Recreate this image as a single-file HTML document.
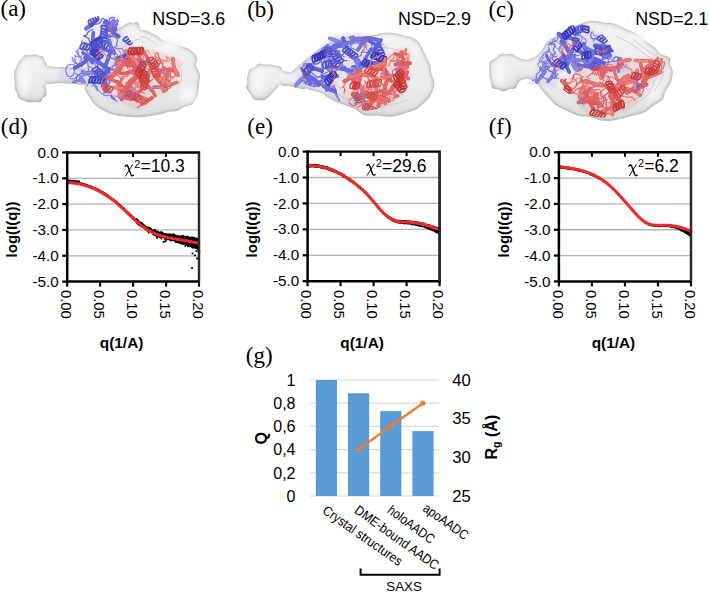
<!DOCTYPE html>
<html><head><meta charset="utf-8"><style>
html,body{margin:0;padding:0;background:#fff;width:709px;height:594px;overflow:hidden}
svg{display:block}
</style></head><body>
<svg width="709" height="594" viewBox="0 0 709 594">
<defs><filter id="soft" x="-20%" y="-20%" width="140%" height="140%"><feGaussianBlur stdDeviation="1.0"/></filter><filter id="hl" x="-50%" y="-50%" width="200%" height="200%"><feGaussianBlur stdDeviation="3"/></filter><filter id="soft2" x="-5%" y="-5%" width="110%" height="110%"><feGaussianBlur stdDeviation="0.4"/></filter><filter id="inner" x="-10%" y="-10%" width="120%" height="120%"><feGaussianBlur in="SourceAlpha" stdDeviation="1.9" result="b"/><feComposite in="SourceAlpha" in2="b" operator="out" result="rim"/><feFlood flood-color="#6e6e6e" result="fc"/><feComposite in="fc" in2="rim" operator="in" result="rimc"/><feMerge><feMergeNode in="SourceGraphic"/><feMergeNode in="rimc"/></feMerge><feGaussianBlur stdDeviation="0.5"/></filter><linearGradient id="bgr" x1="0" y1="0" x2="0" y2="1"><stop offset="0" stop-color="#f3f3f3"/><stop offset="0.6" stop-color="#ececec"/><stop offset="1" stop-color="#dedede"/></linearGradient><filter id="ct" x="-10%" y="-10%" width="120%" height="120%"><feGaussianBlur stdDeviation="0.6"/></filter>
<clipPath id="cba"><path d="M87 21.44C90.18 17.55 94.81 16.88 99.93 15.5C105.05 14.13 113.9 11.16 117.74 13.17C121.57 15.19 120.88 23.14 122.93 27.59C124.98 32.04 127.15 36.46 130.03 39.88C132.91 43.31 137.45 45.41 140.21 48.15C142.96 50.89 148.6 54.26 146.57 56.31C144.54 58.36 133.14 57.71 128.02 60.45C122.9 63.19 118.92 67.96 115.83 72.74C112.74 77.53 108.8 83.7 109.47 89.17C110.14 94.65 120.92 104.23 119.86 105.6C118.8 106.98 107.91 100.18 103.11 97.44C98.3 94.7 95.09 91.24 91.02 89.17C86.96 87.11 84.31 86.36 78.73 85.04C73.15 83.71 61.59 82.92 57.53 81.22C53.47 79.53 52.94 77.69 54.35 74.86C55.76 72.04 62.83 68.15 66.01 64.26C69.19 60.38 70.96 55.78 73.43 51.54C75.9 47.3 78.59 43.84 80.85 38.82C83.11 33.81 83.82 25.33 87 21.44Z"/></clipPath>
<clipPath id="cra"><path d="M125.38 48.37C130.5 45.32 133.77 44.84 139.69 45.19C145.61 45.55 153.34 47.84 160.89 50.49C168.43 53.14 181.42 57.56 184.95 61.09C188.48 64.63 183.09 67.88 182.09 71.69C181.08 75.51 182.19 80.23 178.91 83.99C175.62 87.75 168.2 90.49 162.37 94.27C156.54 98.05 148.06 103.72 143.93 106.67C139.79 109.62 142.02 112.68 137.57 111.97C133.12 111.27 123.4 106.85 117.22 102.43C111.03 98.02 101.85 91.96 100.47 85.47C99.09 78.99 104.8 69.72 108.95 63.53C113.1 57.35 120.25 51.43 125.38 48.37Z"/></clipPath>
<clipPath id="cbb"><path d="M300.56 65.04C304.3 59.81 311.02 54.58 316.25 49.35C321.48 44.12 325.57 36.84 331.93 33.66C338.29 30.48 348.81 30.46 354.41 30.27C360.01 30.07 360.68 31.19 365.54 32.49C370.39 33.8 379.44 34.93 383.56 38.11C387.67 41.29 390.61 47.09 390.23 51.57C389.86 56.06 386.56 60.92 381.33 65.04C376.1 69.15 365.22 74.77 358.86 76.27C352.5 77.77 346.92 71.8 343.17 74.05C339.43 76.29 336.76 84.87 336.39 89.73C336.02 94.59 341.69 101.34 340.94 103.2C340.2 105.05 334.94 103.11 331.93 100.86C328.93 98.62 326.69 91.96 322.92 89.73C319.16 87.51 314.59 87.88 309.36 87.51C304.13 87.14 294.15 88.64 291.55 87.51C288.95 86.38 292.27 84.47 293.77 80.72C295.28 76.98 296.81 70.26 300.56 65.04Z"/></clipPath>
<clipPath id="crb"><path d="M343 73.54C348.6 69.8 362.08 70.24 369.93 66.44C377.77 62.64 383.34 54.11 390.07 50.75C396.8 47.4 406.57 44.06 410.31 46.3C414.06 48.55 412.54 57.49 412.54 64.22C412.54 70.95 412.19 81.07 410.31 86.69C408.44 92.31 405.42 94.57 401.3 97.92C397.19 101.28 392.72 104.6 385.62 106.83C378.51 109.05 365.79 111.65 358.69 111.28C351.59 110.91 346.73 108.33 343 104.6C339.28 100.87 336.33 94.09 336.33 88.91C336.33 83.74 337.4 77.29 343 73.54Z"/></clipPath>
<clipPath id="cbc"><path d="M524.15 85.83C522.45 84.15 529.66 80.4 531.78 75.76C533.9 71.11 533.05 65.16 536.87 57.95C540.69 50.74 548.32 38.02 554.68 32.51C561.04 27 568.67 25.72 575.03 24.88C581.39 24.03 587.75 25.3 592.84 27.42C597.93 29.54 601.76 33.36 605.56 37.6C609.36 41.84 611.39 48.62 615.63 52.86C619.87 57.1 628.03 59.64 631 63.04C633.97 66.43 635.56 71.52 633.44 73.21C631.32 74.91 625.05 73.64 618.28 73.21C611.51 72.79 599.64 70.24 592.84 70.67C586.04 71.09 582.59 75.33 577.47 75.76C572.35 76.18 565.9 71.09 562.1 73.21C558.3 75.33 558.04 86.37 554.68 88.48C551.32 90.58 547.05 86.27 541.96 85.83C536.87 85.39 525.85 87.51 524.15 85.83Z"/></clipPath>
<clipPath id="crc"><path d="M557.82 76.99C561.25 74.45 571.85 74.45 580.71 71.91C589.58 69.36 602.14 64.27 611.03 61.73C619.92 59.19 624.26 57.49 634.03 56.64C643.8 55.79 664.56 53.67 669.65 56.64C674.74 59.61 668.38 68.96 664.56 74.45C660.74 79.94 651.43 84.13 646.75 89.61C642.07 95.09 642.42 102.65 636.47 107.31C630.52 111.97 620.32 116.71 611.03 117.59C601.74 118.48 587.04 116 580.71 112.61C574.39 109.22 576.51 101.48 573.08 97.24C569.65 93 562.69 90.54 560.15 87.17C557.61 83.8 554.39 79.54 557.82 76.99Z"/></clipPath>
</defs>
<g filter="url(#inner)" fill="url(#bgr)">
<path d="M128.44 22.72C130.54 21.97 131.6 22.98 133.16 22.95C134.73 22.91 136.79 21.9 137.84 22.51C138.9 23.11 138.98 25.44 139.51 26.59C140.04 27.73 139.7 28.62 141 29.38C142.3 30.14 145.25 30.34 147.32 31.12C149.38 31.91 151.53 33.09 153.39 34.09C155.25 35.09 156.78 36.02 158.46 37.12C160.15 38.23 161.45 39.92 163.49 40.72C165.53 41.53 168.58 41.31 170.69 41.96C172.8 42.61 174.05 43.85 176.15 44.63C178.26 45.41 181.08 45.88 183.3 46.65C185.53 47.41 187.71 48.09 189.52 49.21C191.33 50.33 192.96 51.85 194.17 53.37C195.38 54.88 196.45 56.16 196.79 58.31C197.13 60.45 195.72 63.61 196.21 66.25C196.7 68.88 199.25 71.18 199.75 74.13C200.24 77.09 199.48 80.76 199.16 83.98C198.85 87.21 198.52 90.92 197.86 93.47C197.2 96.02 196.23 97.48 195.21 99.31C194.18 101.14 193.59 103.17 191.69 104.46C189.79 105.74 186.24 105.95 183.8 107.02C181.36 108.08 179.57 110.07 177.04 110.86C174.52 111.65 171.3 111.24 168.64 111.75C165.99 112.26 164.29 113.25 161.12 113.94C157.95 114.64 153.46 115.38 149.63 115.93C145.8 116.49 142.17 117.19 138.15 117.29C134.14 117.38 129.71 116.97 125.53 116.51C121.36 116.06 116.74 115.58 113.09 114.57C109.44 113.57 106.57 112.08 103.63 110.49C100.69 108.9 97.68 107.05 95.46 105.03C93.24 103.01 91.94 100.65 90.33 98.38C88.72 96.11 86.77 94 85.8 91.4C84.83 88.8 84.77 85.7 84.49 82.8C84.21 79.9 83.6 76.87 84.11 73.99C84.62 71.11 86.81 68.4 87.58 65.53C88.35 62.65 87.75 59.4 88.73 56.74C89.72 54.08 91.84 51.92 93.49 49.56C95.14 47.19 96.66 44.72 98.63 42.57C100.59 40.42 103 38.53 105.28 36.66C107.56 34.79 109.77 32.9 112.32 31.36C114.86 29.82 117.87 28.85 120.55 27.41C123.24 25.97 126.34 23.46 128.44 22.72Z"/>
<path d="M25.06 55.2C26.38 54.69 28.36 55.34 30.03 55.18C31.69 55.02 33.55 54.13 35.04 54.24C36.53 54.35 37.61 55.43 38.97 55.84C40.32 56.25 42.22 55.82 43.17 56.7C44.12 57.57 44.07 59.75 44.68 61.09C45.29 62.42 46.49 62.82 46.85 64.71C47.21 66.59 46.97 69.85 46.83 72.39C46.69 74.93 46.14 77.43 46.01 79.92C45.87 82.41 45.97 84.77 46.01 87.34C46.05 89.9 46.77 93.5 46.26 95.31C45.76 97.13 44 97.12 42.99 98.22C41.97 99.33 41.66 101.34 40.16 101.95C38.66 102.56 36.01 101.88 33.99 101.9C31.97 101.92 29.81 102.33 28.06 102.08C26.3 101.82 24.99 101.01 23.46 100.37C21.92 99.73 19.95 99.49 18.86 98.24C17.76 96.98 17.58 94.58 16.91 92.83C16.24 91.09 15.23 89.84 14.85 87.78C14.48 85.72 14.8 82.96 14.66 80.47C14.53 77.99 13.74 75.15 14.05 72.88C14.36 70.61 15.68 68.78 16.54 66.85C17.4 64.92 18.3 62.74 19.23 61.31C20.16 59.87 21.14 59.25 22.11 58.23C23.08 57.21 23.74 55.71 25.06 55.2Z"/>
<path d="M44 67.5C46.67 64.83 54.83 66.92 60 67C65.17 67.08 70 67.5 75 68C80 68.5 87.5 67.33 90 70C92.5 72.67 92.5 81.67 90 84C87.5 86.33 80 84.17 75 84C70 83.83 65.17 83.17 60 83C54.83 82.83 46.67 85.58 44 83C41.33 80.42 41.33 70.17 44 67.5Z"/>
</g>
<g filter="url(#hl)" fill="#f7f7f7">
<ellipse cx="24.74" cy="78.5" rx="5.12" ry="16.8"/>
<ellipse cx="170.51" cy="44.8" rx="10.47" ry="6.24"/>
<ellipse cx="110.78" cy="89.08" rx="7.05" ry="7.22"/>
<ellipse cx="103.48" cy="64.22" rx="7.7" ry="5.35"/>
<ellipse cx="187.64" cy="94.79" rx="8.43" ry="8.42"/>
<ellipse cx="112.75" cy="62.1" rx="12.84" ry="7.21"/>
</g>
<g filter="url(#ct)" fill="none" stroke="#cdcdcd" stroke-width="1">
<path d="M181.66 69.3C181.56 71.16 181.67 77.5 181.08 80.49C180.49 83.49 178.61 86.15 178.12 87.28"/>
<path d="M139.69 36.25C141.33 36.76 146.64 37.79 149.54 39.3C152.45 40.81 155.86 44.32 157.13 45.32"/>
<path d="M119.43 51.63C120.64 50.47 123.91 46.67 126.7 44.7C129.49 42.74 133.66 40.57 136.16 39.86C138.66 39.15 140.49 39.78 141.7 40.43C142.92 41.09 143.15 43.22 143.43 43.78"/>
<path d="M111.49 96.24C110.42 94.74 106.35 90.66 105.08 87.24C103.81 83.82 103.42 79.52 103.89 75.73C104.35 71.94 107.19 66.36 107.86 64.49"/>
</g>
<path d="M87.8 23.6C90.8 19.93 95.17 19.3 100 18C104.83 16.7 113.18 13.9 116.8 15.8C120.42 17.7 119.77 25.2 121.7 29.4C123.63 33.6 125.68 37.77 128.4 41C131.12 44.23 135.4 46.22 138 48.8C140.6 51.38 145.92 54.57 144 56.5C142.08 58.43 131.33 57.82 126.5 60.4C121.67 62.98 117.92 67.48 115 72C112.08 76.52 108.37 82.33 109 87.5C109.63 92.67 119.8 101.7 118.8 103C117.8 104.3 107.53 97.88 103 95.3C98.47 92.72 95.43 89.45 91.6 87.5C87.77 85.55 85.27 84.85 80 83.6C74.73 82.35 63.83 81.6 60 80C56.17 78.4 55.67 76.67 57 74C58.33 71.33 65 67.67 68 64C71 60.33 72.67 56 75 52C77.33 48 79.87 44.73 82 40C84.13 35.27 84.8 27.27 87.8 23.6Z" fill="#9090dc" fill-opacity="0.18" filter="url(#soft)"/>
<path d="M126.5 50C131.33 47.12 134.42 46.67 140 47C145.58 47.33 152.88 49.5 160 52C167.12 54.5 179.37 58.67 182.7 62C186.03 65.33 180.95 68.4 180 72C179.05 75.6 180.1 80.05 177 83.6C173.9 87.15 166.9 89.73 161.4 93.3C155.9 96.87 147.9 102.22 144 105C140.1 107.78 142.2 110.67 138 110C133.8 109.33 124.63 105.17 118.8 101C112.97 96.83 104.3 91.12 103 85C101.7 78.88 107.08 70.13 111 64.3C114.92 58.47 121.67 52.88 126.5 50Z" fill="#e08080" fill-opacity="0.18" filter="url(#soft)"/>
<g filter="url(#soft2)" fill="none" stroke-linecap="round" stroke-linejoin="round">
<g clip-path="url(#cba)"><path d="M73.51 80.28C74.11 80.39 76.06 80.78 77.11 80.96C78.17 81.13 79.21 81.7 79.82 81.32C80.44 80.94 80.42 79.61 80.79 78.66C81.15 77.72 81.26 76.42 82.01 75.64C82.76 74.86 84.74 74.26 85.29 73.98" stroke="#8080e4" stroke-width="1.31"/>
<path d="M108.89 41.39C108.5 41.66 107.51 42.3 106.53 43.03C105.55 43.77 104.05 45.2 103.03 45.8C102.02 46.41 101.21 45.71 100.45 46.66C99.69 47.62 99.21 50.52 98.48 51.52C97.74 52.52 96.85 52.13 96.03 52.67C95.2 53.21 93.7 53.93 93.55 54.77C93.4 55.61 94.52 56.4 95.13 57.72C95.75 59.04 96.41 61.9 97.25 62.71C98.08 63.52 99.67 62.58 100.16 62.56" stroke="#8080e4" stroke-width="1.39"/>
<path d="M107.85 28.04C108.44 28.12 110.4 28.64 111.38 28.55C112.37 28.46 112.91 27.73 113.76 27.49C114.6 27.26 115.92 27.78 116.46 27.16C116.99 26.53 116.88 24.33 116.97 23.76" stroke="#7676e0" stroke-width="1.4"/>
<path d="M87.61 75.54C88.41 75.93 91.23 78.02 92.41 77.86C93.6 77.7 94.88 75.62 94.71 74.58C94.53 73.54 92.3 72.25 91.35 71.61C90.39 70.96 89.65 70.49 88.98 70.71C88.3 70.92 87.31 72.07 87.3 72.91C87.28 73.76 88.21 74.88 88.88 75.78C89.54 76.68 91.27 77.25 91.27 78.32C91.27 79.4 89.54 80.99 88.88 82.23C88.22 83.48 87.55 85.19 87.29 85.78" stroke="#6a6adc" stroke-width="0.91"/>
<path d="M109.31 57.74C110.09 57.97 112.71 58.42 113.96 59.1C115.21 59.79 116.56 60.83 116.81 61.84C117.06 62.86 115.23 64.07 115.46 65.19C115.69 66.3 118.62 67.84 118.21 68.54C117.79 69.24 114.39 69.16 112.99 69.39C111.58 69.62 110.82 69.6 109.8 69.92C108.79 70.25 108.18 71.06 106.88 71.34C105.57 71.62 102.79 71.54 101.97 71.58" stroke="#7676e0" stroke-width="1.34"/>
<path d="M90.44 66.65C90.82 67.11 92.52 68.57 92.67 69.41C92.83 70.25 90.96 70.69 91.4 71.7C91.84 72.72 94.73 74.4 95.3 75.5C95.87 76.6 94.98 76.95 94.83 78.3C94.68 79.64 94.47 82.68 94.4 83.56" stroke="#8080e4" stroke-width="1.09"/>
<path d="M102.24 74.41C102.84 74.2 105.29 73.78 105.88 73.14C106.47 72.49 105.4 71.18 105.77 70.55C106.14 69.91 107 69.42 108.08 69.3C109.16 69.19 110.83 70.11 112.26 69.85C113.69 69.6 116.08 68.58 116.66 67.77C117.25 66.97 116.1 65.85 115.77 65.01C115.43 64.16 114.56 63.53 114.65 62.69C114.74 61.84 116.26 60.77 116.31 59.93C116.36 59.1 115.28 58.67 114.96 57.66C114.64 56.65 114.48 54.5 114.38 53.87" stroke="#8a8ae6" stroke-width="1.17"/>
<path d="M112.67 47.95C113.27 47.69 115.59 47.05 116.27 46.38C116.95 45.7 116.59 45.08 116.76 43.89C116.93 42.71 117.61 40.41 117.28 39.28C116.95 38.15 115.94 37.65 114.78 37.09C113.62 36.53 111.08 36.12 110.34 35.93" stroke="#6a6adc" stroke-width="1.15"/>
<path d="M76.48 51.59C76.87 52.37 77.92 55.02 78.83 56.27C79.74 57.52 81.67 57.84 81.95 59.09C82.23 60.34 81.38 63.02 80.49 63.76C79.6 64.49 77.71 63.81 76.61 63.51C75.51 63.21 74.66 62.98 73.9 61.96C73.14 60.94 72.35 58.14 72.04 57.37" stroke="#8a8ae6" stroke-width="1.36"/>
<path d="M90.95 23.46C91.37 23.51 92.62 23.67 93.48 23.79C94.33 23.9 95.04 24.3 96.06 24.16C97.08 24.02 98.56 23.88 99.62 22.93C100.68 21.99 101.58 19.05 102.44 18.49C103.3 17.94 103.74 19.04 104.78 19.63C105.82 20.21 108.17 20.97 108.67 22.01C109.18 23.04 108.8 25.32 107.8 25.82C106.79 26.32 103.51 25.15 102.66 25.02" stroke="#6a6adc" stroke-width="1.32"/>
<path d="M102.82 41.1C102.21 40.82 99.71 40.24 99.15 39.41C98.58 38.59 98.87 37.44 99.41 36.16C99.96 34.87 101.21 32.36 102.42 31.72C103.64 31.07 105.56 32.41 106.71 32.3C107.87 32.18 108.38 31.41 109.34 31.02C110.31 30.64 111.38 30.36 112.5 29.99C113.61 29.62 115.41 29.41 116.03 28.8C116.66 28.18 116.41 27.37 116.26 26.29C116.11 25.21 115.31 23 115.12 22.34" stroke="#6c6cdc" stroke-width="1.16"/>
<path d="M91.85 85.65C92.49 85.55 94.67 84.41 95.68 85.03C96.68 85.66 97.15 88.28 97.9 89.4C98.64 90.52 99.34 90.95 100.12 91.76C100.9 92.57 101.59 94.18 102.59 94.26C103.59 94.35 105.55 92.59 106.14 92.26" stroke="#6c6cdc" stroke-width="1"/>
<path d="M110.76 96.48C110.4 96.25 109.77 95.27 108.64 95.09C107.51 94.9 104.68 96.04 103.98 95.39C103.28 94.73 103.7 92.16 104.45 91.17C105.2 90.18 108.11 90.03 108.47 89.45C108.83 88.87 107.24 88.73 106.6 87.68C105.95 86.63 104.97 84.57 104.59 83.13C104.21 81.69 104.36 79.71 104.31 79.02" stroke="#8a8ae6" stroke-width="1.17"/>
<path d="M104.24 66.96C104.43 67.51 104.5 69.55 105.38 70.31C106.26 71.07 108.77 70.8 109.52 71.52C110.27 72.23 110.15 73.68 109.87 74.58C109.59 75.48 107.77 75.75 107.84 76.9C107.9 78.04 110.21 80.17 110.26 81.46C110.32 82.75 109.16 84.33 108.16 84.63C107.16 84.93 105.21 83.91 104.26 83.26C103.32 82.61 102.77 81.15 102.47 80.73" stroke="#8a8ae6" stroke-width="1.24"/>
<path d="M100.99 81.91C100.56 81.22 99.09 78.79 98.41 77.74C97.73 76.69 97.06 76.69 96.94 75.63C96.82 74.56 96.93 72.18 97.71 71.35C98.48 70.53 100.73 71.2 101.59 70.66C102.45 70.12 102.89 68.97 102.86 68.11C102.82 67.26 102.32 66.25 101.38 65.53C100.44 64.81 98.3 64.36 97.21 63.77C96.13 63.19 95.44 62.75 94.88 62.04C94.32 61.33 94.02 59.94 93.85 59.51" stroke="#6c6cdc" stroke-width="1.06"/>
<path d="M97.63 60.73C97.12 61.27 94.82 63 94.62 63.95C94.42 64.91 95.67 65.67 96.44 66.46C97.21 67.25 97.94 68.07 99.25 68.68C100.56 69.29 103.08 69.63 104.31 70.13C105.54 70.63 106.18 70.85 106.62 71.69C107.06 72.52 106.09 74.38 106.97 75.14C107.84 75.9 111.05 76.07 111.87 76.26" stroke="#8080e4" stroke-width="1.18"/>
<path d="M73.61 66.78C73.75 67.64 74.72 70.41 74.41 71.95C74.11 73.49 72.83 75.29 71.77 75.99C70.71 76.7 69.03 76.92 68.05 76.17C67.08 75.42 66.15 73.06 65.92 71.49C65.69 69.93 66.04 67.9 66.66 66.75C67.29 65.6 68.74 64.93 69.69 64.59C70.65 64.26 71.36 64.97 72.4 64.73C73.44 64.48 75.55 63.95 75.96 63.11C76.36 62.28 74.95 61.02 74.82 59.73C74.7 58.44 75.16 56.1 75.23 55.38" stroke="#7676e0" stroke-width="1.04"/>
<path d="M75.8 51.21C76.43 51.88 78.7 53.82 79.58 55.21C80.46 56.6 81.23 58.02 81.08 59.56C80.93 61.1 78.49 63.23 78.7 64.45C78.9 65.67 81.7 66.47 82.3 66.88" stroke="#8a8ae6" stroke-width="1.02"/>
<path d="M95.6 59.82C95.46 59.37 95.66 58.02 94.77 57.15C93.87 56.27 91.52 55.4 90.24 54.55C88.96 53.7 87.28 53.07 87.09 52.04C86.91 51.01 88.11 48.67 89.12 48.36C90.13 48.04 92.38 49.4 93.15 50.15C93.93 50.89 93.71 51.57 93.76 52.81C93.81 54.04 92.65 56.54 93.44 57.57C94.24 58.6 97.21 59.21 98.54 59C99.86 58.8 100.93 56.78 101.41 56.34" stroke="#7676e0" stroke-width="1.33"/>
<path d="M104.15 67.82C103.62 68.25 102.06 69.73 100.98 70.39C99.89 71.04 98.59 70.88 97.65 71.74C96.71 72.61 96.1 74.51 95.35 75.57C94.59 76.63 94.05 77.55 93.13 78.08C92.21 78.61 90.32 78.1 89.81 78.75C89.3 79.4 89.55 81.38 90.08 81.97C90.62 82.57 92.54 82.25 93.03 82.31" stroke="#8a8ae6" stroke-width="1.09"/>
<path d="M135.78 53.25C135.37 53.79 134.42 56.24 133.28 56.47C132.15 56.7 130.57 55.22 128.99 54.64C127.41 54.06 124.89 53.95 123.81 52.99C122.72 52.04 123.42 49.65 122.48 48.89C121.53 48.13 119.37 48.5 118.13 48.45C116.88 48.39 115.67 47.86 115.02 48.54C114.37 49.22 113.84 51.5 114.22 52.54C114.6 53.59 116.51 53.86 117.29 54.83C118.07 55.8 117.98 57.47 118.89 58.35C119.8 59.23 122.11 59.83 122.75 60.12" stroke="#8080e4" stroke-width="1.08"/>
<path d="M100.76 42.71C100.24 42.91 98.88 43.85 97.67 43.93C96.47 44.01 94.89 43.63 93.55 43.18C92.2 42.74 90.43 42.05 89.59 41.25C88.75 40.45 89.51 39.26 88.52 38.38C87.53 37.49 84.03 36.49 83.65 35.96C83.26 35.42 85.44 35.82 86.21 35.16C86.98 34.5 87.56 32.8 88.28 32.01C89.01 31.21 89.79 30.86 90.57 30.38C91.35 29.89 92.56 29.3 92.96 29.09" stroke="#6c6cdc" stroke-width="1.36"/>
<path d="M87.81 45.3C87.55 44.92 87.35 43.28 86.29 43.03C85.23 42.79 82.06 44.29 81.43 43.82C80.8 43.35 82.33 40.81 82.52 40.21" stroke="#6262d8" stroke-width="0.98"/>
<path d="M82.31 81.98C82.46 81.4 83.78 79.58 83.24 78.5C82.7 77.42 80.14 75.73 79.08 75.51C78.02 75.28 77.84 76.59 76.87 77.15C75.91 77.71 74.47 78.64 73.31 78.87C72.15 79.09 70.5 78.56 69.93 78.5" stroke="#6c6cdc" stroke-width="0.94"/>
<path d="M75.55 73.53C76.26 73.92 78.21 75.46 79.76 75.82C81.32 76.19 83.57 76.31 84.91 75.73C86.25 75.15 87.17 73.75 87.82 72.33C88.47 70.91 88.85 68.66 88.8 67.21C88.75 65.75 87.78 65.07 87.52 63.61C87.25 62.14 87.26 59.27 87.21 58.41" stroke="#8a8ae6" stroke-width="1.36"/>
<path d="M95.11 85.83C95.53 86.62 97.66 90.42 97.66 90.59C97.66 90.75 95.82 88.22 95.13 86.83C94.44 85.43 93.55 83.55 93.51 82.22C93.46 80.89 94.61 79.43 94.84 78.87" stroke="#8080e4" stroke-width="1.17"/>
<path d="M72.36 81.98C72.88 82.08 74.75 82.92 75.47 82.57C76.2 82.22 76.59 80.74 76.72 79.87C76.85 78.99 75.86 78.18 76.25 77.34C76.65 76.5 78.09 75.52 79.07 74.84C80.04 74.16 81.04 73.72 82.1 73.26C83.15 72.79 84.85 72.27 85.4 72.07" stroke="#6262d8" stroke-width="1.27"/>
<path d="M112.17 28.35C111.97 27.6 111.43 25.45 110.98 23.87C110.53 22.29 108.93 19.93 109.47 18.87C110 17.8 113.5 16.9 114.19 17.48C114.88 18.06 113.03 21.26 113.6 22.36C114.17 23.46 117.51 23.73 117.59 24.09C117.67 24.45 114.66 24.46 114.07 24.53" stroke="#6c6cdc" stroke-width="1.3"/>
<path d="M102.58 77.72C103.45 77.74 106.58 78.18 107.82 77.87C109.06 77.56 109.71 75.59 110.04 75.87C110.36 76.14 109.89 78.37 109.76 79.52C109.62 80.68 109.94 82.09 109.22 82.8C108.5 83.51 106.57 83.85 105.42 83.77C104.28 83.68 102.86 82.55 102.34 82.3" stroke="#7676e0" stroke-width="1.29"/>
<path d="M96.91 66.73C97.13 66.26 97.99 65.11 98.23 63.93C98.46 62.75 98.08 61 98.3 59.67C98.51 58.33 99.1 57.17 99.51 55.94C99.93 54.72 100.59 52.94 100.8 52.34" stroke="#6262d8" stroke-width="1.1"/>
<path d="M111.53 97.94C112.1 98.07 115 99.22 114.97 98.69C114.95 98.15 111.74 94.75 111.39 94.72C111.05 94.69 111.84 97.41 112.88 98.49C113.92 99.57 116.84 100.75 117.63 101.2" stroke="#6262d8" stroke-width="1.13"/>
<path d="M78.45 52.55C78.31 51.99 77.01 49.73 77.61 49.19C78.2 48.64 81.25 48.73 82.02 49.29C82.79 49.86 82.22 51.55 82.24 52.59C82.26 53.63 82.46 54.77 82.13 55.54C81.8 56.3 81.38 57.12 80.26 57.19C79.13 57.27 76.18 56.19 75.36 55.99" stroke="#7676e0" stroke-width="0.94"/>
<path d="M80.48 78.28C81.11 78.89 84.43 81.59 84.27 81.92C84.1 82.24 80.3 80.51 79.5 80.23" stroke="#5050c8" stroke-width="3.06"/>
<path d="M80.48 78.28C81.11 78.89 84.43 81.59 84.27 81.92C84.1 82.24 80.3 80.51 79.5 80.23" stroke="#8a8ae6" stroke-width="2.46"/>
<path d="M118.77 36.51C117.74 35.77 114.38 33.77 112.61 32.11C110.84 30.44 109.2 28.3 108.14 26.52C107.08 24.74 106.57 22.25 106.25 21.4" stroke="#5656cc" stroke-width="3.68"/>
<path d="M118.77 36.51C117.74 35.77 114.38 33.77 112.61 32.11C110.84 30.44 109.2 28.3 108.14 26.52C107.08 24.74 106.57 22.25 106.25 21.4" stroke="#6262d8" stroke-width="3.08"/>
<path d="M105.96 78.91C105.8 79.8 104.96 82.19 104.96 84.24C104.95 86.29 105.76 90.05 105.92 91.21" stroke="#5656cc" stroke-width="3.36"/>
<path d="M105.96 78.91C105.8 79.8 104.96 82.19 104.96 84.24C104.95 86.29 105.76 90.05 105.92 91.21" stroke="#6a6adc" stroke-width="2.76"/>
<path d="M117.14 57.9C118.23 57.54 121.47 56.69 123.65 55.79C125.84 54.9 129.16 53.07 130.26 52.53" stroke="#5050c8" stroke-width="3.14"/>
<path d="M117.14 57.9C118.23 57.54 121.47 56.69 123.65 55.79C125.84 54.9 129.16 53.07 130.26 52.53" stroke="#6262d8" stroke-width="2.54"/>
<path d="M101.9 78.18C102.37 77.48 103.45 75.59 104.73 73.96C106 72.34 108.75 69.37 109.55 68.45" stroke="#5656cc" stroke-width="2.99"/>
<path d="M101.9 78.18C102.37 77.48 103.45 75.59 104.73 73.96C106 72.34 108.75 69.37 109.55 68.45" stroke="#6a6adc" stroke-width="2.39"/>
<path d="M93.32 44.89C94.5 45.37 98.09 46.9 100.4 47.79C102.7 48.69 104.92 49.7 107.15 50.27C109.38 50.84 112.68 51.06 113.79 51.22" stroke="#5050c8" stroke-width="3.56"/>
<path d="M93.32 44.89C94.5 45.37 98.09 46.9 100.4 47.79C102.7 48.69 104.92 49.7 107.15 50.27C109.38 50.84 112.68 51.06 113.79 51.22" stroke="#6a6adc" stroke-width="2.96"/>
<path d="M86.12 28.5C87.19 27.79 90.68 25.76 92.54 24.26C94.39 22.76 96.47 20.28 97.26 19.48" stroke="#5050c8" stroke-width="3.96"/>
<path d="M86.12 28.5C87.19 27.79 90.68 25.76 92.54 24.26C94.39 22.76 96.47 20.28 97.26 19.48" stroke="#6a6adc" stroke-width="3.36"/>
<path d="M104.66 22.45C105.85 22.99 109.96 24.48 111.75 25.68C113.55 26.88 114.81 29 115.42 29.66" stroke="#5656cc" stroke-width="3.86"/>
<path d="M104.66 22.45C105.85 22.99 109.96 24.48 111.75 25.68C113.55 26.88 114.81 29 115.42 29.66" stroke="#6a6adc" stroke-width="3.26"/>
<path d="M92.3 45.12C92.94 45.89 95.02 48.26 96.12 49.74C97.22 51.23 98.44 53.32 98.91 54.03" stroke="#5050c8" stroke-width="3.74"/>
<path d="M92.3 45.12C92.94 45.89 95.02 48.26 96.12 49.74C97.22 51.23 98.44 53.32 98.91 54.03" stroke="#8080e4" stroke-width="3.14"/>
<path d="M97.88 51.68C97.28 50.78 95.13 48.44 94.28 46.32C93.44 44.19 92.97 41.21 92.82 38.95C92.67 36.68 93.28 33.78 93.37 32.74" stroke="#5050c8" stroke-width="3.41"/>
<path d="M97.88 51.68C97.28 50.78 95.13 48.44 94.28 46.32C93.44 44.19 92.97 41.21 92.82 38.95C92.67 36.68 93.28 33.78 93.37 32.74" stroke="#6a6adc" stroke-width="2.81"/>
<path d="M85.74 61.2C85.05 61.72 83.45 63.21 81.61 64.3C79.78 65.39 75.87 67.17 74.72 67.75" stroke="#5656cc" stroke-width="3.82"/>
<path d="M85.74 61.2C85.05 61.72 83.45 63.21 81.61 64.3C79.78 65.39 75.87 67.17 74.72 67.75" stroke="#6262d8" stroke-width="3.22"/>
<path d="M104.52 64.98C105.12 66.11 108.6 70.48 108.12 71.79C107.63 73.11 102.68 72.7 101.6 72.89" stroke="#5050c8" stroke-width="4.13"/>
<path d="M104.52 64.98C105.12 66.11 108.6 70.48 108.12 71.79C107.63 73.11 102.68 72.7 101.6 72.89" stroke="#6262d8" stroke-width="3.53"/>
<path d="M117.25 20.94C116.69 21.57 115.32 23.28 113.87 24.69C112.43 26.1 110.32 27.94 108.58 29.42C106.84 30.9 104.31 32.88 103.45 33.57" stroke="#5050c8" stroke-width="3.13"/>
<path d="M117.25 20.94C116.69 21.57 115.32 23.28 113.87 24.69C112.43 26.1 110.32 27.94 108.58 29.42C106.84 30.9 104.31 32.88 103.45 33.57" stroke="#8a8ae6" stroke-width="2.53"/>
<path d="M109.17 40.61C109.52 41.89 110.45 46.22 111.24 48.3C112.04 50.39 113.5 52.33 113.95 53.13" stroke="#5050c8" stroke-width="3.83"/>
<path d="M109.17 40.61C109.52 41.89 110.45 46.22 111.24 48.3C112.04 50.39 113.5 52.33 113.95 53.13" stroke="#7676e0" stroke-width="3.23"/>
<path d="M84.91 57.96C86.14 58.22 90.03 58.86 92.29 59.5C94.54 60.13 96.72 60.78 98.45 61.76C100.17 62.74 101.92 64.78 102.62 65.38" stroke="#5050c8" stroke-width="3.89"/>
<path d="M84.91 57.96C86.14 58.22 90.03 58.86 92.29 59.5C94.54 60.13 96.72 60.78 98.45 61.76C100.17 62.74 101.92 64.78 102.62 65.38" stroke="#6c6cdc" stroke-width="3.29"/>
<path d="M109.9 36.32C108.69 36.5 104.83 36.83 102.61 37.39C100.38 37.94 98.5 38.65 96.55 39.64C94.6 40.63 91.85 42.72 90.9 43.33" stroke="#5050c8" stroke-width="3.5"/>
<path d="M109.9 36.32C108.69 36.5 104.83 36.83 102.61 37.39C100.38 37.94 98.5 38.65 96.55 39.64C94.6 40.63 91.85 42.72 90.9 43.33" stroke="#7676e0" stroke-width="2.9"/>
<path d="M108.92 78.12C107.84 77.77 104.66 76.84 102.44 76C100.22 75.16 96.75 73.57 95.61 73.09" stroke="#5656cc" stroke-width="3.51"/>
<path d="M108.92 78.12C107.84 77.77 104.66 76.84 102.44 76C100.22 75.16 96.75 73.57 95.61 73.09" stroke="#6c6cdc" stroke-width="2.91"/>
<path d="M106.49 63.17C106.8 62.37 107.66 60.27 108.31 58.34C108.96 56.41 110.06 52.7 110.41 51.57" stroke="#5656cc" stroke-width="3.95"/>
<path d="M106.49 63.17C106.8 62.37 107.66 60.27 108.31 58.34C108.96 56.41 110.06 52.7 110.41 51.57" stroke="#6a6adc" stroke-width="3.35"/>
<path d="M100.36 72.49C99.45 72.6 97.08 73.11 94.92 73.2C92.77 73.28 89.52 73.27 87.43 73.02C85.35 72.78 83.25 71.95 82.41 71.73" stroke="#5656cc" stroke-width="3.37"/>
<path d="M100.36 72.49C99.45 72.6 97.08 73.11 94.92 73.2C92.77 73.28 89.52 73.27 87.43 73.02C85.35 72.78 83.25 71.95 82.41 71.73" stroke="#8a8ae6" stroke-width="2.77"/>
<path d="M82.93 52.81C83.9 53.51 87.16 55.33 88.73 56.99C90.31 58.65 91.79 61.8 92.4 62.77" stroke="#5050c8" stroke-width="3.21"/>
<path d="M82.93 52.81C83.9 53.51 87.16 55.33 88.73 56.99C90.31 58.65 91.79 61.8 92.4 62.77" stroke="#6a6adc" stroke-width="2.61"/>
<path d="M113.53 20.9C112.99 21.78 111.57 24.59 110.27 26.15C108.97 27.72 106.49 29.61 105.74 30.3" stroke="#5050c8" stroke-width="3.89"/>
<path d="M113.53 20.9C112.99 21.78 111.57 24.59 110.27 26.15C108.97 27.72 106.49 29.61 105.74 30.3" stroke="#8080e4" stroke-width="3.29"/>
<path d="M98.11 58.55C97.68 57.72 96.41 55.14 95.5 53.58C94.59 52.02 93.12 49.94 92.64 49.21" stroke="#5656cc" stroke-width="3.77"/>
<path d="M98.11 58.55C97.68 57.72 96.41 55.14 95.5 53.58C94.59 52.02 93.12 49.94 92.64 49.21" stroke="#6262d8" stroke-width="3.17"/>
<ellipse cx="102.14" cy="80.47" rx="1.6" ry="3.4" transform="rotate(202.37 102.14 80.47)" stroke="#3838c0" stroke-width="1.43"/>
<ellipse cx="99.35" cy="80.26" rx="1.6" ry="3.4" transform="rotate(202.37 99.35 80.26)" stroke="#3838c0" stroke-width="1.48"/>
<ellipse cx="96.56" cy="80.04" rx="1.6" ry="3.4" transform="rotate(202.37 96.56 80.04)" stroke="#3838c0" stroke-width="1.38"/>
<ellipse cx="93.77" cy="79.83" rx="1.6" ry="3.4" transform="rotate(202.37 93.77 79.83)" stroke="#3838c0" stroke-width="1.77"/>
<ellipse cx="90.98" cy="79.62" rx="1.6" ry="3.4" transform="rotate(202.37 90.98 79.62)" stroke="#3838c0" stroke-width="1.48"/>
<ellipse cx="90.44" cy="23.05" rx="1.6" ry="3.4" transform="rotate(335.66 90.44 23.05)" stroke="#5050c8" stroke-width="1.69"/>
<ellipse cx="92.51" cy="21.17" rx="1.6" ry="3.4" transform="rotate(335.66 92.51 21.17)" stroke="#5050c8" stroke-width="1.56"/>
<ellipse cx="94.58" cy="19.28" rx="1.6" ry="3.4" transform="rotate(335.66 94.58 19.28)" stroke="#5050c8" stroke-width="1.33"/>
<ellipse cx="96.65" cy="17.39" rx="1.6" ry="3.4" transform="rotate(335.66 96.65 17.39)" stroke="#5050c8" stroke-width="1.5"/>
<ellipse cx="104.33" cy="27.66" rx="1.6" ry="3.4" transform="rotate(111.74 104.33 27.66)" stroke="#5656cc" stroke-width="1.63"/>
<ellipse cx="104.14" cy="30.45" rx="1.6" ry="3.4" transform="rotate(111.74 104.14 30.45)" stroke="#5656cc" stroke-width="1.37"/>
<ellipse cx="103.96" cy="33.25" rx="1.6" ry="3.4" transform="rotate(111.74 103.96 33.25)" stroke="#5656cc" stroke-width="1.4"/>
<ellipse cx="103.78" cy="36.04" rx="1.6" ry="3.4" transform="rotate(111.74 103.78 36.04)" stroke="#5656cc" stroke-width="1.44"/>
<ellipse cx="103.6" cy="38.84" rx="1.6" ry="3.4" transform="rotate(111.74 103.6 38.84)" stroke="#5656cc" stroke-width="1.66"/>
<ellipse cx="82.41" cy="45.88" rx="1.6" ry="3.4" transform="rotate(32.65 82.41 45.88)" stroke="#5656cc" stroke-width="1.58"/>
<ellipse cx="85.12" cy="46.59" rx="1.6" ry="3.4" transform="rotate(32.65 85.12 46.59)" stroke="#5656cc" stroke-width="1.7"/>
<ellipse cx="87.83" cy="47.3" rx="1.6" ry="3.4" transform="rotate(32.65 87.83 47.3)" stroke="#5656cc" stroke-width="1.79"/>
<ellipse cx="100.25" cy="40.2" rx="1.6" ry="3.4" transform="rotate(162.88 100.25 40.2)" stroke="#3838c0" stroke-width="1.48"/>
<ellipse cx="97.96" cy="41.81" rx="1.6" ry="3.4" transform="rotate(162.88 97.96 41.81)" stroke="#3838c0" stroke-width="1.66"/>
<ellipse cx="95.67" cy="43.42" rx="1.6" ry="3.4" transform="rotate(162.88 95.67 43.42)" stroke="#3838c0" stroke-width="1.56"/>
<ellipse cx="93.38" cy="45.03" rx="1.6" ry="3.4" transform="rotate(162.88 93.38 45.03)" stroke="#3838c0" stroke-width="1.67"/>
<ellipse cx="126.96" cy="57.51" rx="1.6" ry="3.4" transform="rotate(110.52 126.96 57.51)" stroke="#5050c8" stroke-width="1.65"/>
<ellipse cx="126.84" cy="60.31" rx="1.6" ry="3.4" transform="rotate(110.52 126.84 60.31)" stroke="#5050c8" stroke-width="1.31"/>
<ellipse cx="126.72" cy="63.1" rx="1.6" ry="3.4" transform="rotate(110.52 126.72 63.1)" stroke="#5050c8" stroke-width="1.5"/>
<ellipse cx="126.6" cy="65.9" rx="1.6" ry="3.4" transform="rotate(110.52 126.6 65.9)" stroke="#5050c8" stroke-width="1.48"/>
<ellipse cx="126.47" cy="68.7" rx="1.6" ry="3.4" transform="rotate(110.52 126.47 68.7)" stroke="#5050c8" stroke-width="1.33"/>
<ellipse cx="97.8" cy="44.19" rx="1.6" ry="3.4" transform="rotate(26.47 97.8 44.19)" stroke="#5050c8" stroke-width="1.75"/>
<ellipse cx="100.57" cy="44.6" rx="1.6" ry="3.4" transform="rotate(26.47 100.57 44.6)" stroke="#5050c8" stroke-width="1.58"/>
<ellipse cx="103.34" cy="45.01" rx="1.6" ry="3.4" transform="rotate(26.47 103.34 45.01)" stroke="#5050c8" stroke-width="1.43"/>
<ellipse cx="106.11" cy="45.42" rx="1.6" ry="3.4" transform="rotate(26.47 106.11 45.42)" stroke="#5050c8" stroke-width="1.63"/>
<ellipse cx="92.75" cy="52.04" rx="1.6" ry="3.4" transform="rotate(316.66 92.75 52.04)" stroke="#5656cc" stroke-width="1.78"/>
<ellipse cx="94.1" cy="49.58" rx="1.6" ry="3.4" transform="rotate(316.66 94.1 49.58)" stroke="#5656cc" stroke-width="1.49"/>
<ellipse cx="95.44" cy="47.12" rx="1.6" ry="3.4" transform="rotate(316.66 95.44 47.12)" stroke="#5656cc" stroke-width="1.7"/>
<ellipse cx="96.78" cy="44.67" rx="1.6" ry="3.4" transform="rotate(316.66 96.78 44.67)" stroke="#5656cc" stroke-width="1.64"/>
<ellipse cx="100.07" cy="57.05" rx="1.6" ry="3.4" transform="rotate(235.95 100.07 57.05)" stroke="#3838c0" stroke-width="1.43"/>
<ellipse cx="97.86" cy="55.33" rx="1.6" ry="3.4" transform="rotate(235.95 97.86 55.33)" stroke="#3838c0" stroke-width="1.41"/>
<ellipse cx="95.65" cy="53.61" rx="1.6" ry="3.4" transform="rotate(235.95 95.65 53.61)" stroke="#3838c0" stroke-width="1.56"/>
<ellipse cx="93.44" cy="51.88" rx="1.6" ry="3.4" transform="rotate(235.95 93.44 51.88)" stroke="#3838c0" stroke-width="1.76"/>
<ellipse cx="126.3" cy="38.83" rx="1.6" ry="3.4" transform="rotate(55.4 126.3 38.83)" stroke="#5050c8" stroke-width="1.7"/>
<ellipse cx="128.53" cy="40.53" rx="1.6" ry="3.4" transform="rotate(55.4 128.53 40.53)" stroke="#5050c8" stroke-width="1.4"/>
<ellipse cx="130.75" cy="42.23" rx="1.6" ry="3.4" transform="rotate(55.4 130.75 42.23)" stroke="#5050c8" stroke-width="1.5"/>
<ellipse cx="101.57" cy="75.03" rx="1.6" ry="3.4" transform="rotate(241.77 101.57 75.03)" stroke="#5656cc" stroke-width="1.33"/>
<ellipse cx="99.55" cy="73.09" rx="1.6" ry="3.4" transform="rotate(241.77 99.55 73.09)" stroke="#5656cc" stroke-width="1.43"/>
<ellipse cx="97.53" cy="71.16" rx="1.6" ry="3.4" transform="rotate(241.77 97.53 71.16)" stroke="#5656cc" stroke-width="1.55"/>
<ellipse cx="95.51" cy="69.22" rx="1.6" ry="3.4" transform="rotate(241.77 95.51 69.22)" stroke="#5656cc" stroke-width="1.7"/></g>
<g clip-path="url(#cra)"><path d="M134.26 92.1C133.99 92.54 133.43 94.29 132.64 94.69C131.86 95.09 130.52 94.66 129.53 94.51C128.55 94.36 127.11 94.65 126.74 93.8C126.36 92.95 127.87 90.57 127.3 89.41C126.73 88.25 124.49 87.21 123.34 86.85C122.18 86.48 121.25 86.52 120.38 87.2C119.5 87.87 118.41 89.54 118.08 90.9C117.74 92.26 118.97 94.47 118.38 95.35C117.79 96.23 115.2 96.05 114.56 96.2" stroke="#ee8484" stroke-width="1.37"/>
<path d="M157.8 73.42C157.13 73.06 154.87 71.37 153.79 71.3C152.71 71.22 152.27 73.35 151.33 72.97C150.39 72.58 149.26 69.63 148.13 68.98C147 68.33 145.97 69.13 144.56 69.07C143.15 69.01 141.34 68.53 139.68 68.62C138.01 68.72 136 70.07 134.56 69.63C133.12 69.19 131.63 66.6 131.04 65.99" stroke="#e87272" stroke-width="1.09"/>
<path d="M127.64 97.43C127.43 96.68 126.85 94.1 126.39 92.94C125.93 91.77 125.36 91.57 124.87 90.44C124.38 89.3 124.2 87.07 123.45 86.14C122.7 85.2 120.93 85.68 120.37 84.83C119.82 83.97 119.6 82.06 120.11 81.01C120.63 79.96 122.9 78.94 123.46 78.53" stroke="#de6060" stroke-width="1.34"/>
<path d="M137.48 56.57C137.9 56.32 139.04 55.42 140.01 55.09C140.98 54.76 142.38 55.21 143.29 54.58C144.21 53.96 144.71 51.96 145.53 51.33C146.34 50.7 147.4 50.4 148.16 50.78C148.92 51.16 149.77 53.14 150.09 53.61" stroke="#e46a6a" stroke-width="0.9"/>
<path d="M129.8 55.8C129.79 55.37 129.32 53.33 129.73 53.21C130.14 53.09 131.37 54.08 132.25 55.09C133.13 56.09 134.03 58.43 134.98 59.25C135.93 60.07 136.96 60.08 137.96 60C138.95 59.93 139.87 58.64 140.97 58.8C142.08 58.95 144.12 60.16 144.6 60.94C145.08 61.72 144.84 62.87 143.85 63.48C142.86 64.09 140.26 64.34 138.64 64.6C137.02 64.86 134.88 64.96 134.13 65.03" stroke="#de6060" stroke-width="1.08"/>
<path d="M163.06 66.53C162.92 66.11 162.88 65 162.21 63.98C161.53 62.96 160.08 61.07 159.01 60.4C157.95 59.72 156.45 60.68 155.81 59.95C155.17 59.22 155.28 56.67 155.17 56.02" stroke="#de6060" stroke-width="1.3"/>
<path d="M178.75 72.34C178.19 72.89 176.36 74.68 175.39 75.6C174.43 76.52 173.91 77.98 172.96 77.87C172.01 77.77 170.71 75.76 169.68 74.97C168.65 74.17 167.28 73.41 166.8 73.1" stroke="#e46a6a" stroke-width="1.35"/>
<path d="M128.63 52.93C128.82 53.33 128.98 54.91 129.73 55.34C130.48 55.76 132.18 55.88 133.14 55.46C134.1 55.04 135.28 53.82 135.49 52.81C135.7 51.79 134.21 50.19 134.39 49.36C134.57 48.53 136.29 47.28 136.55 47.82C136.81 48.35 135.56 51.64 135.95 52.56C136.33 53.48 138.38 53.21 138.87 53.34" stroke="#e46a6a" stroke-width="1.28"/>
<path d="M137.28 107.65C137.65 107.39 138.61 107.06 139.5 106.09C140.39 105.13 142.48 102.41 142.6 101.84C142.72 101.28 141.32 102.81 140.22 102.71C139.12 102.6 136.7 101.9 135.99 101.21C135.29 100.51 136 98.98 136 98.54" stroke="#e26666" stroke-width="1.21"/>
<path d="M153.1 78.81C152.51 79.32 150.76 81.38 149.53 81.88C148.29 82.38 147.18 81.75 145.72 81.8C144.25 81.84 142.16 82.07 140.72 82.18C139.29 82.28 137.71 82.39 137.11 82.43" stroke="#e26666" stroke-width="1.19"/>
<path d="M144.06 49.03C143.63 48.96 142.11 48.16 141.46 48.63C140.8 49.1 140.64 50.8 140.14 51.85C139.65 52.89 138.59 53.69 138.48 54.91C138.37 56.12 138.72 58.19 139.49 59.16C140.26 60.12 142.11 60.19 143.09 60.68C144.06 61.17 145.27 61.12 145.34 62.09C145.42 63.06 143.84 65.75 143.53 66.49" stroke="#ec7c7c" stroke-width="0.96"/>
<path d="M165.96 55.97C166.62 56.59 169.75 58.82 169.95 59.72C170.15 60.63 168.23 61.36 167.17 61.41C166.11 61.45 164.18 60.22 163.58 59.98" stroke="#e26666" stroke-width="0.91"/>
<path d="M137.02 77.81C137.05 77.12 136.67 74.75 137.23 73.65C137.79 72.55 139.74 72.43 140.37 71.22C141.01 70.01 140.19 67.46 141.05 66.37C141.91 65.27 143.94 65.12 145.54 64.64C147.13 64.16 149.78 63.69 150.63 63.5" stroke="#e87272" stroke-width="1.31"/>
<path d="M117.23 68.03C117.39 67.49 117.99 66.06 118.17 64.79C118.35 63.53 117.71 61.51 118.3 60.45C118.89 59.39 120.76 58.34 121.71 58.43C122.66 58.52 124.17 59.84 124.02 60.99C123.86 62.14 122 63.99 120.79 65.33C119.59 66.68 117.82 67.71 116.79 69.08C115.76 70.45 115.71 72.37 114.62 73.53C113.53 74.69 110.97 75.61 110.25 76.02" stroke="#de6060" stroke-width="1.23"/>
<path d="M119.62 60.2C120.03 59.7 121.87 56.99 122.09 57.18C122.31 57.37 121.06 60.16 120.95 61.36C120.84 62.56 122.1 63.71 121.44 64.41C120.79 65.1 117.75 65.34 117.01 65.53" stroke="#ee8484" stroke-width="1.26"/>
<path d="M124.19 70.6C123.63 70.23 121.19 69.33 120.82 68.4C120.45 67.48 121.35 65.93 121.98 65.06C122.6 64.19 123.62 63.7 124.57 63.18C125.52 62.65 126.74 61.74 127.68 61.9C128.61 62.06 129.93 63.03 130.18 64.14C130.44 65.25 129.36 67.82 129.19 68.56" stroke="#ec7c7c" stroke-width="1.01"/>
<path d="M141.05 59.52C140.71 59.81 139.66 60.51 138.99 61.24C138.31 61.98 137.73 62.69 137.01 63.94C136.28 65.19 134.91 67.2 134.65 68.76C134.38 70.31 135.46 72.02 135.4 73.28C135.34 74.54 134.47 75.81 134.29 76.31" stroke="#ec7c7c" stroke-width="1.09"/>
<path d="M133.93 64.53C133.99 65 134.44 66.26 134.27 67.33C134.11 68.4 132.77 69.64 132.95 70.95C133.14 72.26 134.58 74.64 135.38 75.17C136.18 75.71 136.61 74.43 137.76 74.16C138.92 73.89 141.37 72.85 142.32 73.55C143.27 74.25 143.85 77.09 143.46 78.36C143.07 79.64 140.49 80.29 139.97 81.21C139.46 82.14 139.7 83.17 140.37 83.9C141.05 84.63 142.72 85.04 144.01 85.59C145.31 86.15 147.47 86.95 148.16 87.22" stroke="#e46a6a" stroke-width="1.39"/>
<path d="M134.49 99.21C134.06 99.31 132.54 100.42 131.89 99.81C131.24 99.2 130.31 96.99 130.57 95.54C130.83 94.09 132.54 92.4 133.44 91.08C134.33 89.77 135.03 88.89 135.92 87.64C136.82 86.38 138.05 84.61 138.81 83.57C139.58 82.52 139.83 81.75 140.53 81.37C141.23 80.99 142.46 80.57 143.04 81.31C143.62 82.05 144.39 84.35 144.04 85.79C143.68 87.23 141.44 89.28 140.92 89.98" stroke="#ee8484" stroke-width="1.31"/>
<path d="M112.54 76.53C113.33 76.28 116.2 74.93 117.31 75.04C118.42 75.14 118.29 76.42 119.19 77.15C120.08 77.89 122.44 78.34 122.68 79.45C122.92 80.57 120.34 82.45 120.64 83.83C120.95 85.21 123.62 86.71 124.52 87.73C125.41 88.76 125.04 89.46 126.02 89.98C127.01 90.5 129.13 90.57 130.43 90.85C131.72 91.12 132.68 91.6 133.77 91.61C134.85 91.62 135.75 90.99 136.93 90.9C138.1 90.82 140.17 91.08 140.82 91.12" stroke="#e87272" stroke-width="1.19"/>
<path d="M167.53 78.74C167.88 79.25 169.05 80.49 169.6 81.82C170.16 83.16 171.24 85.67 170.89 86.75C170.54 87.84 168.06 88.85 167.49 88.33C166.93 87.8 167.18 84.81 167.47 83.62C167.76 82.44 168.65 81.95 169.23 81.23C169.81 80.51 170.91 80.13 170.95 79.3C170.99 78.46 169.74 76.73 169.49 76.22" stroke="#e26666" stroke-width="1.22"/>
<path d="M136.17 51.94C135.84 52.47 135.07 54.7 134.24 55.16C133.4 55.62 131.63 55.45 131.16 54.68C130.7 53.9 131.39 51.2 131.43 50.51" stroke="#e46a6a" stroke-width="1.1"/>
<path d="M126.86 93.58C127.61 93.88 129.9 95.05 131.39 95.37C132.89 95.69 134.67 95.69 135.84 95.5C137 95.31 137.61 95.02 138.38 94.22C139.15 93.42 140.4 91.82 140.47 90.7C140.54 89.57 139.78 88.44 138.81 87.45C137.83 86.47 135.32 85.24 134.62 84.8" stroke="#ee8484" stroke-width="0.95"/>
<path d="M132.64 66.81C131.96 66.84 129.72 67.32 128.57 66.97C127.41 66.63 126.46 65.51 125.7 64.76C124.95 64.01 124.36 63.46 124.04 62.49C123.72 61.52 123.83 59.52 123.79 58.93" stroke="#ee8484" stroke-width="1.08"/>
<path d="M127 85.38C126.56 85.56 125.35 86.5 124.36 86.46C123.38 86.41 121.7 85.86 121.09 85.12C120.48 84.37 120.66 83.33 120.73 82C120.79 80.67 120.62 78.01 121.48 77.13C122.34 76.26 124.76 77.02 125.91 76.75C127.06 76.48 127.97 75.71 128.38 75.51" stroke="#e26666" stroke-width="1.24"/>
<path d="M169.27 67.68C169.59 68.13 170 69.69 171.19 70.43C172.39 71.17 175.55 71.34 176.43 72.1C177.32 72.86 177.03 75.07 176.51 75.01C175.99 74.96 174.52 72.28 173.3 71.79C172.08 71.31 170.27 72.57 169.17 72.12C168.07 71.66 167.79 69.84 166.7 69.05C165.62 68.25 163.29 68.45 162.67 67.34C162.06 66.24 162.96 63.22 163.02 62.39" stroke="#e87272" stroke-width="1.29"/>
<path d="M138.11 94.35C137.31 94.54 134.93 94.97 133.34 95.49C131.75 96.02 130.16 97.42 128.56 97.52C126.96 97.63 124.51 96.95 123.75 96.13C123 95.3 123.31 93.53 124.04 92.57C124.77 91.61 126.83 90.67 128.12 90.37C129.41 90.07 130.6 90.25 131.79 90.79C132.98 91.33 134.66 93.15 135.24 93.62" stroke="#e46a6a" stroke-width="1.36"/>
<path d="M119.83 73.13C119.83 72.64 120.22 71.15 119.83 70.17C119.44 69.19 117.45 68.52 117.49 67.27C117.53 66.02 119.94 64.14 120.08 62.66C120.22 61.18 118.54 58.43 118.34 58.39C118.14 58.34 118.67 61.04 118.89 62.39C119.11 63.73 120.16 65.26 119.68 66.46C119.2 67.65 116.74 68.64 115.99 69.55C115.23 70.47 115.99 71.36 115.12 71.95C114.26 72.53 111.53 72.88 110.81 73.07" stroke="#ec7c7c" stroke-width="1.2"/>
<path d="M144.44 71.48C143.69 71.2 141.27 69.59 139.93 69.81C138.59 70.03 137.24 71.91 136.41 72.79C135.58 73.68 135.56 74.12 134.94 75.15C134.33 76.17 133.15 77.7 132.74 78.95C132.32 80.21 131.65 81.81 132.45 82.67C133.24 83.54 136.46 83.4 137.5 84.15C138.55 84.9 138.03 86.46 138.71 87.18C139.39 87.9 141.13 87.81 141.57 88.47C142.02 89.13 140.92 90.31 141.37 91.16C141.82 92 143.78 93.13 144.27 93.52" stroke="#e26666" stroke-width="1.13"/>
<path d="M141.8 61.57C142.15 61.01 143.99 59.55 143.92 58.18C143.84 56.81 142.16 54.45 141.33 53.35C140.5 52.25 139.88 52.25 138.93 51.58C137.99 50.91 136.22 49.69 135.67 49.32" stroke="#ec7c7c" stroke-width="1.38"/>
<path d="M120.41 59.55C119.93 59.68 118.19 59.7 117.52 60.29C116.84 60.87 116.24 62.95 116.36 63.06C116.48 63.17 117.11 61.29 118.24 60.95C119.37 60.61 121.56 60.75 123.16 61.04C124.76 61.34 127.18 61.98 127.86 62.72C128.54 63.46 127.25 64.53 127.25 65.48C127.25 66.44 127.77 67.94 127.87 68.44" stroke="#de6060" stroke-width="1.23"/>
<path d="M125.83 82.33C126.15 82.79 126.78 84.43 127.73 85.09C128.69 85.75 130.87 85.6 131.58 86.29C132.3 86.98 132.63 88.24 132.02 89.23C131.42 90.23 128.64 91.76 127.96 92.26" stroke="#e26666" stroke-width="0.94"/>
<path d="M166.78 57.25C166.82 57.7 167.54 59.26 167.01 59.91C166.49 60.55 164.67 61.19 163.64 61.14C162.62 61.08 161.88 60.05 160.85 59.57C159.83 59.09 158.48 59.25 157.49 58.26C156.49 57.26 154.78 54.39 154.87 53.61C154.97 52.83 157.43 53.13 158.07 53.59C158.71 54.05 158.6 55.89 158.71 56.35" stroke="#ee8484" stroke-width="1.27"/>
<path d="M118.57 70.15C119.03 70.74 120.48 73.26 121.34 73.69C122.2 74.11 122.44 73.03 123.73 72.7C125.03 72.38 127.42 71.59 129.1 71.74C130.78 71.89 132.8 72.66 133.81 73.61C134.82 74.56 134.93 76.81 135.16 77.44" stroke="#e46a6a" stroke-width="1.12"/>
<path d="M157.15 52.42C157.38 53.01 158.09 54.92 158.49 55.93C158.89 56.93 159.09 57.39 159.57 58.44C160.05 59.49 161.65 61.19 161.37 62.21C161.09 63.23 158.42 63.61 157.91 64.56C157.41 65.52 157.82 66.75 158.33 67.94C158.84 69.13 161.13 70.38 160.99 71.7C160.86 73.02 158.08 75.16 157.5 75.85" stroke="#e87272" stroke-width="1.33"/>
<path d="M142.03 84.21C142.44 83.81 144.23 82.98 144.48 81.79C144.73 80.6 144.51 78.15 143.52 77.07C142.54 76 139.79 75.19 138.59 75.32C137.38 75.44 136.81 76.51 136.3 77.82C135.79 79.14 135.6 81.84 135.52 83.23C135.45 84.62 135.18 85.32 135.86 86.16C136.54 87 138.98 87.13 139.62 88.28C140.25 89.44 139.68 92.28 139.69 93.08" stroke="#ee8484" stroke-width="1.3"/>
<path d="M169.42 72.68C168.86 73.83 166.83 77.62 166.07 79.61C165.3 81.59 165.2 82.58 164.82 84.6C164.45 86.61 163.99 90.51 163.82 91.69" stroke="#d44c4c" stroke-width="3.53"/>
<path d="M169.42 72.68C168.86 73.83 166.83 77.62 166.07 79.61C165.3 81.59 165.2 82.58 164.82 84.6C164.45 86.61 163.99 90.51 163.82 91.69" stroke="#ec7c7c" stroke-width="2.93"/>
<path d="M136.01 59.65C136.33 60.84 137.22 64.69 137.9 66.76C138.57 68.82 139.46 70.23 140.08 72.04C140.7 73.84 141.36 76.68 141.62 77.61" stroke="#d44c4c" stroke-width="3.53"/>
<path d="M136.01 59.65C136.33 60.84 137.22 64.69 137.9 66.76C138.57 68.82 139.46 70.23 140.08 72.04C140.7 73.84 141.36 76.68 141.62 77.61" stroke="#e26666" stroke-width="2.93"/>
<path d="M172.9 58.62C173.02 59.82 173.24 63.81 173.65 65.8C174.06 67.8 174.61 69.06 175.35 70.61C176.09 72.17 177.62 74.38 178.07 75.14" stroke="#d04848" stroke-width="3.76"/>
<path d="M172.9 58.62C173.02 59.82 173.24 63.81 173.65 65.8C174.06 67.8 174.61 69.06 175.35 70.61C176.09 72.17 177.62 74.38 178.07 75.14" stroke="#ec7c7c" stroke-width="3.16"/>
<path d="M120.36 73.1C121.23 73.17 123.49 73.75 125.56 73.48C127.63 73.21 130.55 71.68 132.79 71.48C135.03 71.28 137.96 72.16 139 72.29" stroke="#d04848" stroke-width="3.74"/>
<path d="M120.36 73.1C121.23 73.17 123.49 73.75 125.56 73.48C127.63 73.21 130.55 71.68 132.79 71.48C135.03 71.28 137.96 72.16 139 72.29" stroke="#de6060" stroke-width="3.14"/>
<path d="M128.38 55.73C128.71 56.6 129.3 59.15 130.34 60.95C131.37 62.76 133.48 64.49 134.59 66.56C135.7 68.62 136.61 72.19 137.01 73.32" stroke="#d44c4c" stroke-width="4.13"/>
<path d="M128.38 55.73C128.71 56.6 129.3 59.15 130.34 60.95C131.37 62.76 133.48 64.49 134.59 66.56C135.7 68.62 136.61 72.19 137.01 73.32" stroke="#de6060" stroke-width="3.53"/>
<path d="M132.67 54.57C132.07 55.6 130.2 59.02 129.04 60.76C127.87 62.49 126.25 64.26 125.69 64.96" stroke="#d04848" stroke-width="3.25"/>
<path d="M132.67 54.57C132.07 55.6 130.2 59.02 129.04 60.76C127.87 62.49 126.25 64.26 125.69 64.96" stroke="#de6060" stroke-width="2.65"/>
<path d="M144.99 81.04C144.37 80.42 142.63 78.42 141.28 77.34C139.92 76.26 138.7 75.5 136.85 74.56C135 73.61 131.28 72.14 130.17 71.66" stroke="#d04848" stroke-width="4.09"/>
<path d="M144.99 81.04C144.37 80.42 142.63 78.42 141.28 77.34C139.92 76.26 138.7 75.5 136.85 74.56C135 73.61 131.28 72.14 130.17 71.66" stroke="#e87272" stroke-width="3.49"/>
<path d="M111.36 77.47C112.29 76.52 115.44 73.35 116.97 71.79C118.51 70.23 119.44 69.67 120.54 68.12C121.63 66.56 123.05 63.4 123.55 62.46" stroke="#d44c4c" stroke-width="3.75"/>
<path d="M111.36 77.47C112.29 76.52 115.44 73.35 116.97 71.79C118.51 70.23 119.44 69.67 120.54 68.12C121.63 66.56 123.05 63.4 123.55 62.46" stroke="#e26666" stroke-width="3.15"/>
<path d="M134.92 50.27C135.65 51.28 138.36 54.49 139.3 56.32C140.25 58.14 140.38 60.41 140.6 61.22" stroke="#d44c4c" stroke-width="3.39"/>
<path d="M134.92 50.27C135.65 51.28 138.36 54.49 139.3 56.32C140.25 58.14 140.38 60.41 140.6 61.22" stroke="#e26666" stroke-width="2.79"/>
<path d="M155.03 76.3C155.87 77.32 158.31 80.53 160.07 82.4C161.83 84.28 164.67 86.69 165.59 87.54" stroke="#d44c4c" stroke-width="3.59"/>
<path d="M155.03 76.3C155.87 77.32 158.31 80.53 160.07 82.4C161.83 84.28 164.67 86.69 165.59 87.54" stroke="#de6060" stroke-width="2.99"/>
<path d="M152.73 66.98C152.08 67.9 150.01 70.39 148.83 72.51C147.65 74.62 146.65 77.41 145.65 79.68C144.64 81.95 143.3 85.05 142.83 86.12" stroke="#d04848" stroke-width="3.67"/>
<path d="M152.73 66.98C152.08 67.9 150.01 70.39 148.83 72.51C147.65 74.62 146.65 77.41 145.65 79.68C144.64 81.95 143.3 85.05 142.83 86.12" stroke="#ec7c7c" stroke-width="3.07"/>
<path d="M153.92 86.93C155 87.01 158.32 86.87 160.4 87.37C162.48 87.87 165.41 89.52 166.41 89.95" stroke="#d44c4c" stroke-width="3.5"/>
<path d="M153.92 86.93C155 87.01 158.32 86.87 160.4 87.37C162.48 87.87 165.41 89.52 166.41 89.95" stroke="#ec7c7c" stroke-width="2.9"/>
<path d="M148.76 86.81C147.69 87.24 144.09 88.35 142.34 89.38C140.6 90.42 138.98 92.41 138.31 93.01" stroke="#d44c4c" stroke-width="2.84"/>
<path d="M148.76 86.81C147.69 87.24 144.09 88.35 142.34 89.38C140.6 90.42 138.98 92.41 138.31 93.01" stroke="#e46a6a" stroke-width="2.24"/>
<path d="M121.69 99.23C121.75 98.08 122.28 94.47 122.08 92.34C121.89 90.22 121.28 88.17 120.52 86.49C119.76 84.8 118.01 82.94 117.51 82.23" stroke="#d04848" stroke-width="4"/>
<path d="M121.69 99.23C121.75 98.08 122.28 94.47 122.08 92.34C121.89 90.22 121.28 88.17 120.52 86.49C119.76 84.8 118.01 82.94 117.51 82.23" stroke="#de6060" stroke-width="3.4"/>
<path d="M128.19 88.94C127.02 88.78 123.33 88.23 121.18 87.98C119.04 87.73 116.29 87.53 115.31 87.44" stroke="#d04848" stroke-width="3.74"/>
<path d="M128.19 88.94C127.02 88.78 123.33 88.23 121.18 87.98C119.04 87.73 116.29 87.53 115.31 87.44" stroke="#ee8484" stroke-width="3.14"/>
<path d="M122.67 92.94C122.32 93.8 121.17 98.48 120.58 98.06C119.98 97.65 119.34 91.72 119.09 90.45" stroke="#d44c4c" stroke-width="2.83"/>
<path d="M122.67 92.94C122.32 93.8 121.17 98.48 120.58 98.06C119.98 97.65 119.34 91.72 119.09 90.45" stroke="#ec7c7c" stroke-width="2.23"/>
<path d="M166.1 85.46C167 85.3 169.69 85.01 171.5 84.49C173.31 83.98 176.05 82.73 176.96 82.37" stroke="#d44c4c" stroke-width="3.35"/>
<path d="M166.1 85.46C167 85.3 169.69 85.01 171.5 84.49C173.31 83.98 176.05 82.73 176.96 82.37" stroke="#e87272" stroke-width="2.75"/>
<path d="M134.44 94.37C135.51 94.78 138.86 96.09 140.89 96.87C142.92 97.65 145.68 98.7 146.64 99.06" stroke="#d04848" stroke-width="3.03"/>
<path d="M134.44 94.37C135.51 94.78 138.86 96.09 140.89 96.87C142.92 97.65 145.68 98.7 146.64 99.06" stroke="#e87272" stroke-width="2.43"/>
<path d="M155.09 95.84C154.63 94.99 153.57 92.43 152.32 90.73C151.08 89.02 149.13 87.56 147.61 85.63C146.09 83.7 143.94 80.24 143.21 79.16" stroke="#d04848" stroke-width="3.26"/>
<path d="M155.09 95.84C154.63 94.99 153.57 92.43 152.32 90.73C151.08 89.02 149.13 87.56 147.61 85.63C146.09 83.7 143.94 80.24 143.21 79.16" stroke="#e46a6a" stroke-width="2.66"/>
<path d="M164.7 68C164.84 68.87 165.42 71.49 165.56 73.22C165.7 74.94 165.78 76.44 165.55 78.37C165.33 80.3 164.43 83.73 164.21 84.81" stroke="#d44c4c" stroke-width="3.2"/>
<path d="M164.7 68C164.84 68.87 165.42 71.49 165.56 73.22C165.7 74.94 165.78 76.44 165.55 78.37C165.33 80.3 164.43 83.73 164.21 84.81" stroke="#e87272" stroke-width="2.6"/>
<path d="M137.59 72.09C137.1 73.26 135.83 77.06 134.64 79.07C133.45 81.09 131.73 82.16 130.46 84.17C129.19 86.18 127.6 89.97 127.02 91.13" stroke="#d04848" stroke-width="3.91"/>
<path d="M137.59 72.09C137.1 73.26 135.83 77.06 134.64 79.07C133.45 81.09 131.73 82.16 130.46 84.17C129.19 86.18 127.6 89.97 127.02 91.13" stroke="#e46a6a" stroke-width="3.31"/>
<path d="M137.22 76.99C136.28 77.45 133.12 78.64 131.61 79.76C130.09 80.88 129.31 81.87 128.13 83.71C126.96 85.56 125.15 89.64 124.55 90.82" stroke="#d04848" stroke-width="3.66"/>
<path d="M137.22 76.99C136.28 77.45 133.12 78.64 131.61 79.76C130.09 80.88 129.31 81.87 128.13 83.71C126.96 85.56 125.15 89.64 124.55 90.82" stroke="#e26666" stroke-width="3.06"/>
<path d="M124.37 97.23C125.4 97.46 128.42 98.5 130.51 98.64C132.6 98.78 135.84 98.17 136.91 98.07" stroke="#d04848" stroke-width="4.14"/>
<path d="M124.37 97.23C125.4 97.46 128.42 98.5 130.51 98.64C132.6 98.78 135.84 98.17 136.91 98.07" stroke="#e26666" stroke-width="3.54"/>
<path d="M158.35 74.57C159.2 75.45 161.59 78.28 163.46 79.85C165.34 81.43 168.59 83.35 169.62 84.04" stroke="#d04848" stroke-width="3.37"/>
<path d="M158.35 74.57C159.2 75.45 161.59 78.28 163.46 79.85C165.34 81.43 168.59 83.35 169.62 84.04" stroke="#ee8484" stroke-width="2.77"/>
<path d="M147.95 62.45C147.08 62.4 144.67 62.17 142.74 62.16C140.8 62.15 138.64 61.88 136.34 62.37C134.04 62.85 130.18 64.6 128.95 65.04" stroke="#d44c4c" stroke-width="3.99"/>
<path d="M147.95 62.45C147.08 62.4 144.67 62.17 142.74 62.16C140.8 62.15 138.64 61.88 136.34 62.37C134.04 62.85 130.18 64.6 128.95 65.04" stroke="#e26666" stroke-width="3.39"/>
<path d="M153.85 68.15C155.05 68.56 159.01 70.13 161.05 70.61C163.1 71.09 164.35 71.19 166.14 71.03C167.92 70.87 170.83 69.87 171.77 69.63" stroke="#d44c4c" stroke-width="3.09"/>
<path d="M153.85 68.15C155.05 68.56 159.01 70.13 161.05 70.61C163.1 71.09 164.35 71.19 166.14 71.03C167.92 70.87 170.83 69.87 171.77 69.63" stroke="#e87272" stroke-width="2.49"/>
<path d="M139.11 66.88C138.56 65.87 137.27 62.66 135.85 60.84C134.42 59.01 132.18 57.59 130.56 55.94C128.95 54.29 126.89 51.78 126.16 50.95" stroke="#d44c4c" stroke-width="3.72"/>
<path d="M139.11 66.88C138.56 65.87 137.27 62.66 135.85 60.84C134.42 59.01 132.18 57.59 130.56 55.94C128.95 54.29 126.89 51.78 126.16 50.95" stroke="#ee8484" stroke-width="3.12"/>
<path d="M121.23 85.06C120.25 84.44 117.48 82.37 115.35 81.34C113.22 80.31 109.62 79.28 108.47 78.87" stroke="#d44c4c" stroke-width="3.28"/>
<path d="M121.23 85.06C120.25 84.44 117.48 82.37 115.35 81.34C113.22 80.31 109.62 79.28 108.47 78.87" stroke="#e46a6a" stroke-width="2.68"/>
<path d="M169.94 68.7C169.06 69.04 166.74 69.83 164.66 70.75C162.58 71.67 158.68 73.65 157.48 74.23" stroke="#d44c4c" stroke-width="3.08"/>
<path d="M169.94 68.7C169.06 69.04 166.74 69.83 164.66 70.75C162.58 71.67 158.68 73.65 157.48 74.23" stroke="#e46a6a" stroke-width="2.48"/>
<path d="M142.7 50.25C143.41 51.37 145.85 54.91 146.94 56.96C148.04 59 148.35 60.65 149.26 62.51C150.16 64.38 151.84 67.21 152.35 68.15" stroke="#d44c4c" stroke-width="3.16"/>
<path d="M142.7 50.25C143.41 51.37 145.85 54.91 146.94 56.96C148.04 59 148.35 60.65 149.26 62.51C150.16 64.38 151.84 67.21 152.35 68.15" stroke="#e26666" stroke-width="2.56"/>
<path d="M162.99 83.83C163.21 82.73 163.84 79.41 164.29 77.26C164.74 75.1 165.46 71.98 165.69 70.92" stroke="#d44c4c" stroke-width="3.03"/>
<path d="M162.99 83.83C163.21 82.73 163.84 79.41 164.29 77.26C164.74 75.1 165.46 71.98 165.69 70.92" stroke="#ee8484" stroke-width="2.43"/>
<path d="M141.84 104.09C142.58 103.66 144.6 102.52 146.28 101.5C147.97 100.48 151 98.56 151.95 97.97" stroke="#d04848" stroke-width="3.42"/>
<path d="M141.84 104.09C142.58 103.66 144.6 102.52 146.28 101.5C147.97 100.48 151 98.56 151.95 97.97" stroke="#de6060" stroke-width="2.82"/>
<path d="M131.1 94.81C131.91 95.26 134.24 96.68 135.91 97.5C137.58 98.31 139.48 98.85 141.11 99.7C142.74 100.56 144.94 102.13 145.7 102.62" stroke="#d04848" stroke-width="3.61"/>
<path d="M131.1 94.81C131.91 95.26 134.24 96.68 135.91 97.5C137.58 98.31 139.48 98.85 141.11 99.7C142.74 100.56 144.94 102.13 145.7 102.62" stroke="#e26666" stroke-width="3.01"/>
<path d="M132.85 88.41C133.49 89.48 135.64 92.94 136.68 94.86C137.73 96.78 138.71 99.08 139.11 99.93" stroke="#d04848" stroke-width="3.69"/>
<path d="M132.85 88.41C133.49 89.48 135.64 92.94 136.68 94.86C137.73 96.78 138.71 99.08 139.11 99.93" stroke="#ee8484" stroke-width="3.09"/>
<ellipse cx="156.04" cy="65.35" rx="1.6" ry="3.4" transform="rotate(242.88 156.04 65.35)" stroke="#d04848" stroke-width="1.47"/>
<ellipse cx="154.06" cy="63.37" rx="1.6" ry="3.4" transform="rotate(242.88 154.06 63.37)" stroke="#d04848" stroke-width="1.74"/>
<ellipse cx="152.08" cy="61.4" rx="1.6" ry="3.4" transform="rotate(242.88 152.08 61.4)" stroke="#d04848" stroke-width="1.41"/>
<ellipse cx="150.09" cy="59.42" rx="1.6" ry="3.4" transform="rotate(242.88 150.09 59.42)" stroke="#d04848" stroke-width="1.54"/>
<ellipse cx="138.22" cy="98.18" rx="1.6" ry="3.4" transform="rotate(223.19 138.22 98.18)" stroke="#d04848" stroke-width="1.41"/>
<ellipse cx="135.68" cy="96.98" rx="1.6" ry="3.4" transform="rotate(223.19 135.68 96.98)" stroke="#d04848" stroke-width="1.41"/>
<ellipse cx="133.15" cy="95.79" rx="1.6" ry="3.4" transform="rotate(223.19 133.15 95.79)" stroke="#d04848" stroke-width="1.61"/>
<ellipse cx="130.62" cy="94.6" rx="1.6" ry="3.4" transform="rotate(223.19 130.62 94.6)" stroke="#d04848" stroke-width="1.38"/>
<ellipse cx="128.08" cy="93.41" rx="1.6" ry="3.4" transform="rotate(223.19 128.08 93.41)" stroke="#d04848" stroke-width="1.78"/>
<ellipse cx="138.07" cy="74.16" rx="1.6" ry="3.4" transform="rotate(315.96 138.07 74.16)" stroke="#c83a3a" stroke-width="1.54"/>
<ellipse cx="139.38" cy="71.69" rx="1.6" ry="3.4" transform="rotate(315.96 139.38 71.69)" stroke="#c83a3a" stroke-width="1.6"/>
<ellipse cx="140.7" cy="69.22" rx="1.6" ry="3.4" transform="rotate(315.96 140.7 69.22)" stroke="#c83a3a" stroke-width="1.47"/>
<ellipse cx="142.01" cy="66.74" rx="1.6" ry="3.4" transform="rotate(315.96 142.01 66.74)" stroke="#c83a3a" stroke-width="1.68"/>
<ellipse cx="143.32" cy="64.27" rx="1.6" ry="3.4" transform="rotate(315.96 143.32 64.27)" stroke="#c83a3a" stroke-width="1.46"/>
<ellipse cx="141.19" cy="50.72" rx="1.6" ry="3.4" transform="rotate(195.46 141.19 50.72)" stroke="#c03434" stroke-width="1.73"/>
<ellipse cx="138.39" cy="50.85" rx="1.6" ry="3.4" transform="rotate(195.46 138.39 50.85)" stroke="#c03434" stroke-width="1.67"/>
<ellipse cx="135.59" cy="50.97" rx="1.6" ry="3.4" transform="rotate(195.46 135.59 50.97)" stroke="#c03434" stroke-width="1.68"/>
<ellipse cx="132.79" cy="51.1" rx="1.6" ry="3.4" transform="rotate(195.46 132.79 51.1)" stroke="#c03434" stroke-width="1.64"/>
<ellipse cx="130" cy="51.22" rx="1.6" ry="3.4" transform="rotate(195.46 130 51.22)" stroke="#c03434" stroke-width="1.77"/>
<ellipse cx="142.2" cy="80.6" rx="1.6" ry="3.4" transform="rotate(303.48 142.2 80.6)" stroke="#c03434" stroke-width="1.75"/>
<ellipse cx="142.95" cy="77.9" rx="1.6" ry="3.4" transform="rotate(303.48 142.95 77.9)" stroke="#c03434" stroke-width="1.61"/>
<ellipse cx="143.7" cy="75.2" rx="1.6" ry="3.4" transform="rotate(303.48 143.7 75.2)" stroke="#c03434" stroke-width="1.58"/>
<ellipse cx="144.45" cy="72.5" rx="1.6" ry="3.4" transform="rotate(303.48 144.45 72.5)" stroke="#c03434" stroke-width="1.32"/>
<ellipse cx="110.67" cy="89.68" rx="1.6" ry="3.4" transform="rotate(214.21 110.67 89.68)" stroke="#d44c4c" stroke-width="1.65"/>
<ellipse cx="107.98" cy="88.9" rx="1.6" ry="3.4" transform="rotate(214.21 107.98 88.9)" stroke="#d44c4c" stroke-width="1.55"/>
<ellipse cx="105.29" cy="88.11" rx="1.6" ry="3.4" transform="rotate(214.21 105.29 88.11)" stroke="#d44c4c" stroke-width="1.51"/>
<ellipse cx="102.6" cy="87.33" rx="1.6" ry="3.4" transform="rotate(214.21 102.6 87.33)" stroke="#d44c4c" stroke-width="1.5"/>
<ellipse cx="99.92" cy="86.55" rx="1.6" ry="3.4" transform="rotate(214.21 99.92 86.55)" stroke="#d44c4c" stroke-width="1.55"/>
<ellipse cx="145.15" cy="80.58" rx="1.6" ry="3.4" transform="rotate(301.89 145.15 80.58)" stroke="#d04848" stroke-width="1.31"/>
<ellipse cx="145.83" cy="77.86" rx="1.6" ry="3.4" transform="rotate(301.89 145.83 77.86)" stroke="#d04848" stroke-width="1.45"/>
<ellipse cx="146.5" cy="75.15" rx="1.6" ry="3.4" transform="rotate(301.89 146.5 75.15)" stroke="#d04848" stroke-width="1.32"/>
<ellipse cx="152.44" cy="64.99" rx="1.6" ry="3.4" transform="rotate(86.85 152.44 64.99)" stroke="#d44c4c" stroke-width="1.65"/>
<ellipse cx="153.45" cy="67.6" rx="1.6" ry="3.4" transform="rotate(86.85 153.45 67.6)" stroke="#d44c4c" stroke-width="1.67"/>
<ellipse cx="154.46" cy="70.21" rx="1.6" ry="3.4" transform="rotate(86.85 154.46 70.21)" stroke="#d44c4c" stroke-width="1.53"/>
<ellipse cx="155.47" cy="72.82" rx="1.6" ry="3.4" transform="rotate(86.85 155.47 72.82)" stroke="#d44c4c" stroke-width="1.5"/>
<ellipse cx="156.48" cy="75.43" rx="1.6" ry="3.4" transform="rotate(86.85 156.48 75.43)" stroke="#d44c4c" stroke-width="1.58"/>
<ellipse cx="146.32" cy="79.43" rx="1.6" ry="3.4" transform="rotate(129.54 146.32 79.43)" stroke="#d04848" stroke-width="1.8"/>
<ellipse cx="145.29" cy="82.04" rx="1.6" ry="3.4" transform="rotate(129.54 145.29 82.04)" stroke="#d04848" stroke-width="1.34"/>
<ellipse cx="144.26" cy="84.64" rx="1.6" ry="3.4" transform="rotate(129.54 144.26 84.64)" stroke="#d04848" stroke-width="1.8"/>
<ellipse cx="143.23" cy="87.25" rx="1.6" ry="3.4" transform="rotate(129.54 143.23 87.25)" stroke="#d04848" stroke-width="1.31"/></g>
<path d="M114.82 71.54C114.32 71.09 112.07 69.9 111.86 68.85C111.65 67.8 112.62 65.9 113.56 65.23C114.51 64.56 116.88 64.89 117.54 64.83" stroke="#6a6adc" stroke-width="1.1"/>
<path d="M163.76 84.29C163.21 84.67 161.69 86.21 160.47 86.57C159.26 86.93 157.67 86.07 156.47 86.45C155.27 86.82 154.33 88.04 153.27 88.84C152.2 89.63 150.59 90.83 150.06 91.23" stroke="#8080e4" stroke-width="1.1"/>
<path d="M151.14 62.29C150.47 62.29 148.46 62.39 147.14 62.28C145.81 62.18 144.27 61.25 143.19 61.67C142.1 62.08 141.64 63.9 140.64 64.75C139.64 65.6 137.76 66.42 137.18 66.76" stroke="#6262d8" stroke-width="1.1"/>
<path d="M118 97.18C118.65 97.35 120.85 98.57 121.88 98.19C122.9 97.81 123.14 95.59 124.18 94.92C125.22 94.25 127.17 94.91 128.11 94.19C129.06 93.47 129.57 91.2 129.87 90.6" stroke="#7676e0" stroke-width="1.1"/>
<path d="M162.13 67.13C161.95 67.77 160.68 69.92 161.01 70.97C161.35 72.03 163.18 72.55 164.15 73.45C165.12 74.36 166.39 75.92 166.84 76.41" stroke="#8080e4" stroke-width="1.1"/>
<path d="M133.9 87.81C133.66 88.44 132.58 90.28 132.48 91.56C132.39 92.83 133.7 94.39 133.33 95.47C132.96 96.55 130.78 97.61 130.27 98.04" stroke="#8a8ae6" stroke-width="1.1"/>
<path d="M117.47 49.02C117.91 49.52 119.5 50.87 120.13 52C120.77 53.14 121.11 54.53 121.27 55.84C121.43 57.14 121.13 59.17 121.1 59.83" stroke="#ec7c7c" stroke-width="1.1"/>
<path d="M108.17 26.44C108.79 26.68 111.32 26.96 111.91 27.86C112.5 28.77 111.56 30.55 111.71 31.86C111.87 33.17 112.65 35.06 112.84 35.7" stroke="#de6060" stroke-width="1.1"/>
<path d="M112.97 68.81C113.16 69.45 114.19 71.39 114.12 72.64C114.05 73.89 113.18 75.15 112.56 76.32C111.94 77.5 110.76 79.13 110.4 79.69" stroke="#e87272" stroke-width="1.1"/>
<path d="M96.01 58.05C96.53 57.62 98.22 56.48 99.09 55.49C99.97 54.51 101 53.36 101.27 52.14C101.54 50.92 100.81 48.84 100.72 48.18" stroke="#ec7c7c" stroke-width="1.1"/>
<path d="M110.91 80.83C110.7 80.2 110.52 77.75 109.64 77.04C108.77 76.32 106.94 76.33 105.68 76.54C104.42 76.76 102.68 78.01 102.08 78.31" stroke="#e26666" stroke-width="1.1"/>
<path d="M96.18 53.9C96.71 53.5 98.17 51.75 99.35 51.47C100.53 51.2 102.24 51.58 103.28 52.25C104.32 52.92 104.7 54.53 105.59 55.51C106.48 56.49 108.1 57.7 108.6 58.14" stroke="#ec7c7c" stroke-width="1.1"/>
</g>
<g filter="url(#inner)" fill="url(#bgr)">
<path d="M289.82 73.7C291.27 71.67 294.9 69.12 297.48 66.85C300.06 64.58 302.63 62.36 305.28 60.07C307.94 57.78 310.51 55.33 313.41 53.13C316.31 50.93 319.57 48.87 322.69 46.87C325.8 44.88 328.66 42.78 332.1 41.18C335.53 39.59 339.17 38.17 343.28 37.3C347.38 36.43 352.24 36.23 356.72 35.97C361.21 35.71 365.72 36.24 370.18 35.76C374.65 35.28 379.24 33.5 383.54 33.09C387.83 32.69 392.52 32.87 395.94 33.32C399.36 33.77 401.24 35.08 404.05 35.79C406.86 36.51 410.3 36.53 412.79 37.63C415.28 38.74 417.38 40.58 418.99 42.42C420.59 44.27 421.23 46.29 422.43 48.69C423.62 51.09 424.87 54.09 426.16 56.83C427.44 59.57 429.26 62.32 430.14 65.12C431.01 67.93 430.7 70.82 431.42 73.66C432.13 76.49 434.21 79.3 434.43 82.16C434.66 85.01 433.78 88.05 432.78 90.79C431.79 93.53 430.14 96.38 428.48 98.59C426.82 100.8 424.79 102.27 422.8 104.05C420.81 105.84 419.56 107.77 416.55 109.31C413.54 110.84 408.83 112.03 404.73 113.24C400.62 114.46 396.38 116.25 391.92 116.61C387.45 116.98 382.57 115.71 377.92 115.44C373.27 115.17 367.88 116.1 364.01 115C360.14 113.91 357.85 110.5 354.7 108.86C351.56 107.22 348.29 106.33 345.14 105.16C342 103.99 338.8 103.14 335.84 101.84C332.89 100.54 329.62 98.78 327.42 97.37C325.21 95.96 324.82 94.44 322.62 93.38C320.42 92.32 316.75 91.78 314.22 90.99C311.68 90.2 309.82 89.39 307.39 88.65C304.97 87.91 301.62 87.14 299.66 86.57C297.71 86.01 297.31 85.63 295.65 85.25C294 84.86 290.87 85.27 289.73 84.24C288.59 83.2 288.79 80.77 288.81 79.02C288.83 77.26 288.38 75.73 289.82 73.7Z"/>
<path d="M258.85 63.83C260.58 63.37 262.95 64.39 265 64.52C267.05 64.66 269.35 64.46 271.15 64.64C272.95 64.82 274.29 65.25 275.81 65.61C277.33 65.96 279.16 66.1 280.26 66.78C281.36 67.47 281.61 68.78 282.39 69.72C283.16 70.67 284.68 71.42 284.93 72.45C285.19 73.47 284.07 74.77 283.9 75.87C283.73 76.96 284.54 77.6 283.9 79C283.26 80.4 281.42 82.56 280.06 84.27C278.7 85.98 277.39 87.42 275.73 89.25C274.07 91.08 272.04 93.47 270.08 95.27C268.13 97.07 265.88 99.25 264.02 100.06C262.17 100.87 260.62 100.25 258.96 100.12C257.31 100 255.54 100.39 254.11 99.31C252.68 98.22 251.66 95.5 250.38 93.63C249.09 91.75 246.96 89.83 246.4 88.04C245.85 86.26 246.94 84.61 247.05 82.94C247.16 81.27 246.87 79.51 247.05 78C247.24 76.5 247.74 75.27 248.16 73.89C248.58 72.51 248.5 70.84 249.59 69.74C250.67 68.64 253.11 68.27 254.65 67.28C256.2 66.29 257.13 64.29 258.85 63.83Z"/>
<path d="M280 71.5C282 69.53 288.17 72.45 292 72.2C295.83 71.95 300.67 67.37 303 70C305.33 72.63 307.83 85.25 306 88C304.17 90.75 296.33 87.17 292 86.5C287.67 85.83 282 86.5 280 84C278 81.5 278 73.47 280 71.5Z"/>
</g>
<g filter="url(#hl)" fill="#f7f7f7">
<ellipse cx="258.66" cy="82.35" rx="6.08" ry="12.7"/>
<ellipse cx="344.76" cy="87.64" rx="7.52" ry="8.25"/>
<ellipse cx="323.41" cy="78.52" rx="8.72" ry="4.01"/>
<ellipse cx="339.98" cy="59.8" rx="13.93" ry="7.19"/>
<ellipse cx="327.73" cy="73.52" rx="11.78" ry="8.28"/>
</g>
<g filter="url(#ct)" fill="none" stroke="#cdcdcd" stroke-width="1">
<path d="M385.81 107.55C382 107.26 369.4 107.27 362.97 105.81C356.53 104.34 352.17 101.09 347.18 98.75C342.2 96.41 335.42 92.93 333.06 91.77"/>
<path d="M370.84 48.53C373.57 48.43 382.65 47.55 387.19 47.89C391.73 48.23 395.12 49.01 398.07 50.59C401.02 52.18 403.76 56.28 404.9 57.42"/>
<path d="M364.98 99.23C363.12 98.4 357.34 95.89 353.81 94.24C350.29 92.58 346.72 90.75 343.82 89.3C340.92 87.85 339.1 86.58 336.42 85.54C333.73 84.5 330.21 83.7 327.72 83.07C325.23 82.45 322.53 81.99 321.49 81.78"/>
<path d="M407.02 100.3C403.61 101.16 393.64 104.87 386.54 105.44C379.44 106.02 368.13 104.04 364.45 103.76"/>
</g>
<path d="M302.7 65.2C306.23 60.27 312.57 55.33 317.5 50.4C322.43 45.47 326.3 38.6 332.3 35.6C338.3 32.6 348.22 32.58 353.5 32.4C358.78 32.22 359.42 33.27 364 34.5C368.58 35.73 377.12 36.8 381 39.8C384.88 42.8 387.65 48.27 387.3 52.5C386.95 56.73 383.83 61.32 378.9 65.2C373.97 69.08 363.7 74.38 357.7 75.8C351.7 77.22 346.43 71.58 342.9 73.7C339.37 75.82 336.85 83.92 336.5 88.5C336.15 93.08 341.5 99.45 340.8 101.2C340.1 102.95 335.13 101.12 332.3 99C329.47 96.88 327.35 90.6 323.8 88.5C320.25 86.4 315.93 86.75 311 86.4C306.07 86.05 296.65 87.47 294.2 86.4C291.75 85.33 294.88 83.53 296.3 80C297.72 76.47 299.17 70.13 302.7 65.2Z" fill="#9090dc" fill-opacity="0.18" filter="url(#soft)"/>
<path d="M345 74C350.28 70.47 363 70.88 370.4 67.3C377.8 63.72 383.05 55.67 389.4 52.5C395.75 49.33 404.97 46.18 408.5 48.3C412.03 50.42 410.6 58.85 410.6 65.2C410.6 71.55 410.27 81.1 408.5 86.4C406.73 91.7 403.88 93.83 400 97C396.12 100.17 391.9 103.3 385.2 105.4C378.5 107.5 366.5 109.95 359.8 109.6C353.1 109.25 348.52 106.82 345 103.3C341.48 99.78 338.7 93.38 338.7 88.5C338.7 83.62 339.72 77.53 345 74Z" fill="#e08080" fill-opacity="0.18" filter="url(#soft)"/>
<g filter="url(#soft2)" fill="none" stroke-linecap="round" stroke-linejoin="round">
<g clip-path="url(#cbb)"><path d="M307.15 78.94C307 79.77 306.55 83.49 306.23 83.92C305.91 84.36 305.79 82.1 305.22 81.55C304.64 81.01 303.55 80.53 302.79 80.66C302.03 80.78 301.42 81.77 300.66 82.31C299.9 82.84 298.63 83.6 298.23 83.86" stroke="#6a6adc" stroke-width="1.25"/>
<path d="M328.91 77.1C328.35 77.53 326.77 79.55 325.52 79.66C324.27 79.76 321.94 78.57 321.43 77.71C320.91 76.85 321.59 75.35 322.41 74.5C323.23 73.64 325.35 73.12 326.37 72.58C327.39 72.04 327.73 71.81 328.54 71.27C329.34 70.73 330.13 69.89 331.22 69.37C332.31 68.85 334.42 68.34 335.06 68.13" stroke="#6a6adc" stroke-width="1.03"/>
<path d="M344.38 57.13C343.72 56.65 341.73 54.75 340.42 54.27C339.12 53.8 338.02 54.3 336.55 54.29C335.09 54.28 333.3 53.97 331.64 54.22C329.99 54.48 327.46 55.53 326.62 55.8" stroke="#8080e4" stroke-width="1.36"/>
<path d="M359.52 69.1C360.16 68.82 362.76 68.25 363.38 67.44C364.01 66.63 363.94 65.12 363.26 64.25C362.57 63.38 360.56 62.5 359.3 62.22C358.03 61.94 356.59 63.21 355.66 62.56C354.73 61.9 354.04 59 353.72 58.29" stroke="#6c6cdc" stroke-width="1.34"/>
<path d="M339.16 41.5C339.17 42.2 338.71 44.71 339.22 45.7C339.74 46.69 340.93 47.53 342.26 47.44C343.59 47.35 346.18 45.94 347.21 45.17C348.24 44.4 347.67 43.5 348.44 42.83C349.2 42.15 351.36 42.08 351.8 41.11C352.24 40.15 350.65 37.88 351.08 37.02C351.51 36.15 354.59 35.74 354.4 35.92C354.21 36.1 350.66 37.74 349.91 38.1" stroke="#6a6adc" stroke-width="0.99"/>
<path d="M340.26 53.51C339.81 53.55 338.34 54.53 337.55 53.75C336.76 52.96 335.89 50.2 335.54 48.79C335.18 47.39 334.93 46.61 335.43 45.33C335.93 44.06 337.58 41.87 338.54 41.15C339.49 40.44 340.24 41.07 341.16 41.03C342.08 41 342.7 40.86 344.08 40.93C345.45 41.01 348.31 40.9 349.4 41.5C350.48 42.09 350.25 43.46 350.57 44.52C350.89 45.59 350.45 47.05 351.31 47.89C352.17 48.73 355 49.29 355.74 49.57" stroke="#7676e0" stroke-width="1.07"/>
<path d="M333.32 80.32C332.65 80.24 330.4 79.58 329.32 79.84C328.24 80.11 327.75 80.88 326.83 81.9C325.91 82.91 324.81 85.4 323.8 85.92C322.78 86.45 321.7 85.5 320.74 85.06C319.79 84.61 319.04 83.14 318.06 83.24C317.07 83.33 315.36 85.22 314.82 85.62" stroke="#6a6adc" stroke-width="1.21"/>
<path d="M332.07 77.01C331.59 76.98 330.18 76.46 329.2 76.85C328.22 77.23 327.18 78.65 326.2 79.33C325.22 80.02 324.29 80.71 323.32 80.95C322.35 81.19 321.49 80.4 320.36 80.79C319.24 81.18 316.97 82.3 316.57 83.29C316.16 84.27 317.69 86.12 317.91 86.68" stroke="#7676e0" stroke-width="1.36"/>
<path d="M322.38 58.43C321.99 58.99 321.01 60.86 320.05 61.79C319.09 62.73 317.83 63.82 316.61 64.03C315.4 64.23 313.67 62.82 312.77 63.02C311.88 63.22 312.31 64.55 311.23 65.24C310.14 65.92 307.07 66.81 306.24 67.12" stroke="#6262d8" stroke-width="1.37"/>
<path d="M369.24 53.42C368.46 53.18 365.82 52.14 364.54 52.02C363.25 51.91 362.13 52.17 361.55 52.73C360.96 53.3 361.73 54.62 361.01 55.41C360.29 56.2 357.61 56.53 357.22 57.46C356.83 58.4 358.42 60.45 358.66 61.05" stroke="#6a6adc" stroke-width="1.14"/>
<path d="M323.86 67.92C323.55 67.4 321.76 66 322.02 64.85C322.27 63.7 324.45 61.95 325.41 61.03C326.36 60.12 326.92 59.5 327.75 59.36C328.58 59.21 329.54 59.83 330.39 60.18C331.25 60.53 332.01 61.66 332.88 61.45C333.75 61.24 335.15 59.34 335.61 58.91" stroke="#7676e0" stroke-width="1.05"/>
<path d="M323.71 52.76C323.07 53.13 321.16 54.14 319.85 54.96C318.54 55.77 317.02 57.18 315.86 57.67C314.7 58.17 313.39 57.9 312.89 57.94" stroke="#6a6adc" stroke-width="1.27"/>
<path d="M335.61 88.69C334.84 88.24 332.37 86.42 330.96 86C329.55 85.58 328.47 86.04 327.14 86.18C325.82 86.31 324 87.49 323 86.81C322 86.14 321.25 83.27 321.15 82.13C321.06 80.99 321.92 80.69 322.43 79.97C322.93 79.25 323.44 78.05 324.17 77.81C324.9 77.56 325.63 78.73 326.79 78.5C327.95 78.28 329.67 76.92 331.14 76.46C332.6 75.99 334.84 75.84 335.58 75.71" stroke="#8080e4" stroke-width="1.06"/>
<path d="M355.11 61.85C355.45 62.18 356.28 63.66 357.1 63.85C357.93 64.03 358.87 63.23 360.06 62.93C361.24 62.64 363.63 63.13 364.22 62.09C364.8 61.04 363.67 57.57 363.56 56.67" stroke="#8a8ae6" stroke-width="1.09"/>
<path d="M381.45 46.75C381.35 47.16 381.76 48.53 380.82 49.19C379.88 49.84 376.68 49.87 375.81 50.67C374.95 51.48 376.27 53.15 375.63 54.02C374.99 54.89 372.58 55.59 371.97 55.9" stroke="#6262d8" stroke-width="1.12"/>
<path d="M336.73 64.59C336.11 65.23 334.47 68.08 333 68.43C331.52 68.77 329.03 67.36 327.87 66.67C326.72 65.99 326.76 65.29 326.08 64.31C325.41 63.33 323.75 61.9 323.82 60.79C323.9 59.68 325.38 57.94 326.54 57.66C327.71 57.38 329.58 59.15 330.81 59.11C332.04 59.07 333.41 57.7 333.93 57.42" stroke="#6c6cdc" stroke-width="1.06"/>
<path d="M328.52 53.81C328.63 54.52 328.76 56.99 329.17 58.11C329.59 59.24 330.12 59.87 331 60.56C331.88 61.25 333.71 61.48 334.44 62.24C335.18 63 335.77 63.95 335.4 65.15C335.04 66.34 332.61 68.14 332.24 69.44C331.88 70.74 332.88 71.93 333.2 72.94C333.52 73.96 334.28 74.77 334.17 75.54C334.06 76.32 332.81 77.26 332.54 77.61" stroke="#8080e4" stroke-width="1.08"/>
<path d="M335.36 90.14C334.74 90.2 332.55 90.77 331.64 90.52C330.72 90.26 331.02 89.11 329.88 88.6C328.73 88.1 325.87 88.23 324.76 87.49C323.64 86.75 324.29 84.58 323.19 84.14C322.1 83.7 319.01 84.71 318.17 84.82" stroke="#8080e4" stroke-width="0.94"/>
<path d="M317.06 82.71C316.62 83.39 315.73 86.37 314.46 86.78C313.19 87.19 310.82 85.69 309.43 85.18C308.05 84.66 307.11 84.07 306.15 83.7C305.18 83.32 304.04 83.06 303.62 82.94" stroke="#6a6adc" stroke-width="1.15"/>
<path d="M329.36 50.97C329.59 51.42 329.71 52.93 330.71 53.62C331.72 54.32 333.96 54.44 335.38 55.14C336.81 55.83 338.33 57.65 339.27 57.78C340.21 57.92 340.33 56.58 341 55.94C341.66 55.31 342.53 54.83 343.27 54C344 53.17 345.06 51.49 345.42 50.98" stroke="#6a6adc" stroke-width="1.23"/>
<path d="M319.3 59.26C319.73 59.91 321.42 61.86 321.89 63.16C322.36 64.45 322.12 65.68 322.14 67.03C322.16 68.39 322.11 69.74 321.99 71.27C321.87 72.8 321.94 75.21 321.44 76.2C320.94 77.18 320.06 77.29 318.98 77.19C317.89 77.1 316.28 76.42 314.92 75.62C313.56 74.82 312.01 72.51 310.82 72.39C309.62 72.26 308.72 73.68 307.78 74.87C306.83 76.06 305.6 78.75 305.16 79.53" stroke="#7676e0" stroke-width="1.35"/>
<path d="M364.96 40.14C365.13 39.76 365.89 37.42 365.98 37.84C366.07 38.25 365.33 41.46 365.49 42.64C365.66 43.83 366.77 43.78 366.98 44.95C367.18 46.11 365.92 48.59 366.71 49.64C367.51 50.69 370.53 50.81 371.77 51.25C373.01 51.68 373.22 51.88 374.17 52.24C375.13 52.59 376.38 53.84 377.5 53.38C378.61 52.92 379.88 49.92 380.87 49.48C381.87 49.04 383.03 50.52 383.46 50.72" stroke="#8080e4" stroke-width="0.96"/>
<path d="M345.66 66.89C346.08 67.39 347.2 68.95 348.17 69.9C349.14 70.85 350.24 72.58 351.5 72.59C352.77 72.61 354.94 70.96 355.76 70C356.58 69.04 356.26 68.1 356.43 66.84C356.61 65.58 356.53 63.7 356.83 62.43C357.12 61.15 358 59.71 358.23 59.17" stroke="#6262d8" stroke-width="1.06"/>
<path d="M313.7 82.68C314.1 82.45 315.76 81.97 316.12 81.28C316.48 80.59 315.3 79.36 315.85 78.55C316.39 77.73 318.37 77.11 319.38 76.39C320.39 75.67 321.48 74.57 321.9 74.21" stroke="#8a8ae6" stroke-width="1.19"/>
<path d="M382.74 44.36C381.91 44.25 378.89 44.41 377.74 43.67C376.59 42.93 376.93 40.41 375.84 39.92C374.75 39.44 371.99 40.61 371.22 40.75" stroke="#8a8ae6" stroke-width="1.32"/>
<path d="M362.22 65.97C362.73 65.41 364.05 63.44 365.28 62.64C366.52 61.83 368.34 61.88 369.61 61.14C370.89 60.4 372.74 59.47 372.91 58.2C373.08 56.93 370.83 55.11 370.62 53.53C370.42 51.95 371.45 50.05 371.67 48.73C371.9 47.42 371.97 46.91 371.99 45.64C372.01 44.36 371.78 42.32 371.79 41.1C371.81 39.87 372.63 38.87 372.08 38.29C371.52 37.71 369.05 37.73 368.44 37.62" stroke="#7676e0" stroke-width="1.32"/>
<path d="M353.72 56.4C354.49 56.8 357.2 57.8 358.37 58.79C359.55 59.79 360.68 60.93 360.79 62.37C360.9 63.82 360.2 66.34 359.03 67.46C357.87 68.58 355.07 68.64 353.81 69.08C352.55 69.53 352.61 69.89 351.49 70.13C350.37 70.36 348.21 71.03 347.09 70.48C345.97 69.92 345.51 67.65 344.78 66.8C344.05 65.96 343.04 66.35 342.71 65.39C342.37 64.42 342.07 61.81 342.8 61.01C343.52 60.22 346.35 60.68 347.06 60.61" stroke="#6c6cdc" stroke-width="1.29"/>
<path d="M377.73 59.7C377.84 60.13 379.06 61.53 378.39 62.3C377.71 63.07 375.23 63.83 373.67 64.3C372.11 64.77 370.18 65.23 369.01 65.13C367.84 65.02 367.54 64.23 366.65 63.66C365.77 63.08 364.18 62.01 363.68 61.68" stroke="#6c6cdc" stroke-width="1.07"/>
<path d="M343.62 47.97C344.37 47.85 346.7 47.86 348.12 47.24C349.55 46.61 350.77 44.94 352.17 44.2C353.58 43.46 355.36 43.45 356.55 42.8C357.74 42.15 358.04 40.33 359.31 40.3C360.58 40.26 363.1 41.44 364.14 42.6C365.19 43.77 365.34 46.51 365.58 47.3" stroke="#6a6adc" stroke-width="0.97"/>
<path d="M323.12 58.37C322.3 58.55 319.29 60.04 318.22 59.46C317.15 58.88 316.22 55.68 316.69 54.89C317.15 54.1 319.9 55.58 321 54.74C322.1 53.9 322.92 50.67 323.3 49.85" stroke="#6a6adc" stroke-width="1.38"/>
<path d="M310.08 63.63C309.21 63.6 306.03 63.01 304.87 63.43C303.7 63.86 302.97 65.89 303.09 66.17C303.21 66.44 304.42 65.43 305.6 65.09C306.77 64.75 308.97 64.32 310.14 64.1C311.31 63.88 311.88 63.52 312.62 63.77C313.36 64.01 314.53 64.5 314.59 65.59C314.65 66.67 313.23 69.49 312.96 70.27" stroke="#8080e4" stroke-width="1.33"/>
<path d="M340.32 63.27C340.15 64.13 339.78 67.23 339.29 68.45C338.8 69.66 338.46 70.08 337.39 70.57C336.32 71.06 334.23 70.74 332.86 71.38C331.48 72.03 330.32 73.66 329.14 74.44C327.96 75.23 326.85 75.6 325.78 76.08C324.7 76.56 323.65 76.37 322.68 77.3C321.71 78.24 320.49 80.16 319.95 81.69C319.41 83.22 319.53 85.68 319.45 86.48" stroke="#6c6cdc" stroke-width="0.95"/>
<path d="M366.5 65.95C365.5 65.96 362.82 65.86 360.49 66C358.17 66.14 353.87 66.64 352.54 66.77" stroke="#5050c8" stroke-width="3.18"/>
<path d="M366.5 65.95C365.5 65.96 362.82 65.86 360.49 66C358.17 66.14 353.87 66.64 352.54 66.77" stroke="#7676e0" stroke-width="2.58"/>
<path d="M309.08 72.36C308.37 72.96 306.3 74.61 304.81 75.93C303.32 77.25 301.66 78.7 300.14 80.3C298.62 81.89 296.44 84.65 295.7 85.53" stroke="#5050c8" stroke-width="3.52"/>
<path d="M309.08 72.36C308.37 72.96 306.3 74.61 304.81 75.93C303.32 77.25 301.66 78.7 300.14 80.3C298.62 81.89 296.44 84.65 295.7 85.53" stroke="#8a8ae6" stroke-width="2.92"/>
<path d="M341.05 66.55C341.71 67.11 343.26 68.61 344.98 69.89C346.7 71.17 350.3 73.52 351.36 74.25" stroke="#5656cc" stroke-width="2.89"/>
<path d="M341.05 66.55C341.71 67.11 343.26 68.61 344.98 69.89C346.7 71.17 350.3 73.52 351.36 74.25" stroke="#8a8ae6" stroke-width="2.29"/>
<path d="M327.36 46.42C326.55 47.16 323.78 49.2 322.49 50.88C321.19 52.56 320.08 55.57 319.6 56.5" stroke="#5656cc" stroke-width="3.93"/>
<path d="M327.36 46.42C326.55 47.16 323.78 49.2 322.49 50.88C321.19 52.56 320.08 55.57 319.6 56.5" stroke="#8080e4" stroke-width="3.33"/>
<path d="M370.78 49.19C370.24 50.17 368.7 53.03 367.56 55.03C366.42 57.03 365.46 59.42 363.94 61.19C362.42 62.95 359.35 64.9 358.43 65.64" stroke="#5050c8" stroke-width="3.11"/>
<path d="M370.78 49.19C370.24 50.17 368.7 53.03 367.56 55.03C366.42 57.03 365.46 59.42 363.94 61.19C362.42 62.95 359.35 64.9 358.43 65.64" stroke="#6c6cdc" stroke-width="2.51"/>
<path d="M339.05 51.76C338.11 51.42 335.21 50.72 333.37 49.74C331.54 48.75 328.94 46.5 328.05 45.85" stroke="#5656cc" stroke-width="2.87"/>
<path d="M339.05 51.76C338.11 51.42 335.21 50.72 333.37 49.74C331.54 48.75 328.94 46.5 328.05 45.85" stroke="#8a8ae6" stroke-width="2.27"/>
<path d="M310.03 82.35C310.99 82.38 313.8 82.49 315.76 82.53C317.72 82.57 320.79 82.57 321.79 82.58" stroke="#5656cc" stroke-width="3.99"/>
<path d="M310.03 82.35C310.99 82.38 313.8 82.49 315.76 82.53C317.72 82.57 320.79 82.57 321.79 82.58" stroke="#8080e4" stroke-width="3.39"/>
<path d="M304.86 76.6C305.72 77.05 308.2 77.86 309.98 79.26C311.76 80.67 314.6 84.06 315.53 85.02" stroke="#5656cc" stroke-width="3.64"/>
<path d="M304.86 76.6C305.72 77.05 308.2 77.86 309.98 79.26C311.76 80.67 314.6 84.06 315.53 85.02" stroke="#8080e4" stroke-width="3.04"/>
<path d="M307.6 66.19C308.77 66.59 312.24 67.76 314.64 68.55C317.04 69.35 320.77 70.55 322 70.94" stroke="#5050c8" stroke-width="3.97"/>
<path d="M307.6 66.19C308.77 66.59 312.24 67.76 314.64 68.55C317.04 69.35 320.77 70.55 322 70.94" stroke="#6262d8" stroke-width="3.37"/>
<path d="M365.36 64.97C366.54 64.65 370.26 63.26 372.41 63.05C374.56 62.83 377.28 63.57 378.26 63.67" stroke="#5656cc" stroke-width="4.04"/>
<path d="M365.36 64.97C366.54 64.65 370.26 63.26 372.41 63.05C374.56 62.83 377.28 63.57 378.26 63.67" stroke="#6a6adc" stroke-width="3.44"/>
<path d="M351.9 70.59C351.04 70.43 348.84 69.92 346.75 69.6C344.66 69.29 341.79 69.23 339.35 68.69C336.92 68.14 333.36 66.73 332.17 66.34" stroke="#5656cc" stroke-width="3.44"/>
<path d="M351.9 70.59C351.04 70.43 348.84 69.92 346.75 69.6C344.66 69.29 341.79 69.23 339.35 68.69C336.92 68.14 333.36 66.73 332.17 66.34" stroke="#6c6cdc" stroke-width="2.84"/>
<path d="M345.73 43.39C345.95 44.37 346.19 47.27 347.03 49.29C347.86 51.31 350.13 54.47 350.75 55.5" stroke="#5050c8" stroke-width="2.99"/>
<path d="M345.73 43.39C345.95 44.37 346.19 47.27 347.03 49.29C347.86 51.31 350.13 54.47 350.75 55.5" stroke="#6262d8" stroke-width="2.39"/>
<path d="M326.29 90.53C326.78 89.39 328.15 85.54 329.22 83.71C330.3 81.88 332.16 80.23 332.75 79.54" stroke="#5656cc" stroke-width="2.82"/>
<path d="M326.29 90.53C326.78 89.39 328.15 85.54 329.22 83.71C330.3 81.88 332.16 80.23 332.75 79.54" stroke="#7676e0" stroke-width="2.22"/>
<path d="M348.4 50.1C347.86 49.01 346.06 45.52 345.15 43.55C344.24 41.57 343.31 39.13 342.94 38.25" stroke="#5656cc" stroke-width="3.74"/>
<path d="M348.4 50.1C347.86 49.01 346.06 45.52 345.15 43.55C344.24 41.57 343.31 39.13 342.94 38.25" stroke="#6262d8" stroke-width="3.14"/>
<path d="M361.76 44.29C360.83 43.65 358.05 41.55 356.21 40.46C354.37 39.36 351.63 38.17 350.72 37.71" stroke="#5050c8" stroke-width="3.6"/>
<path d="M361.76 44.29C360.83 43.65 358.05 41.55 356.21 40.46C354.37 39.36 351.63 38.17 350.72 37.71" stroke="#8a8ae6" stroke-width="3"/>
<path d="M349.71 52.55C348.78 51.63 345.99 48.59 344.15 47.02C342.31 45.45 340.44 44.4 338.67 43.12C336.9 41.84 334.4 39.99 333.54 39.36" stroke="#5050c8" stroke-width="3.05"/>
<path d="M349.71 52.55C348.78 51.63 345.99 48.59 344.15 47.02C342.31 45.45 340.44 44.4 338.67 43.12C336.9 41.84 334.4 39.99 333.54 39.36" stroke="#8a8ae6" stroke-width="2.45"/>
<path d="M301.63 68.42C302.07 69.21 303.31 71.4 304.29 73.14C305.27 74.89 306.5 77.07 307.49 78.89C308.48 80.7 309.76 83.18 310.22 84.04" stroke="#5656cc" stroke-width="2.94"/>
<path d="M301.63 68.42C302.07 69.21 303.31 71.4 304.29 73.14C305.27 74.89 306.5 77.07 307.49 78.89C308.48 80.7 309.76 83.18 310.22 84.04" stroke="#6a6adc" stroke-width="2.34"/>
<path d="M319.27 84.29C318.41 83.46 316.12 80.79 314.12 79.32C312.12 77.84 308.42 76.09 307.28 75.44" stroke="#5656cc" stroke-width="4.17"/>
<path d="M319.27 84.29C318.41 83.46 316.12 80.79 314.12 79.32C312.12 77.84 308.42 76.09 307.28 75.44" stroke="#6a6adc" stroke-width="3.57"/>
<path d="M330.01 38.38C331 38.73 333.99 39.54 335.96 40.46C337.94 41.38 340.86 43.32 341.84 43.9" stroke="#5656cc" stroke-width="3.69"/>
<path d="M330.01 38.38C331 38.73 333.99 39.54 335.96 40.46C337.94 41.38 340.86 43.32 341.84 43.9" stroke="#8a8ae6" stroke-width="3.09"/>
<path d="M373.05 50.89C373.83 49.83 376.42 46.33 377.74 44.52C379.05 42.71 380.4 40.79 380.93 40.04" stroke="#5656cc" stroke-width="3.52"/>
<path d="M373.05 50.89C373.83 49.83 376.42 46.33 377.74 44.52C379.05 42.71 380.4 40.79 380.93 40.04" stroke="#6262d8" stroke-width="2.92"/>
<path d="M335.94 76.27C334.93 76.24 332.07 75.94 329.84 76.08C327.61 76.21 323.77 76.93 322.55 77.1" stroke="#5656cc" stroke-width="3.66"/>
<path d="M335.94 76.27C334.93 76.24 332.07 75.94 329.84 76.08C327.61 76.21 323.77 76.93 322.55 77.1" stroke="#6a6adc" stroke-width="3.06"/>
<path d="M333.74 45.36C334.81 45.14 337.8 44.43 340.15 44.04C342.5 43.64 345.61 43.52 347.84 43.01C350.07 42.5 352.58 41.32 353.52 40.98" stroke="#5656cc" stroke-width="3.49"/>
<path d="M333.74 45.36C334.81 45.14 337.8 44.43 340.15 44.04C342.5 43.64 345.61 43.52 347.84 43.01C350.07 42.5 352.58 41.32 353.52 40.98" stroke="#7676e0" stroke-width="2.89"/>
<path d="M337.6 76.3C336.54 75.51 333.08 72.98 331.24 71.56C329.4 70.15 327.34 68.43 326.56 67.8" stroke="#5656cc" stroke-width="3.16"/>
<path d="M337.6 76.3C336.54 75.51 333.08 72.98 331.24 71.56C329.4 70.15 327.34 68.43 326.56 67.8" stroke="#8080e4" stroke-width="2.56"/>
<path d="M357.86 50.01C358.61 48.91 361.1 45.42 362.36 43.41C363.63 41.39 364.93 38.86 365.44 37.95" stroke="#5050c8" stroke-width="3.41"/>
<path d="M357.86 50.01C358.61 48.91 361.1 45.42 362.36 43.41C363.63 41.39 364.93 38.86 365.44 37.95" stroke="#7676e0" stroke-width="2.81"/>
<path d="M363.36 38.75C364.63 38.68 368.43 38.05 370.97 38.33C373.5 38.62 377.32 40.1 378.59 40.45" stroke="#5656cc" stroke-width="3.9"/>
<path d="M363.36 38.75C364.63 38.68 368.43 38.05 370.97 38.33C373.5 38.62 377.32 40.1 378.59 40.45" stroke="#6c6cdc" stroke-width="3.3"/>
<path d="M339.91 99.04C339.22 97.96 336.84 94.48 335.76 92.52C334.67 90.57 333.78 88.19 333.38 87.32" stroke="#5656cc" stroke-width="3.32"/>
<path d="M339.91 99.04C339.22 97.96 336.84 94.48 335.76 92.52C334.67 90.57 333.78 88.19 333.38 87.32" stroke="#8a8ae6" stroke-width="2.72"/>
<path d="M339.16 46.18C338.06 46.44 334.48 46.98 332.58 47.74C330.67 48.51 329.29 49.49 327.73 50.79C326.18 52.08 323.99 54.73 323.24 55.51" stroke="#5050c8" stroke-width="3.76"/>
<path d="M339.16 46.18C338.06 46.44 334.48 46.98 332.58 47.74C330.67 48.51 329.29 49.49 327.73 50.79C326.18 52.08 323.99 54.73 323.24 55.51" stroke="#6c6cdc" stroke-width="3.16"/>
<path d="M358.32 72.72C358.15 71.4 357.65 67.19 357.3 64.8C356.96 62.4 356.42 59.43 356.24 58.35" stroke="#5050c8" stroke-width="3.05"/>
<path d="M358.32 72.72C358.15 71.4 357.65 67.19 357.3 64.8C356.96 62.4 356.42 59.43 356.24 58.35" stroke="#8a8ae6" stroke-width="2.45"/>
<path d="M354.29 39.49C355.13 39.36 357.27 38.66 359.32 38.74C361.37 38.83 365.39 39.77 366.6 39.98" stroke="#5656cc" stroke-width="3.62"/>
<path d="M354.29 39.49C355.13 39.36 357.27 38.66 359.32 38.74C361.37 38.83 365.39 39.77 366.6 39.98" stroke="#7676e0" stroke-width="3.02"/>
<path d="M337.23 91.78C336.18 91.45 333.09 90.71 330.91 89.83C328.74 88.95 325.3 87.05 324.18 86.5" stroke="#5050c8" stroke-width="3.9"/>
<path d="M337.23 91.78C336.18 91.45 333.09 90.71 330.91 89.83C328.74 88.95 325.3 87.05 324.18 86.5" stroke="#6c6cdc" stroke-width="3.3"/>
<path d="M366.83 39.53C367.77 40.12 370.35 41.98 372.51 43.05C374.67 44.12 378.57 45.48 379.78 45.96" stroke="#5656cc" stroke-width="3.41"/>
<path d="M366.83 39.53C367.77 40.12 370.35 41.98 372.51 43.05C374.67 44.12 378.57 45.48 379.78 45.96" stroke="#6262d8" stroke-width="2.81"/>
<ellipse cx="334.15" cy="73.38" rx="1.6" ry="3.4" transform="rotate(145.87 334.15 73.38)" stroke="#3030b8" stroke-width="1.5"/>
<ellipse cx="332.43" cy="75.59" rx="1.6" ry="3.4" transform="rotate(145.87 332.43 75.59)" stroke="#3030b8" stroke-width="1.72"/>
<ellipse cx="330.71" cy="77.8" rx="1.6" ry="3.4" transform="rotate(145.87 330.71 77.8)" stroke="#3030b8" stroke-width="1.67"/>
<ellipse cx="328.99" cy="80.01" rx="1.6" ry="3.4" transform="rotate(145.87 328.99 80.01)" stroke="#3030b8" stroke-width="1.37"/>
<ellipse cx="327.27" cy="82.22" rx="1.6" ry="3.4" transform="rotate(145.87 327.27 82.22)" stroke="#3030b8" stroke-width="1.58"/>
<ellipse cx="369.53" cy="64.47" rx="1.6" ry="3.4" transform="rotate(223.1 369.53 64.47)" stroke="#3838c0" stroke-width="1.41"/>
<ellipse cx="367" cy="63.28" rx="1.6" ry="3.4" transform="rotate(223.1 367 63.28)" stroke="#3838c0" stroke-width="1.68"/>
<ellipse cx="364.46" cy="62.1" rx="1.6" ry="3.4" transform="rotate(223.1 364.46 62.1)" stroke="#3838c0" stroke-width="1.44"/>
<ellipse cx="340.25" cy="61.11" rx="1.6" ry="3.4" transform="rotate(246.95 340.25 61.11)" stroke="#5656cc" stroke-width="1.51"/>
<ellipse cx="338.42" cy="59" rx="1.6" ry="3.4" transform="rotate(246.95 338.42 59)" stroke="#5656cc" stroke-width="1.72"/>
<ellipse cx="336.58" cy="56.88" rx="1.6" ry="3.4" transform="rotate(246.95 336.58 56.88)" stroke="#5656cc" stroke-width="1.57"/>
<ellipse cx="334.74" cy="54.77" rx="1.6" ry="3.4" transform="rotate(246.95 334.74 54.77)" stroke="#5656cc" stroke-width="1.74"/>
<ellipse cx="332.9" cy="52.66" rx="1.6" ry="3.4" transform="rotate(246.95 332.9 52.66)" stroke="#5656cc" stroke-width="1.79"/>
<ellipse cx="345.62" cy="49.44" rx="1.6" ry="3.4" transform="rotate(54.86 345.62 49.44)" stroke="#5050c8" stroke-width="1.42"/>
<ellipse cx="347.86" cy="51.11" rx="1.6" ry="3.4" transform="rotate(54.86 347.86 51.11)" stroke="#5050c8" stroke-width="1.61"/>
<ellipse cx="350.1" cy="52.79" rx="1.6" ry="3.4" transform="rotate(54.86 350.1 52.79)" stroke="#5050c8" stroke-width="1.57"/>
<ellipse cx="352.34" cy="54.47" rx="1.6" ry="3.4" transform="rotate(54.86 352.34 54.47)" stroke="#5050c8" stroke-width="1.6"/>
<ellipse cx="354.58" cy="56.15" rx="1.6" ry="3.4" transform="rotate(54.86 354.58 56.15)" stroke="#5050c8" stroke-width="1.51"/>
<ellipse cx="323.88" cy="53.99" rx="1.6" ry="3.4" transform="rotate(172.51 323.88 53.99)" stroke="#3030b8" stroke-width="1.68"/>
<ellipse cx="321.35" cy="55.19" rx="1.6" ry="3.4" transform="rotate(172.51 321.35 55.19)" stroke="#3030b8" stroke-width="1.7"/>
<ellipse cx="318.83" cy="56.4" rx="1.6" ry="3.4" transform="rotate(172.51 318.83 56.4)" stroke="#3030b8" stroke-width="1.66"/>
<ellipse cx="316.3" cy="57.6" rx="1.6" ry="3.4" transform="rotate(172.51 316.3 57.6)" stroke="#3030b8" stroke-width="1.79"/>
<ellipse cx="313.77" cy="58.8" rx="1.6" ry="3.4" transform="rotate(172.51 313.77 58.8)" stroke="#3030b8" stroke-width="1.52"/>
<ellipse cx="310.79" cy="67.11" rx="1.6" ry="3.4" transform="rotate(154.4 310.79 67.11)" stroke="#5050c8" stroke-width="1.71"/>
<ellipse cx="308.76" cy="69.04" rx="1.6" ry="3.4" transform="rotate(154.4 308.76 69.04)" stroke="#5050c8" stroke-width="1.44"/>
<ellipse cx="306.74" cy="70.97" rx="1.6" ry="3.4" transform="rotate(154.4 306.74 70.97)" stroke="#5050c8" stroke-width="1.63"/>
<ellipse cx="304.71" cy="72.9" rx="1.6" ry="3.4" transform="rotate(154.4 304.71 72.9)" stroke="#5050c8" stroke-width="1.37"/>
<ellipse cx="338" cy="64.47" rx="1.6" ry="3.4" transform="rotate(227.05 338 64.47)" stroke="#5050c8" stroke-width="1.4"/>
<ellipse cx="335.55" cy="63.12" rx="1.6" ry="3.4" transform="rotate(227.05 335.55 63.12)" stroke="#5050c8" stroke-width="1.49"/>
<ellipse cx="333.1" cy="61.76" rx="1.6" ry="3.4" transform="rotate(227.05 333.1 61.76)" stroke="#5050c8" stroke-width="1.62"/>
<ellipse cx="328.51" cy="49.33" rx="1.6" ry="3.4" transform="rotate(105.46 328.51 49.33)" stroke="#5656cc" stroke-width="1.63"/>
<ellipse cx="328.63" cy="52.13" rx="1.6" ry="3.4" transform="rotate(105.46 328.63 52.13)" stroke="#5656cc" stroke-width="1.45"/>
<ellipse cx="328.76" cy="54.93" rx="1.6" ry="3.4" transform="rotate(105.46 328.76 54.93)" stroke="#5656cc" stroke-width="1.69"/>
<ellipse cx="329.93" cy="63.56" rx="1.6" ry="3.4" transform="rotate(183.1 329.93 63.56)" stroke="#5050c8" stroke-width="1.58"/>
<ellipse cx="327.23" cy="64.28" rx="1.6" ry="3.4" transform="rotate(183.1 327.23 64.28)" stroke="#5050c8" stroke-width="1.5"/>
<ellipse cx="324.52" cy="65" rx="1.6" ry="3.4" transform="rotate(183.1 324.52 65)" stroke="#5050c8" stroke-width="1.48"/>
<ellipse cx="381.25" cy="54.37" rx="1.6" ry="3.4" transform="rotate(265.41 381.25 54.37)" stroke="#5656cc" stroke-width="1.59"/>
<ellipse cx="380.17" cy="51.79" rx="1.6" ry="3.4" transform="rotate(265.41 380.17 51.79)" stroke="#5656cc" stroke-width="1.67"/>
<ellipse cx="379.1" cy="49.2" rx="1.6" ry="3.4" transform="rotate(265.41 379.1 49.2)" stroke="#5656cc" stroke-width="1.42"/>
<ellipse cx="373.57" cy="55.28" rx="1.6" ry="3.4" transform="rotate(39.94 373.57 55.28)" stroke="#3030b8" stroke-width="1.71"/>
<ellipse cx="376.16" cy="56.33" rx="1.6" ry="3.4" transform="rotate(39.94 376.16 56.33)" stroke="#3030b8" stroke-width="1.62"/>
<ellipse cx="378.76" cy="57.37" rx="1.6" ry="3.4" transform="rotate(39.94 378.76 57.37)" stroke="#3030b8" stroke-width="1.69"/>
<ellipse cx="381.36" cy="58.42" rx="1.6" ry="3.4" transform="rotate(39.94 381.36 58.42)" stroke="#3030b8" stroke-width="1.71"/>
<ellipse cx="383.96" cy="59.46" rx="1.6" ry="3.4" transform="rotate(39.94 383.96 59.46)" stroke="#3030b8" stroke-width="1.66"/></g>
<g clip-path="url(#crb)"><path d="M399.48 86.44C398.99 86.33 397.43 85.71 396.5 85.8C395.58 85.89 394.16 86.13 393.92 86.98C393.67 87.83 395.08 89.81 395.03 90.89C394.99 91.98 393.34 92.49 393.62 93.51C393.9 94.54 395.75 96.64 396.71 97.03C397.68 97.42 398.94 96.06 399.39 95.86" stroke="#e26666" stroke-width="1.15"/>
<path d="M376.33 71.23C376.5 70.75 376.47 68.7 377.38 68.35C378.29 67.99 380.23 68.75 381.79 69.09C383.35 69.42 385.51 69.65 386.74 70.36C387.98 71.07 388.97 72.34 389.19 73.36C389.41 74.37 388.31 75.45 388.04 76.44C387.77 77.43 387.4 78.41 387.57 79.31C387.75 80.21 387.95 81.55 389.07 81.84C390.2 82.13 392.57 81.43 394.33 81.04C396.08 80.65 398.32 79.85 399.61 79.52C400.9 79.19 401.68 79.13 402.09 79.06" stroke="#e26666" stroke-width="0.96"/>
<path d="M393.56 77.67C393.81 78.42 394.36 80.97 395.08 82.17C395.81 83.37 396.72 84.15 397.91 84.86C399.1 85.58 400.7 86.19 402.22 86.47C403.75 86.75 406.59 87.16 407.07 86.54C407.55 85.93 405.15 84.09 405.11 82.79C405.07 81.49 407.18 80.04 406.84 78.76C406.51 77.49 404.34 76.18 403.1 75.14C401.86 74.1 400.03 72.96 399.41 72.52" stroke="#ec7c7c" stroke-width="1.14"/>
<path d="M355.44 99.61C355.62 99.14 356.06 98.15 356.49 96.8C356.93 95.46 357.34 93.06 358.05 91.55C358.77 90.03 359.43 88.48 360.77 87.71C362.12 86.95 364.69 87.36 366.13 86.95C367.56 86.54 368.44 85.42 369.4 85.26C370.36 85.09 370.92 85.76 371.87 85.98C372.82 86.21 373.85 86.23 375.12 86.62C376.4 87 378.7 87.34 379.52 88.29C380.33 89.23 379.93 91.61 380.02 92.28" stroke="#ee8484" stroke-width="1.13"/>
<path d="M402.04 51.08C402.31 51.51 402.56 53.15 403.63 53.67C404.7 54.19 408.5 54.03 408.48 54.22C408.47 54.41 404.83 54.9 403.53 54.83C402.22 54.77 401.07 54.52 400.65 53.85C400.23 53.18 400.4 51.28 401 50.82C401.61 50.36 403.42 51.42 404.29 51.09C405.17 50.75 405.92 49.19 406.25 48.81" stroke="#e46a6a" stroke-width="1.35"/>
<path d="M391.21 89.23C391.72 89.78 393.13 91.44 394.22 92.51C395.32 93.58 397.88 94.77 397.77 95.65C397.67 96.53 394.98 97.62 393.59 97.79C392.21 97.96 390.14 96.83 389.45 96.64" stroke="#e46a6a" stroke-width="0.99"/>
<path d="M387.79 59.37C388.24 58.84 389.5 56.98 390.48 56.16C391.47 55.34 393.13 54.2 393.71 54.46C394.29 54.72 394.48 56.55 393.95 57.73C393.43 58.9 391.42 60.12 390.55 61.51C389.67 62.9 389 65.3 388.69 66.06" stroke="#ec7c7c" stroke-width="1.28"/>
<path d="M361.71 106.96C362.24 106.88 363.86 106.72 364.85 106.48C365.84 106.24 366.78 105.87 367.66 105.5C368.53 105.13 369.52 104.92 370.11 104.27C370.69 103.62 370.31 102.22 371.17 101.6C372.03 100.99 374.59 100.75 375.27 100.57" stroke="#ee8484" stroke-width="1.22"/>
<path d="M398.48 94.85C397.85 94.92 396.07 95.41 394.66 95.23C393.26 95.04 391.55 94.46 390.04 93.72C388.52 92.99 387.18 91.21 385.58 90.82C383.98 90.42 381.28 91.28 380.42 91.38" stroke="#de6060" stroke-width="1.29"/>
<path d="M360.09 76.66C360.84 76.45 363.39 75.36 364.58 75.38C365.77 75.41 366.43 76.05 367.22 76.83C368 77.61 368.38 79.43 369.27 80.04C370.16 80.66 371.25 80.66 372.56 80.54C373.86 80.42 375.77 79.59 377.1 79.33C378.43 79.07 379.86 79.83 380.54 78.97C381.22 78.1 380.43 75.47 381.18 74.15C381.94 72.82 383.99 71.45 385.08 71.01C386.18 70.56 387.29 71.41 387.73 71.49" stroke="#de6060" stroke-width="1.38"/>
<path d="M400.59 86.96C400.85 87.3 402.25 88.96 402.18 89C402.1 89.04 400.9 88.03 400.15 87.2C399.39 86.36 398.56 84.69 397.64 83.99C396.72 83.29 395.63 82.73 394.63 82.99C393.63 83.26 392.46 84.51 391.64 85.58C390.83 86.64 390.07 88.75 389.76 89.39" stroke="#ee8484" stroke-width="1.39"/>
<path d="M352.56 74.95C353.21 74.62 355.03 73.4 356.47 72.97C357.92 72.53 360.01 72.83 361.23 72.34C362.45 71.85 363.37 70.41 363.8 70.03" stroke="#e87272" stroke-width="0.96"/>
<path d="M385.5 72.04C386.06 72.38 387.43 73.61 388.89 74.11C390.36 74.6 392.89 75.22 394.29 75.03C395.68 74.84 396.49 73.95 397.29 72.97C398.08 71.99 398.65 70.33 399.08 69.14C399.51 67.94 399.53 66.84 399.86 65.81C400.2 64.77 400.04 63.52 401.1 62.93C402.17 62.34 405.08 62.7 406.27 62.29C407.46 61.89 407.76 61.69 408.27 60.52C408.77 59.34 409.14 56.14 409.31 55.27" stroke="#e26666" stroke-width="0.94"/>
<path d="M404.56 80.83C404.94 80.59 406.38 80.28 406.86 79.39C407.35 78.5 407.85 75.77 407.48 75.51C407.1 75.25 405.53 76.8 404.63 77.84C403.73 78.87 402.98 80.71 402.06 81.73C401.14 82.75 399.49 83.13 399.09 83.94C398.7 84.75 399.4 85.55 399.69 86.59C399.97 87.63 400.88 89.17 400.8 90.18C400.72 91.2 399.47 92.25 399.2 92.66" stroke="#e87272" stroke-width="1.18"/>
<path d="M406.45 49.06C406.34 49.68 405.68 51.3 405.81 52.77C405.94 54.24 407.05 56.51 407.24 57.87C407.43 59.24 406.99 60.02 406.96 60.95C406.93 61.89 407.03 62.62 407.04 63.49C407.06 64.37 407.55 65.74 407.02 66.2C406.5 66.67 404.96 66.39 403.88 66.27C402.8 66.15 401.39 65.95 400.54 65.49C399.69 65.03 399.06 63.85 398.76 63.52" stroke="#e26666" stroke-width="1.12"/>
<path d="M404.29 61.85C403.79 61.93 402.43 62.35 401.28 62.31C400.13 62.27 398.12 62.25 397.4 61.59C396.68 60.93 396.85 59.57 396.96 58.35C397.06 57.13 397.84 54.95 398.02 54.27" stroke="#e46a6a" stroke-width="1.2"/>
<path d="M388.64 101.54C387.94 101.45 385.72 101.2 384.48 101.04C383.25 100.88 381.82 101.28 381.21 100.59C380.61 99.9 380.97 98.06 380.83 96.91C380.69 95.76 380.89 94.68 380.35 93.68C379.81 92.69 378.2 91.86 377.57 90.95C376.93 90.03 377.27 88.99 376.55 88.19C375.83 87.39 374.42 86.88 373.27 86.16C372.13 85.44 370.87 84.46 369.67 83.87C368.48 83.29 366.7 82.83 366.1 82.63" stroke="#e87272" stroke-width="1.05"/>
<path d="M374.62 97.44C374.54 97.91 373.84 99.48 374.14 100.24C374.44 101.01 376.45 102.11 376.41 102.02C376.37 101.94 374.85 99.72 373.92 99.75C372.98 99.77 371.77 101.87 370.82 102.18C369.88 102.49 369.15 101.83 368.26 101.6C367.38 101.36 366.64 100.85 365.53 100.77C364.42 100.68 362.29 100.4 361.63 101.11C360.97 101.83 362.32 104.01 361.58 105.04C360.84 106.07 357.93 106.93 357.2 107.31" stroke="#e26666" stroke-width="1.13"/>
<path d="M365.05 80.65C365.1 81.22 365.67 82.88 365.32 84.07C364.97 85.26 362.93 86.86 362.95 87.79C362.98 88.73 364.71 88.84 365.46 89.67C366.2 90.5 367.12 92.25 367.45 92.77" stroke="#ee8484" stroke-width="1.26"/>
<path d="M363.61 105.38C363.18 104.8 361.86 103.01 361.05 101.88C360.24 100.74 358.48 99.7 358.74 98.59C358.99 97.48 361.45 96.44 362.6 95.23C363.74 94.02 364.36 92.3 365.62 91.32C366.87 90.34 369.37 89.69 370.13 89.36" stroke="#e46a6a" stroke-width="1.39"/>
<path d="M381.27 96C381.05 95.32 379.51 93.19 379.96 91.94C380.41 90.7 383.63 89.95 383.98 88.54C384.34 87.13 383.01 84.73 382.09 83.48C381.17 82.24 379.2 82.03 378.47 81.08C377.74 80.13 377.84 78.34 377.71 77.79" stroke="#de6060" stroke-width="1.05"/>
<path d="M376.21 99.97C375.44 99.86 372.76 99.17 371.58 99.29C370.4 99.41 369.59 99.89 369.14 100.67C368.69 101.44 369.09 102.84 368.89 103.93C368.68 105.03 368.68 107.26 367.9 107.26C367.13 107.26 364.84 104.5 364.23 103.95" stroke="#e46a6a" stroke-width="1.33"/>
<path d="M344.62 88.8C344.54 89.6 344.08 93.68 344.14 93.6C344.2 93.53 345.25 89.4 344.96 88.34C344.68 87.29 342.53 87.82 342.44 87.25C342.36 86.68 343.67 86 344.47 84.94C345.26 83.89 346.23 82.12 347.21 80.93C348.2 79.73 350.14 78.75 350.4 77.78C350.66 76.82 349.05 75.58 348.78 75.14" stroke="#e26666" stroke-width="1.06"/>
<path d="M388.13 102.1C388.04 101.21 387.4 98.5 387.55 96.77C387.71 95.05 389.35 93.07 389.07 91.74C388.79 90.41 386.41 89.29 385.87 88.79" stroke="#de6060" stroke-width="0.99"/>
<path d="M392.78 100.61C392.36 100.8 391.21 101.45 390.28 101.77C389.35 102.1 388.28 102.64 387.21 102.58C386.14 102.52 384.41 101.59 383.85 101.39" stroke="#e87272" stroke-width="0.96"/>
<path d="M355.11 77.3C355.22 77.77 355.72 79.14 355.77 80.08C355.82 81.02 355.56 82.01 355.4 82.94C355.24 83.87 354.62 84.62 354.79 85.65C354.96 86.69 355.92 87.85 356.41 89.15C356.9 90.44 358 92.37 357.74 93.41C357.47 94.44 355.58 94.58 354.83 95.36C354.08 96.14 354.08 97.42 353.25 98.06C352.41 98.7 350.59 98.55 349.84 99.22C349.08 99.89 348.89 101.6 348.7 102.08" stroke="#ec7c7c" stroke-width="1.14"/>
<path d="M384.79 86.07C384.75 86.61 384.45 88.02 384.58 89.33C384.71 90.63 384.76 93.06 385.56 93.9C386.36 94.73 388.3 94.59 389.4 94.33C390.49 94.08 391.44 93.15 392.13 92.35C392.81 91.56 393.26 90.04 393.49 89.58" stroke="#e26666" stroke-width="1.09"/>
<path d="M354.38 100.74C354.78 100.09 355.92 97.44 356.8 96.87C357.68 96.3 358.78 97.64 359.67 97.31C360.55 96.98 361.09 95.86 362.1 94.88C363.11 93.9 364.3 91.81 365.73 91.44C367.16 91.07 369.68 92.86 370.66 92.67C371.63 92.47 371.51 91.29 371.59 90.26C371.66 89.23 371.79 87.11 371.12 86.5C370.45 85.89 368.51 85.82 367.57 86.62C366.63 87.42 365.58 89.99 365.48 91.29C365.38 92.59 366.72 93.89 366.97 94.41" stroke="#e87272" stroke-width="1.2"/>
<path d="M361.42 94.31C361.67 95.05 362.05 97.37 362.93 98.77C363.8 100.17 366.49 101.46 366.67 102.7C366.86 103.95 364.91 106.17 364.06 106.25C363.21 106.33 361.99 103.68 361.58 103.17" stroke="#e87272" stroke-width="1.4"/>
<path d="M397.43 63.14C397.64 62.31 397.89 59.64 398.7 58.13C399.51 56.61 401.15 54.88 402.29 54.03C403.42 53.19 405.56 53.27 405.54 53.04C405.51 52.81 402.9 52.36 402.11 52.66C401.32 52.95 401.01 54.43 400.79 54.79" stroke="#e26666" stroke-width="1.33"/>
<path d="M357.62 95.66C357.62 96.56 357.88 99.52 357.65 101.05C357.42 102.57 357.04 104.03 356.23 104.79C355.43 105.55 353.88 105.86 352.81 105.61C351.74 105.35 350.31 103.64 349.81 103.25" stroke="#de6060" stroke-width="1.25"/>
<path d="M376.85 97.07C377.1 97.74 377.46 100.2 378.34 101.06C379.21 101.92 382.11 102.15 382.11 102.24C382.1 102.33 379.02 102.4 378.33 101.58C377.63 100.77 377.99 98.07 377.93 97.37" stroke="#ee8484" stroke-width="1.06"/>
<path d="M397.36 96.28C396.87 96.31 395.05 95.91 394.41 96.49C393.77 97.07 393.69 99.23 393.54 99.77" stroke="#e26666" stroke-width="1.12"/>
<path d="M397.12 54.03C397.58 53.97 398.93 53.79 399.87 53.66C400.81 53.53 402.32 52.61 402.76 53.25C403.2 53.88 402.71 56.28 402.54 57.49C402.36 58.7 402.4 60.07 401.68 60.51C400.97 60.96 399.69 60.05 398.23 60.17C396.78 60.3 394.23 61.29 392.95 61.27C391.67 61.26 390.95 60.27 390.55 60.07" stroke="#e46a6a" stroke-width="1.36"/>
<path d="M402.66 51.15C402.02 51.5 399.82 52.59 398.81 53.27C397.79 53.95 396.57 54.22 396.56 55.22C396.55 56.21 398.26 57.91 398.73 59.23C399.2 60.56 399.17 61.89 399.36 63.17C399.56 64.44 400.19 66.03 399.89 66.86C399.58 67.69 397.93 67.91 397.54 68.12" stroke="#e87272" stroke-width="1.13"/>
<path d="M395.78 97.86C395.58 97.31 394.6 95.64 394.61 94.53C394.62 93.42 395.33 92.09 395.84 91.19C396.36 90.28 397.27 90.11 397.69 89.08C398.12 88.04 397.98 86.21 398.41 84.96C398.85 83.7 400.52 82.56 400.31 81.56C400.09 80.55 397.54 79.91 397.13 78.94C396.72 77.96 397.72 76.24 397.84 75.7" stroke="#e87272" stroke-width="1.18"/>
<path d="M388.36 77C388.04 77.81 387.1 80 386.47 81.9C385.85 83.8 385.11 86.08 384.6 88.42C384.09 90.75 383.61 94.65 383.41 95.9" stroke="#d44c4c" stroke-width="4.04"/>
<path d="M388.36 77C388.04 77.81 387.1 80 386.47 81.9C385.85 83.8 385.11 86.08 384.6 88.42C384.09 90.75 383.61 94.65 383.41 95.9" stroke="#e46a6a" stroke-width="3.44"/>
<path d="M355.3 87.03C355.08 86.23 354.63 83.79 353.99 82.21C353.34 80.63 351.87 78.33 351.44 77.56" stroke="#d04848" stroke-width="3.45"/>
<path d="M355.3 87.03C355.08 86.23 354.63 83.79 353.99 82.21C353.34 80.63 351.87 78.33 351.44 77.56" stroke="#de6060" stroke-width="2.85"/>
<path d="M381.11 90.98C380.16 91.16 377.23 91.56 375.39 92.08C373.55 92.59 371.82 93.56 370.07 94.07C368.32 94.57 365.77 94.94 364.91 95.12" stroke="#d44c4c" stroke-width="2.96"/>
<path d="M381.11 90.98C380.16 91.16 377.23 91.56 375.39 92.08C373.55 92.59 371.82 93.56 370.07 94.07C368.32 94.57 365.77 94.94 364.91 95.12" stroke="#e26666" stroke-width="2.36"/>
<path d="M361.54 93.27C362.75 93.24 366.45 92.89 368.82 93.11C371.19 93.33 374.61 94.33 375.77 94.58" stroke="#d44c4c" stroke-width="3.39"/>
<path d="M361.54 93.27C362.75 93.24 366.45 92.89 368.82 93.11C371.19 93.33 374.61 94.33 375.77 94.58" stroke="#e26666" stroke-width="2.79"/>
<path d="M385.53 93.39C384.82 94.37 382.45 97.21 381.28 99.28C380.1 101.35 378.95 104.72 378.48 105.81" stroke="#d44c4c" stroke-width="4.11"/>
<path d="M385.53 93.39C384.82 94.37 382.45 97.21 381.28 99.28C380.1 101.35 378.95 104.72 378.48 105.81" stroke="#e46a6a" stroke-width="3.51"/>
<path d="M354.34 88.62C354.86 87.89 356.47 85.92 357.43 84.26C358.39 82.6 359.66 79.59 360.11 78.66" stroke="#d44c4c" stroke-width="3.91"/>
<path d="M354.34 88.62C354.86 87.89 356.47 85.92 357.43 84.26C358.39 82.6 359.66 79.59 360.11 78.66" stroke="#e46a6a" stroke-width="3.31"/>
<path d="M401.44 80.81C401.71 79.59 402.83 75.56 403.05 73.49C403.27 71.42 402.81 69.25 402.76 68.41" stroke="#d04848" stroke-width="3.79"/>
<path d="M401.44 80.81C401.71 79.59 402.83 75.56 403.05 73.49C403.27 71.42 402.81 69.25 402.76 68.41" stroke="#e87272" stroke-width="3.19"/>
<path d="M408.49 78.64C407.51 77.97 404.66 76.04 402.66 74.59C400.65 73.13 397.51 70.69 396.48 69.91" stroke="#d44c4c" stroke-width="3.42"/>
<path d="M408.49 78.64C407.51 77.97 404.66 76.04 402.66 74.59C400.65 73.13 397.51 70.69 396.48 69.91" stroke="#e87272" stroke-width="2.82"/>
<path d="M385.71 103.46C384.55 103.04 380.84 101.31 378.76 100.9C376.69 100.48 375.4 100.69 373.28 100.99C371.15 101.29 367.24 102.42 366.03 102.71" stroke="#d04848" stroke-width="2.83"/>
<path d="M385.71 103.46C384.55 103.04 380.84 101.31 378.76 100.9C376.69 100.48 375.4 100.69 373.28 100.99C371.15 101.29 367.24 102.42 366.03 102.71" stroke="#ec7c7c" stroke-width="2.23"/>
<path d="M372.47 74.26C371.45 74.36 368.57 74.68 366.3 74.89C364.03 75.11 361.02 75.49 358.85 75.54C356.68 75.6 354.21 75.27 353.28 75.22" stroke="#d44c4c" stroke-width="2.99"/>
<path d="M372.47 74.26C371.45 74.36 368.57 74.68 366.3 74.89C364.03 75.11 361.02 75.49 358.85 75.54C356.68 75.6 354.21 75.27 353.28 75.22" stroke="#e87272" stroke-width="2.39"/>
<path d="M407.09 72.04C406.54 72.97 405.16 76.01 403.75 77.62C402.35 79.22 399.5 80.98 398.65 81.65" stroke="#d04848" stroke-width="3.69"/>
<path d="M407.09 72.04C406.54 72.97 405.16 76.01 403.75 77.62C402.35 79.22 399.5 80.98 398.65 81.65" stroke="#e26666" stroke-width="3.09"/>
<path d="M402.63 62.71C403.38 63.4 407.43 65.87 407.15 66.84C406.86 67.8 401.96 68.22 400.93 68.49" stroke="#d04848" stroke-width="4.17"/>
<path d="M402.63 62.71C403.38 63.4 407.43 65.87 407.15 66.84C406.86 67.8 401.96 68.22 400.93 68.49" stroke="#e87272" stroke-width="3.57"/>
<path d="M363 92.05C362.46 90.87 360.7 87.02 359.77 84.97C358.84 82.91 358.49 81.23 357.41 79.72C356.33 78.21 353.97 76.55 353.29 75.91" stroke="#d04848" stroke-width="3.55"/>
<path d="M363 92.05C362.46 90.87 360.7 87.02 359.77 84.97C358.84 82.91 358.49 81.23 357.41 79.72C356.33 78.21 353.97 76.55 353.29 75.91" stroke="#ec7c7c" stroke-width="2.95"/>
<path d="M391.63 81.11C391.08 80.41 389.32 78.43 388.34 76.9C387.36 75.38 386.8 73.71 385.76 71.94C384.71 70.18 382.69 67.23 382.08 66.28" stroke="#d04848" stroke-width="3.17"/>
<path d="M391.63 81.11C391.08 80.41 389.32 78.43 388.34 76.9C387.36 75.38 386.8 73.71 385.76 71.94C384.71 70.18 382.69 67.23 382.08 66.28" stroke="#de6060" stroke-width="2.57"/>
<path d="M372.08 68.09C373.29 68.2 377.14 68.5 379.3 68.74C381.47 68.98 384.1 69.39 385.06 69.52" stroke="#d04848" stroke-width="4.09"/>
<path d="M372.08 68.09C373.29 68.2 377.14 68.5 379.3 68.74C381.47 68.98 384.1 69.39 385.06 69.52" stroke="#de6060" stroke-width="3.49"/>
<path d="M344.09 81.28C345.06 80.78 348.2 79.34 349.9 78.3C351.61 77.26 352.61 76.35 354.31 75.01C356.01 73.67 359.14 71.05 360.11 70.26" stroke="#d44c4c" stroke-width="3.58"/>
<path d="M344.09 81.28C345.06 80.78 348.2 79.34 349.9 78.3C351.61 77.26 352.61 76.35 354.31 75.01C356.01 73.67 359.14 71.05 360.11 70.26" stroke="#e26666" stroke-width="2.98"/>
<path d="M356.83 73.6C358.09 73.82 362.11 74.54 364.39 74.92C366.66 75.29 368.36 75.34 370.48 75.87C372.59 76.41 376 77.75 377.1 78.13" stroke="#d44c4c" stroke-width="2.93"/>
<path d="M356.83 73.6C358.09 73.82 362.11 74.54 364.39 74.92C366.66 75.29 368.36 75.34 370.48 75.87C372.59 76.41 376 77.75 377.1 78.13" stroke="#ec7c7c" stroke-width="2.33"/>
<path d="M385.29 58.54C385.27 59.6 385.42 62.85 385.17 64.9C384.91 66.95 383.85 68.78 383.78 70.86C383.7 72.94 384.54 76.31 384.7 77.4" stroke="#d44c4c" stroke-width="3.04"/>
<path d="M385.29 58.54C385.27 59.6 385.42 62.85 385.17 64.9C384.91 66.95 383.85 68.78 383.78 70.86C383.7 72.94 384.54 76.31 384.7 77.4" stroke="#ec7c7c" stroke-width="2.44"/>
<path d="M395.03 53.64C395.84 53.94 398.35 54.56 399.89 55.47C401.43 56.38 403.52 58.49 404.25 59.1" stroke="#d44c4c" stroke-width="2.98"/>
<path d="M395.03 53.64C395.84 53.94 398.35 54.56 399.89 55.47C401.43 56.38 403.52 58.49 404.25 59.1" stroke="#de6060" stroke-width="2.38"/>
<path d="M395.6 64.58C396.8 64.36 400.43 63.48 402.81 63.25C405.2 63.03 408.75 63.22 409.93 63.22" stroke="#d44c4c" stroke-width="3.96"/>
<path d="M395.6 64.58C396.8 64.36 400.43 63.48 402.81 63.25C405.2 63.03 408.75 63.22 409.93 63.22" stroke="#de6060" stroke-width="3.36"/>
<path d="M363.93 97.68C363.05 97.5 360.43 97.32 358.64 96.6C356.85 95.88 354.11 93.91 353.2 93.37" stroke="#d04848" stroke-width="3.61"/>
<path d="M363.93 97.68C363.05 97.5 360.43 97.32 358.64 96.6C356.85 95.88 354.11 93.91 353.2 93.37" stroke="#ee8484" stroke-width="3.01"/>
<path d="M384.4 95.04C385.25 94.48 388.08 93.01 389.49 91.66C390.89 90.3 391.73 88.68 392.81 86.93C393.9 85.18 395.46 82.13 395.99 81.17" stroke="#d44c4c" stroke-width="3.33"/>
<path d="M384.4 95.04C385.25 94.48 388.08 93.01 389.49 91.66C390.89 90.3 391.73 88.68 392.81 86.93C393.9 85.18 395.46 82.13 395.99 81.17" stroke="#e46a6a" stroke-width="2.73"/>
<path d="M372.81 77.05C373.21 78.1 374.61 81.25 375.18 83.35C375.75 85.44 376.06 88.57 376.24 89.62" stroke="#d04848" stroke-width="3.1"/>
<path d="M372.81 77.05C373.21 78.1 374.61 81.25 375.18 83.35C375.75 85.44 376.06 88.57 376.24 89.62" stroke="#ec7c7c" stroke-width="2.5"/>
<path d="M360.54 73.86C359.51 74.32 356.26 76.11 354.37 76.61C352.48 77.1 350.06 76.79 349.19 76.83" stroke="#d04848" stroke-width="4.2"/>
<path d="M360.54 73.86C359.51 74.32 356.26 76.11 354.37 76.61C352.48 77.1 350.06 76.79 349.19 76.83" stroke="#ec7c7c" stroke-width="3.6"/>
<path d="M381.23 77.96C382.08 77.86 384.37 77.8 386.29 77.37C388.2 76.93 391.66 75.69 392.74 75.35" stroke="#d44c4c" stroke-width="3.43"/>
<path d="M381.23 77.96C382.08 77.86 384.37 77.8 386.29 77.37C388.2 76.93 391.66 75.69 392.74 75.35" stroke="#ec7c7c" stroke-width="2.83"/>
<path d="M388.77 99.65C387.75 99.46 384.68 99.1 382.63 98.54C380.58 97.99 378.78 96.74 376.47 96.33C374.16 95.92 370.06 96.11 368.78 96.06" stroke="#d04848" stroke-width="3.98"/>
<path d="M388.77 99.65C387.75 99.46 384.68 99.1 382.63 98.54C380.58 97.99 378.78 96.74 376.47 96.33C374.16 95.92 370.06 96.11 368.78 96.06" stroke="#e87272" stroke-width="3.38"/>
<path d="M374.64 66.84C375.48 66.43 377.88 65.03 379.68 64.36C381.48 63.68 384.5 63.04 385.46 62.78" stroke="#d44c4c" stroke-width="3.45"/>
<path d="M374.64 66.84C375.48 66.43 377.88 65.03 379.68 64.36C381.48 63.68 384.5 63.04 385.46 62.78" stroke="#ec7c7c" stroke-width="2.85"/>
<path d="M377.06 94.06C376.68 94.8 375.62 97.06 374.76 98.52C373.91 99.97 373.11 101.18 371.95 102.79C370.79 104.39 368.5 107.24 367.81 108.13" stroke="#d04848" stroke-width="3.34"/>
<path d="M377.06 94.06C376.68 94.8 375.62 97.06 374.76 98.52C373.91 99.97 373.11 101.18 371.95 102.79C370.79 104.39 368.5 107.24 367.81 108.13" stroke="#de6060" stroke-width="2.74"/>
<ellipse cx="365.29" cy="106.73" rx="1.6" ry="3.4" transform="rotate(42.9 365.29 106.73)" stroke="#d04848" stroke-width="1.38"/>
<ellipse cx="367.83" cy="107.91" rx="1.6" ry="3.4" transform="rotate(42.9 367.83 107.91)" stroke="#d04848" stroke-width="1.41"/>
<ellipse cx="370.37" cy="109.09" rx="1.6" ry="3.4" transform="rotate(42.9 370.37 109.09)" stroke="#d04848" stroke-width="1.59"/>
<ellipse cx="372.91" cy="110.27" rx="1.6" ry="3.4" transform="rotate(42.9 372.91 110.27)" stroke="#d04848" stroke-width="1.57"/>
<ellipse cx="375.45" cy="111.45" rx="1.6" ry="3.4" transform="rotate(42.9 375.45 111.45)" stroke="#d04848" stroke-width="1.7"/>
<ellipse cx="403.53" cy="87.03" rx="1.6" ry="3.4" transform="rotate(266.2 403.53 87.03)" stroke="#c83a3a" stroke-width="1.54"/>
<ellipse cx="402.49" cy="84.43" rx="1.6" ry="3.4" transform="rotate(266.2 402.49 84.43)" stroke="#c83a3a" stroke-width="1.44"/>
<ellipse cx="401.45" cy="81.83" rx="1.6" ry="3.4" transform="rotate(266.2 401.45 81.83)" stroke="#c83a3a" stroke-width="1.73"/>
<ellipse cx="400.41" cy="79.24" rx="1.6" ry="3.4" transform="rotate(266.2 400.41 79.24)" stroke="#c83a3a" stroke-width="1.62"/>
<ellipse cx="399.37" cy="76.64" rx="1.6" ry="3.4" transform="rotate(266.2 399.37 76.64)" stroke="#c83a3a" stroke-width="1.44"/>
<ellipse cx="351.92" cy="85.34" rx="1.6" ry="3.4" transform="rotate(22.09 351.92 85.34)" stroke="#c83a3a" stroke-width="1.31"/>
<ellipse cx="354.71" cy="85.54" rx="1.6" ry="3.4" transform="rotate(22.09 354.71 85.54)" stroke="#c83a3a" stroke-width="1.6"/>
<ellipse cx="357.5" cy="85.74" rx="1.6" ry="3.4" transform="rotate(22.09 357.5 85.74)" stroke="#c83a3a" stroke-width="1.74"/>
<ellipse cx="375.08" cy="73.23" rx="1.6" ry="3.4" transform="rotate(221.98 375.08 73.23)" stroke="#d44c4c" stroke-width="1.72"/>
<ellipse cx="372.52" cy="72.09" rx="1.6" ry="3.4" transform="rotate(221.98 372.52 72.09)" stroke="#d44c4c" stroke-width="1.47"/>
<ellipse cx="369.97" cy="70.95" rx="1.6" ry="3.4" transform="rotate(221.98 369.97 70.95)" stroke="#d44c4c" stroke-width="1.74"/>
<ellipse cx="367.41" cy="69.81" rx="1.6" ry="3.4" transform="rotate(221.98 367.41 69.81)" stroke="#d44c4c" stroke-width="1.56"/>
<ellipse cx="395.64" cy="78.17" rx="1.6" ry="3.4" transform="rotate(333.54 395.64 78.17)" stroke="#c03434" stroke-width="1.43"/>
<ellipse cx="397.64" cy="76.21" rx="1.6" ry="3.4" transform="rotate(333.54 397.64 76.21)" stroke="#c03434" stroke-width="1.64"/>
<ellipse cx="399.64" cy="74.25" rx="1.6" ry="3.4" transform="rotate(333.54 399.64 74.25)" stroke="#c03434" stroke-width="1.7"/>
<ellipse cx="401.64" cy="72.29" rx="1.6" ry="3.4" transform="rotate(333.54 401.64 72.29)" stroke="#c03434" stroke-width="1.49"/>
<ellipse cx="360.12" cy="100.71" rx="1.6" ry="3.4" transform="rotate(249.82 360.12 100.71)" stroke="#d04848" stroke-width="1.66"/>
<ellipse cx="358.39" cy="98.51" rx="1.6" ry="3.4" transform="rotate(249.82 358.39 98.51)" stroke="#d04848" stroke-width="1.45"/>
<ellipse cx="356.66" cy="96.31" rx="1.6" ry="3.4" transform="rotate(249.82 356.66 96.31)" stroke="#d04848" stroke-width="1.76"/>
<ellipse cx="354.93" cy="94.11" rx="1.6" ry="3.4" transform="rotate(249.82 354.93 94.11)" stroke="#d04848" stroke-width="1.32"/>
<ellipse cx="402.15" cy="90.5" rx="1.6" ry="3.4" transform="rotate(249.41 402.15 90.5)" stroke="#c03434" stroke-width="1.44"/>
<ellipse cx="400.4" cy="88.31" rx="1.6" ry="3.4" transform="rotate(249.41 400.4 88.31)" stroke="#c03434" stroke-width="1.57"/>
<ellipse cx="398.66" cy="86.12" rx="1.6" ry="3.4" transform="rotate(249.41 398.66 86.12)" stroke="#c03434" stroke-width="1.62"/>
<ellipse cx="396.91" cy="83.93" rx="1.6" ry="3.4" transform="rotate(249.41 396.91 83.93)" stroke="#c03434" stroke-width="1.72"/>
<ellipse cx="379.68" cy="83.07" rx="1.6" ry="3.4" transform="rotate(190.84 379.68 83.07)" stroke="#d44c4c" stroke-width="1.35"/>
<ellipse cx="376.9" cy="83.41" rx="1.6" ry="3.4" transform="rotate(190.84 376.9 83.41)" stroke="#d44c4c" stroke-width="1.62"/>
<ellipse cx="374.12" cy="83.76" rx="1.6" ry="3.4" transform="rotate(190.84 374.12 83.76)" stroke="#d44c4c" stroke-width="1.57"/>
<ellipse cx="371.35" cy="84.11" rx="1.6" ry="3.4" transform="rotate(190.84 371.35 84.11)" stroke="#d44c4c" stroke-width="1.7"/>
<ellipse cx="368.57" cy="84.46" rx="1.6" ry="3.4" transform="rotate(190.84 368.57 84.46)" stroke="#d44c4c" stroke-width="1.61"/>
<ellipse cx="369.3" cy="95.25" rx="1.6" ry="3.4" transform="rotate(43.71 369.3 95.25)" stroke="#d44c4c" stroke-width="1.67"/>
<ellipse cx="371.83" cy="96.46" rx="1.6" ry="3.4" transform="rotate(43.71 371.83 96.46)" stroke="#d44c4c" stroke-width="1.8"/>
<ellipse cx="374.35" cy="97.68" rx="1.6" ry="3.4" transform="rotate(43.71 374.35 97.68)" stroke="#d44c4c" stroke-width="1.39"/></g>
<path d="M392.64 74.74C392.68 74.07 392.25 71.78 392.84 70.74C393.43 69.7 395.03 69.2 396.17 68.52C397.31 67.83 399.22 67.58 399.68 66.61C400.14 65.64 399.05 63.34 398.92 62.68" stroke="#8080e4" stroke-width="1.1"/>
<path d="M356.36 93.1C356.27 93.76 355.73 95.77 355.83 97.06C355.94 98.36 357.23 99.75 356.99 100.89C356.74 102.04 354.81 103.42 354.38 103.93" stroke="#6a6adc" stroke-width="1.1"/>
<path d="M363.82 96.71C363.9 97.37 364.21 99.36 364.28 100.68C364.35 102.01 364.16 103.36 364.25 104.68C364.33 106.01 364.69 107.99 364.78 108.65" stroke="#6c6cdc" stroke-width="1.1"/>
<path d="M363.29 85.79C363.25 86.46 363.44 88.55 363.06 89.79C362.68 91.03 361.08 92.05 361.02 93.23C360.95 94.41 362.39 95.6 362.67 96.87C362.94 98.15 362.67 100.2 362.67 100.87" stroke="#8080e4" stroke-width="1.1"/>
<path d="M341.42 64.21C341.05 64.76 340.06 66.54 339.18 67.52C338.3 68.51 337.31 69.64 336.14 70.12C334.97 70.6 333.38 70.69 332.15 70.38C330.92 70.07 329.32 68.61 328.75 68.26" stroke="#ec7c7c" stroke-width="1.1"/>
<path d="M368.44 67.99C368.8 67.43 370.27 65.86 370.61 64.63C370.95 63.4 369.95 61.68 370.47 60.63C370.99 59.58 372.58 58.95 373.75 58.34C374.92 57.73 376.33 57.58 377.51 56.99C378.7 56.4 380.31 55.18 380.87 54.81" stroke="#ec7c7c" stroke-width="1.1"/>
<path d="M306.36 79.12C305.86 78.67 303.97 77.55 303.39 76.44C302.81 75.33 302.94 73.13 302.85 72.47" stroke="#e26666" stroke-width="1.1"/>
<path d="M361.8 51.81C362.23 51.3 363.96 49.93 364.39 48.76C364.82 47.59 363.89 45.9 364.35 44.76C364.82 43.62 366.77 43.07 367.18 41.93C367.6 40.8 366.91 38.61 366.86 37.95" stroke="#e26666" stroke-width="1.1"/>
<path d="M332.2 83.35C332.43 82.72 333.16 80.86 333.6 79.6C334.04 78.35 335.06 76.96 334.85 75.8C334.65 74.65 332.79 73.19 332.37 72.67" stroke="#e26666" stroke-width="1.1"/>
</g>
<g filter="url(#inner)" fill="url(#bgr)">
<path d="M527.43 72.6C526.94 71.4 527.99 69.41 528.18 67.78C528.36 66.16 526.54 65.4 528.55 62.86C530.55 60.31 536.9 56.15 540.18 52.53C543.47 48.9 544.78 44.09 548.27 41.09C551.76 38.08 557.06 36.89 561.13 34.52C565.2 32.14 569.2 28.71 572.69 26.82C576.18 24.94 578.87 24.2 582.08 23.19C585.29 22.19 588.31 20.91 591.96 20.81C595.62 20.71 599.98 22.03 604.01 22.59C608.03 23.16 612.49 23.15 616.12 24.21C619.74 25.26 622.5 27.39 625.76 28.92C629.02 30.46 632.43 31.41 635.67 33.42C638.92 35.43 641.94 38.53 645.23 40.98C648.52 43.42 652.89 45.95 655.41 48.09C657.93 50.22 657.94 52.13 660.34 53.78C662.73 55.43 668.14 56.21 669.77 57.97C671.4 59.72 669.64 62.28 670.11 64.32C670.58 66.37 672.26 68.06 672.6 70.23C672.93 72.4 672.51 74.99 672.1 77.34C671.7 79.7 671.29 82 670.17 84.36C669.05 86.72 666.66 88.98 665.39 91.5C664.12 94.02 664.5 97.15 662.57 99.47C660.64 101.79 656.62 103.38 653.78 105.43C650.94 107.47 648.75 110.09 645.54 111.74C642.33 113.4 638.25 114.27 634.52 115.36C630.79 116.46 626.82 117.47 623.15 118.32C619.49 119.17 616.14 120.1 612.53 120.47C608.92 120.83 605.09 121.06 601.5 120.5C597.91 119.95 594.59 117.89 590.98 117.14C587.37 116.4 583.72 117.01 579.83 116.03C575.95 115.04 571.55 112.96 567.67 111.23C563.78 109.49 559.59 107.72 556.54 105.61C553.48 103.5 551.64 100.96 549.34 98.58C547.05 96.2 544.65 93.67 542.78 91.33C540.91 88.99 539.68 86.84 538.13 84.53C536.59 82.21 534.68 79.05 533.51 77.46C532.34 75.87 532.13 75.8 531.12 74.99C530.11 74.18 527.92 73.8 527.43 72.6Z"/>
<path d="M501.14 53.93C502.93 53.24 504.7 53.85 506.5 53.88C508.31 53.91 510.49 53.72 511.96 54.11C513.44 54.51 514.16 55.62 515.36 56.24C516.57 56.85 518.34 56.86 519.2 57.78C520.06 58.71 520.22 60.41 520.53 61.8C520.84 63.2 520.88 64.46 521.05 66.17C521.21 67.87 521.49 70.01 521.54 72.01C521.59 74.01 521.9 76.29 521.35 78.16C520.8 80.03 519.28 81.57 518.24 83.24C517.2 84.91 516.57 87.2 515.1 88.2C513.64 89.2 511.32 88.72 509.46 89.24C507.6 89.76 505.78 91.29 503.96 91.32C502.14 91.35 500.41 89.9 498.55 89.4C496.68 88.89 494.02 89.5 492.76 88.29C491.51 87.08 491.6 84.19 491.04 82.14C490.48 80.1 489.65 78.23 489.38 76.03C489.12 73.83 489.37 71.31 489.45 68.96C489.53 66.61 488.82 63.74 489.87 61.93C490.92 60.11 493.86 59.38 495.74 58.05C497.62 56.71 499.34 54.63 501.14 53.93Z"/>
<path d="M515 59.5C517 56.17 523.33 60.25 527 60C530.67 59.75 535.17 54.67 537 58C538.83 61.33 539.67 76.58 538 80C536.33 83.42 530.83 78.5 527 78.5C523.17 78.5 517 83.17 515 80C513 76.83 513 62.83 515 59.5Z"/>
</g>
<g filter="url(#hl)" fill="#f7f7f7">
<ellipse cx="499.74" cy="72.25" rx="5.12" ry="13.12"/>
<ellipse cx="569.21" cy="70.7" rx="12.02" ry="4.27"/>
<ellipse cx="652.56" cy="90.58" rx="6.17" ry="8.06"/>
<ellipse cx="571.12" cy="34.16" rx="7.94" ry="8.89"/>
<ellipse cx="616.06" cy="90.93" rx="13.05" ry="6.61"/>
<ellipse cx="563.03" cy="77.65" rx="12.9" ry="7.49"/>
<ellipse cx="636.74" cy="38.76" rx="11.37" ry="4.81"/>
</g>
<g filter="url(#ct)" fill="none" stroke="#cdcdcd" stroke-width="1">
<path d="M616.5 36.53C618.81 37.7 625.71 40.62 630.37 43.54C635.03 46.46 640.36 51.13 644.46 54.06C648.56 56.98 652.64 58.44 654.98 61.06C657.31 63.69 657.9 68.36 658.48 69.82"/>
<path d="M654.94 83.58C653.73 85.43 651.02 91.31 647.66 94.7C644.29 98.09 636.91 102.37 634.77 103.91"/>
<path d="M654.98 80.45C653.88 82.12 651.44 87.42 648.42 90.47C645.39 93.52 641.24 96.57 636.81 98.76C632.38 100.95 626.79 102.5 621.82 103.6C616.84 104.69 609.44 105.04 606.96 105.32"/>
<path d="M632.6 39.27C635.19 41.2 643.59 47.62 648.1 50.84C652.61 54.05 657.1 55.65 659.67 58.55C662.23 61.44 663.21 64.66 663.52 68.18C663.83 71.7 663.12 75.81 661.51 79.66C659.91 83.52 655.16 89.37 653.88 91.31"/>
</g>
<path d="M527.2 84.5C525.6 82.92 532.4 79.38 534.4 75C536.4 70.62 535.6 65 539.2 58.2C542.8 51.4 550 39.4 556 34.2C562 29 569.2 27.8 575.2 27C581.2 26.2 587.2 27.4 592 29.4C596.8 31.4 600.42 35 604 39C607.58 43 609.5 49.4 613.5 53.4C617.5 57.4 625.2 59.8 628 63C630.8 66.2 632.3 71 630.3 72.6C628.3 74.2 622.38 73 616 72.6C609.62 72.2 598.42 69.8 592 70.2C585.58 70.6 582.33 74.6 577.5 75C572.67 75.4 566.58 70.6 563 72.6C559.42 74.6 559.17 85.02 556 87C552.83 88.98 548.8 84.92 544 84.5C539.2 84.08 528.8 86.08 527.2 84.5Z" fill="#9090dc" fill-opacity="0.18" filter="url(#soft)"/>
<path d="M560.8 77.4C564.03 75 574.03 75 582.4 72.6C590.77 70.2 602.62 65.4 611 63C619.38 60.6 623.48 59 632.7 58.2C641.92 57.4 661.5 55.4 666.3 58.2C671.1 61 665.1 69.82 661.5 75C657.9 80.18 649.12 84.13 644.7 89.3C640.28 94.47 640.62 101.6 635 106C629.38 110.4 619.77 114.87 611 115.7C602.23 116.53 588.37 114.2 582.4 111C576.43 107.8 578.43 100.5 575.2 96.5C571.97 92.5 565.4 90.18 563 87C560.6 83.82 557.57 79.8 560.8 77.4Z" fill="#e08080" fill-opacity="0.18" filter="url(#soft)"/>
<g filter="url(#soft2)" fill="none" stroke-linecap="round" stroke-linejoin="round">
<g clip-path="url(#cbc)"><path d="M561.49 44.84C561.19 45.36 560.08 46.98 559.65 47.93C559.22 48.88 558.38 49.5 558.92 50.54C559.45 51.58 561.88 53.14 562.86 54.16C563.85 55.18 564.51 56.26 564.84 56.68" stroke="#8080e4" stroke-width="1.22"/>
<path d="M552.48 59.98C552.57 59.31 552.53 57.08 553.01 55.95C553.49 54.82 555.3 54.2 555.34 53.2C555.39 52.2 553.34 51.19 553.27 49.95C553.21 48.71 555.38 46.9 554.97 45.75C554.55 44.6 551.49 43.5 550.79 43.05" stroke="#6c6cdc" stroke-width="1.11"/>
<path d="M566.77 49.81C567.25 50.03 568.66 51.04 569.64 51.1C570.61 51.15 571.94 49.88 572.64 50.12C573.34 50.36 573.18 52.12 573.85 52.54C574.52 52.96 575.54 53.03 576.66 52.64C577.79 52.25 579.89 51.25 580.6 50.2C581.31 49.15 581.13 47.33 580.91 46.33C580.68 45.32 580.25 44.44 579.25 44.17C578.26 43.9 575.65 44.6 574.92 44.69" stroke="#6a6adc" stroke-width="0.92"/>
<path d="M585.64 45.14C585.68 44.29 586.41 41.36 585.91 40.03C585.4 38.7 583.83 37.94 582.61 37.18C581.38 36.41 579.69 36.25 578.56 35.44C577.43 34.62 575.99 33.23 575.86 32.29C575.72 31.36 577.98 30.16 577.73 29.83C577.47 29.5 574.89 30.23 574.33 30.31" stroke="#7676e0" stroke-width="1.04"/>
<path d="M609.04 49.88C608.4 49.65 606.35 48.45 605.2 48.54C604.05 48.63 602.63 49.36 602.15 50.44C601.67 51.52 602.21 53.51 602.32 55.03C602.44 56.55 603.33 58.59 602.84 59.57C602.35 60.56 600.76 61.14 599.41 60.94C598.07 60.74 596.24 58.52 594.79 58.38C593.33 58.24 592 59.52 590.66 60.12C589.32 60.72 588.03 61.59 586.75 61.98C585.48 62.37 583.63 62.38 583.01 62.46" stroke="#8080e4" stroke-width="1.21"/>
<path d="M541.96 71.43C541.68 70.62 540.64 66.5 540.24 66.55C539.85 66.59 540.16 70.45 539.58 71.7C538.99 72.95 537.34 72.8 536.74 74.07C536.14 75.34 536.68 78.23 536 79.32C535.32 80.41 533.2 80.42 532.64 80.64" stroke="#8080e4" stroke-width="1.33"/>
<path d="M582.53 28.17C582.23 28.49 581.79 29.24 580.77 30.11C579.74 30.98 577.52 33.09 576.38 33.41C575.24 33.72 574.98 31.63 573.95 31.98C572.92 32.33 571.39 35.25 570.22 35.52C569.05 35.78 567.58 34.35 566.95 33.59C566.31 32.83 566.5 31.4 566.41 30.96" stroke="#6262d8" stroke-width="1.03"/>
<path d="M538.24 80.11C539 79.67 541.56 77.71 542.79 77.48C544.03 77.24 544.72 78.44 545.62 78.7C546.53 78.96 547.19 79.25 548.24 79.04C549.29 78.82 550.88 77.55 551.94 77.41C553 77.27 553.64 78.77 554.62 78.2C555.59 77.63 557.27 74.69 557.8 73.99" stroke="#6c6cdc" stroke-width="1.18"/>
<path d="M573.67 37.4C574.09 37.17 575.06 36.35 576.2 35.99C577.33 35.63 579.5 34.52 580.48 35.22C581.46 35.92 582.29 38.7 582.09 40.18C581.9 41.66 580.11 42.86 579.3 44.11C578.5 45.36 576.88 46.56 577.26 47.66C577.64 48.76 580.95 49.55 581.59 50.72C582.23 51.89 581.98 53.87 581.12 54.68C580.26 55.49 577.64 55.57 576.45 55.59C575.26 55.61 574.38 54.93 573.97 54.8" stroke="#8080e4" stroke-width="1.02"/>
<path d="M581.36 65.21C581.95 65.26 583.44 65.7 584.91 65.5C586.38 65.3 588.69 64.1 590.18 64.02C591.66 63.94 592.81 65.33 593.84 65.02C594.88 64.72 596.3 63.08 596.4 62.2C596.5 61.32 594.58 60.57 594.45 59.75C594.32 58.93 595.41 57.69 595.6 57.27" stroke="#6a6adc" stroke-width="1.18"/>
<path d="M591.91 32.31C591.7 32.78 590.45 34.02 590.64 35.15C590.83 36.29 591.79 38.71 593.05 39.1C594.31 39.49 596.47 37.52 598.19 37.48C599.92 37.44 602.54 38.64 603.41 38.87" stroke="#6c6cdc" stroke-width="1.15"/>
<path d="M548.38 47.49C548.54 48.01 549.74 49.68 549.36 50.59C548.98 51.49 546.08 53.09 546.1 52.93C546.12 52.78 548.92 50.22 549.48 49.68" stroke="#6262d8" stroke-width="1.06"/>
<path d="M558.14 36.72C557.93 37.32 557.58 39.48 556.89 40.29C556.2 41.11 555.11 41.17 553.98 41.61C552.85 42.04 550.99 42.3 550.11 42.91C549.23 43.51 548.31 45.18 548.69 45.24C549.08 45.29 551.33 43.25 552.42 43.26C553.52 43.27 555 44.46 555.25 45.28C555.49 46.1 554.12 47.7 553.9 48.19" stroke="#6a6adc" stroke-width="1.01"/>
<path d="M545.8 68.66C546.29 68.95 547.54 69.83 548.73 70.35C549.91 70.88 551.83 72.35 552.91 71.81C553.99 71.27 554.09 68.03 555.21 67.13C556.33 66.23 558.31 67.12 559.62 66.42C560.93 65.71 561.81 63.74 563.06 62.9C564.31 62.07 565.71 61.81 567.12 61.42C568.53 61.03 570.11 60.43 571.54 60.55C572.97 60.67 575.19 61.12 575.69 62.13C576.2 63.14 574.75 65.86 574.56 66.6" stroke="#6262d8" stroke-width="1.31"/>
<path d="M607.02 65.94C607.27 65.2 608.31 62.69 608.52 61.54C608.73 60.38 607.88 59.5 608.28 59.01C608.69 58.51 610.47 59.36 610.94 58.57C611.41 57.78 611.07 55 611.1 54.29" stroke="#7676e0" stroke-width="1.12"/>
<path d="M563.17 43.14C563.66 43.12 565.46 43.42 566.1 42.99C566.74 42.56 567.18 41.25 566.99 40.57C566.8 39.89 565.94 39.28 564.95 38.91C563.97 38.53 562.39 38.98 561.1 38.33C559.81 37.69 557.84 35.61 557.19 35.06" stroke="#8080e4" stroke-width="0.94"/>
<path d="M539.72 75.37C540.1 75.06 541.37 74.36 541.99 73.48C542.6 72.6 542.92 71.26 543.42 70.1C543.91 68.95 543.85 67.14 544.97 66.54C546.09 65.94 548.83 66.74 550.16 66.5C551.49 66.26 552.47 65.32 552.93 65.09" stroke="#8080e4" stroke-width="1.22"/>
<path d="M555.31 53.31C554.55 53.59 551.46 54.23 550.77 55.01C550.08 55.79 551.32 57.1 551.19 58.01C551.05 58.92 551.04 59.99 549.98 60.48C548.92 60.98 546.15 60.27 544.84 60.97C543.52 61.67 542.56 64.07 542.1 64.69" stroke="#8a8ae6" stroke-width="1.19"/>
<path d="M551.36 63.41C551.97 63.32 553.89 62.33 555.03 62.82C556.17 63.32 556.92 65.87 558.19 66.39C559.46 66.91 561.78 65.42 562.64 65.94C563.51 66.47 563.27 68.96 563.4 69.57" stroke="#8a8ae6" stroke-width="1.32"/>
<path d="M583.7 65.61C584.51 65.58 587.61 66.27 588.56 65.47C589.51 64.66 589.88 62.11 589.39 60.76C588.89 59.41 586.13 58.53 585.56 57.37C585 56.22 586.39 54.67 586 53.83C585.62 52.99 583.7 52.6 583.24 52.35" stroke="#7676e0" stroke-width="1.1"/>
<path d="M589.08 56.34C589.45 56.65 591.27 57.32 591.32 58.19C591.37 59.06 589.91 60.54 589.38 61.55C588.85 62.55 588.17 63.3 588.14 64.23C588.11 65.15 588.43 66.25 589.18 67.1C589.94 67.95 591.55 69.03 592.68 69.31C593.8 69.59 595.29 69.3 595.94 68.78C596.59 68.25 595.85 66.65 596.59 66.15C597.33 65.65 599.28 65.95 600.38 65.77C601.48 65.6 602.57 64.8 603.19 65.08C603.81 65.36 603.94 67.06 604.09 67.46" stroke="#6262d8" stroke-width="0.92"/>
<path d="M556.93 56.17C556.37 56.26 554.65 57.37 553.57 56.71C552.49 56.05 551.78 52.95 550.44 52.21C549.1 51.47 546.86 51.58 545.52 52.28C544.17 52.98 543.4 55.03 542.37 56.4C541.33 57.78 539.1 59.53 539.3 60.54C539.5 61.55 542.34 61.93 543.57 62.48C544.79 63.03 546.14 63.62 546.65 63.84" stroke="#8080e4" stroke-width="1.3"/>
<path d="M554.31 45.36C554.79 45.86 556.27 48.01 557.19 48.4C558.1 48.79 559.12 48.21 559.8 47.68C560.48 47.14 561.72 46.12 561.27 45.19C560.82 44.26 558.43 43.18 557.1 42.1C555.76 41.03 553.9 39.31 553.26 38.76" stroke="#8080e4" stroke-width="0.93"/>
<path d="M538.75 63.4C539.2 63.06 540.54 61.5 541.43 61.33C542.31 61.16 543.19 62.21 544.08 62.4C544.96 62.59 545.86 61.8 546.76 62.46C547.66 63.12 549.34 65.29 549.47 66.34C549.61 67.39 548.65 68.42 547.58 68.74C546.5 69.06 544.39 68.48 543.01 68.24C541.63 68.01 540.18 68.08 539.29 67.33C538.41 66.58 537.28 64.86 537.72 63.74C538.16 62.61 540.89 61.69 541.94 60.57C542.99 59.44 543.67 57.6 544.01 57.01" stroke="#8080e4" stroke-width="0.99"/>
<path d="M598.62 67.87C599.37 67.83 601.71 67.39 603.11 67.67C604.51 67.96 605.72 68.89 607.03 69.58C608.34 70.27 609.93 71.98 610.96 71.81C611.99 71.64 612.1 69.41 613.2 68.57C614.3 67.74 616.37 66.82 617.54 66.81C618.72 66.8 619.79 68.22 620.24 68.5" stroke="#6a6adc" stroke-width="0.93"/>
<path d="M559.67 46.08C559.91 46.6 560.74 48.08 561.14 49.18C561.54 50.27 561.33 51.59 562.06 52.68C562.8 53.76 564.94 54.62 565.57 55.68C566.21 56.74 565.59 57.82 565.87 59.03C566.14 60.24 567.62 61.72 567.2 62.95C566.79 64.18 564.02 65.83 563.38 66.4" stroke="#8080e4" stroke-width="0.93"/>
<path d="M592.56 31.8C592.85 32.46 593.37 35.05 594.3 35.72C595.23 36.4 597.93 35.24 598.14 35.85C598.36 36.45 596.51 38.35 595.61 39.33C594.71 40.31 593.22 41.32 592.74 41.72" stroke="#8a8ae6" stroke-width="1.01"/>
<path d="M551.5 44.92C551.6 44.52 551.85 43.39 552.12 42.49C552.4 41.59 552.96 40.01 553.13 39.51" stroke="#8a8ae6" stroke-width="1.29"/>
<path d="M555.84 69.18C555.82 69.98 555.83 72.63 555.7 74.01C555.56 75.38 554.57 76.7 555.04 77.42C555.5 78.15 557.9 78.19 558.48 78.35" stroke="#7676e0" stroke-width="1.17"/>
<path d="M604.29 62.45C604.89 62.43 606.52 62.58 607.84 62.33C609.17 62.08 611.07 61.81 612.24 60.93C613.41 60.06 613.8 57.65 614.86 57.11C615.93 56.56 618.44 57.01 618.64 57.67C618.84 58.33 617.27 60.5 616.09 61.07C614.91 61.64 612.33 61.09 611.58 61.09" stroke="#7676e0" stroke-width="1.36"/>
<path d="M567.44 66.02C567.87 65.6 569.73 64.52 569.97 63.52C570.2 62.52 569.32 60.97 568.87 60.02C568.42 59.08 568.37 58.56 567.27 57.86C566.18 57.16 562.97 56.68 562.29 55.84C561.6 55 563.01 53.31 563.16 52.81" stroke="#8080e4" stroke-width="0.91"/>
<path d="M571.04 51.88C571.28 52.27 571.74 53.1 572.49 54.23C573.24 55.36 574.83 57.51 575.52 58.64C576.2 59.78 576.92 60.25 576.6 61.03C576.28 61.82 574.67 63.59 573.6 63.34C572.53 63.09 571.29 59.81 570.2 59.55C569.1 59.28 568.31 61.13 567.03 61.75C565.76 62.36 563.29 63 562.55 63.25" stroke="#6c6cdc" stroke-width="1.04"/>
<path d="M548.11 67.28C547.03 67.72 542 70.49 541.64 69.93C541.28 69.37 545.25 64.93 545.97 63.93" stroke="#5656cc" stroke-width="3.02"/>
<path d="M548.11 67.28C547.03 67.72 542 70.49 541.64 69.93C541.28 69.37 545.25 64.93 545.97 63.93" stroke="#8a8ae6" stroke-width="2.42"/>
<path d="M580.32 69.54C580.87 68.89 582.32 66.78 583.64 65.62C584.96 64.46 587.47 63.09 588.24 62.58" stroke="#5656cc" stroke-width="3.17"/>
<path d="M580.32 69.54C580.87 68.89 582.32 66.78 583.64 65.62C584.96 64.46 587.47 63.09 588.24 62.58" stroke="#8080e4" stroke-width="2.57"/>
<path d="M605.14 53.43C606.06 52.86 610.35 49.46 610.65 50.04C610.96 50.62 607.59 55.76 606.98 56.9" stroke="#5050c8" stroke-width="3.22"/>
<path d="M605.14 53.43C606.06 52.86 610.35 49.46 610.65 50.04C610.96 50.62 607.59 55.76 606.98 56.9" stroke="#6262d8" stroke-width="2.62"/>
<path d="M566.37 66.72C566.84 65.54 568.52 61.68 569.21 59.6C569.91 57.52 569.98 55.96 570.55 54.25C571.13 52.53 572.32 50.12 572.67 49.29" stroke="#5656cc" stroke-width="3.65"/>
<path d="M566.37 66.72C566.84 65.54 568.52 61.68 569.21 59.6C569.91 57.52 569.98 55.96 570.55 54.25C571.13 52.53 572.32 50.12 572.67 49.29" stroke="#6c6cdc" stroke-width="3.05"/>
<path d="M607.15 46.93C606.06 46.78 602.7 46.27 600.64 46.03C598.59 45.79 595.8 45.59 594.83 45.51" stroke="#5050c8" stroke-width="4.18"/>
<path d="M607.15 46.93C606.06 46.78 602.7 46.27 600.64 46.03C598.59 45.79 595.8 45.59 594.83 45.51" stroke="#6c6cdc" stroke-width="3.58"/>
<path d="M583.67 43.32C583.88 44.49 584.28 48.12 584.93 50.3C585.58 52.48 587.12 55.4 587.56 56.42" stroke="#5656cc" stroke-width="2.85"/>
<path d="M583.67 43.32C583.88 44.49 584.28 48.12 584.93 50.3C585.58 52.48 587.12 55.4 587.56 56.42" stroke="#6262d8" stroke-width="2.25"/>
<path d="M596.29 60.5C595.13 59.91 591.52 58.15 589.33 56.99C587.15 55.82 584.94 54.54 583.18 53.49C581.41 52.44 579.49 51.17 578.75 50.7" stroke="#5050c8" stroke-width="3.97"/>
<path d="M596.29 60.5C595.13 59.91 591.52 58.15 589.33 56.99C587.15 55.82 584.94 54.54 583.18 53.49C581.41 52.44 579.49 51.17 578.75 50.7" stroke="#6c6cdc" stroke-width="3.37"/>
<path d="M603.8 57.08C604.9 56.82 610.53 55.3 610.41 55.54C610.29 55.78 604.31 58.03 603.09 58.53" stroke="#5656cc" stroke-width="2.99"/>
<path d="M603.8 57.08C604.9 56.82 610.53 55.3 610.41 55.54C610.29 55.78 604.31 58.03 603.09 58.53" stroke="#7676e0" stroke-width="2.39"/>
<path d="M599.61 60.68C598.59 60.43 595.65 59.25 593.46 59.16C591.28 59.07 587.65 59.99 586.49 60.15" stroke="#5050c8" stroke-width="3.77"/>
<path d="M599.61 60.68C598.59 60.43 595.65 59.25 593.46 59.16C591.28 59.07 587.65 59.99 586.49 60.15" stroke="#6262d8" stroke-width="3.17"/>
<path d="M593.02 60.41C592.98 61.43 592.77 66.78 592.79 66.56C592.82 66.33 593.1 60.29 593.17 59.04" stroke="#5050c8" stroke-width="3.02"/>
<path d="M593.02 60.41C592.98 61.43 592.77 66.78 592.79 66.56C592.82 66.33 593.1 60.29 593.17 59.04" stroke="#6c6cdc" stroke-width="2.42"/>
<path d="M547.82 81.72C548.4 81.06 550.17 79.52 551.29 77.75C552.41 75.97 554 72.19 554.54 71.08" stroke="#5656cc" stroke-width="3.04"/>
<path d="M547.82 81.72C548.4 81.06 550.17 79.52 551.29 77.75C552.41 75.97 554 72.19 554.54 71.08" stroke="#8080e4" stroke-width="2.44"/>
<path d="M568.39 51.76C567.96 50.91 567.01 48.36 565.84 46.64C564.67 44.93 562.11 42.33 561.37 41.47" stroke="#5050c8" stroke-width="3.81"/>
<path d="M568.39 51.76C567.96 50.91 567.01 48.36 565.84 46.64C564.67 44.93 562.11 42.33 561.37 41.47" stroke="#6a6adc" stroke-width="3.21"/>
<path d="M603.9 63.27C603.13 62.95 601.07 62.16 599.23 61.37C597.38 60.59 594.89 59.9 592.84 58.56C590.78 57.21 587.9 54.18 586.91 53.3" stroke="#5050c8" stroke-width="3.71"/>
<path d="M603.9 63.27C603.13 62.95 601.07 62.16 599.23 61.37C597.38 60.59 594.89 59.9 592.84 58.56C590.78 57.21 587.9 54.18 586.91 53.3" stroke="#6262d8" stroke-width="3.11"/>
<path d="M577.93 64.42C577.79 65.35 577.9 70.01 577.11 69.98C576.32 69.96 573.82 65.22 573.16 64.26" stroke="#5656cc" stroke-width="4.18"/>
<path d="M577.93 64.42C577.79 65.35 577.9 70.01 577.11 69.98C576.32 69.96 573.82 65.22 573.16 64.26" stroke="#8a8ae6" stroke-width="3.58"/>
<path d="M546.46 55.38C547.04 56.49 548.48 60.18 549.92 62.05C551.37 63.91 554.25 65.81 555.11 66.56" stroke="#5050c8" stroke-width="2.9"/>
<path d="M546.46 55.38C547.04 56.49 548.48 60.18 549.92 62.05C551.37 63.91 554.25 65.81 555.11 66.56" stroke="#6c6cdc" stroke-width="2.3"/>
<path d="M618.53 71.03C618.48 70.19 618 68.12 618.28 66C618.56 63.88 619.89 59.6 620.21 58.31" stroke="#5656cc" stroke-width="3.27"/>
<path d="M618.53 71.03C618.48 70.19 618 68.12 618.28 66C618.56 63.88 619.89 59.6 620.21 58.31" stroke="#8080e4" stroke-width="2.67"/>
<path d="M545.13 71.71C544.41 72.64 542.22 75.59 540.82 77.31C539.43 79.04 537.42 81.28 536.74 82.07" stroke="#5050c8" stroke-width="3.29"/>
<path d="M545.13 71.71C544.41 72.64 542.22 75.59 540.82 77.31C539.43 79.04 537.42 81.28 536.74 82.07" stroke="#8080e4" stroke-width="2.69"/>
<path d="M578.5 64.8C579.54 65.05 582.4 65.86 584.73 66.29C587.05 66.73 589.9 66.94 592.45 67.42C595 67.9 598.76 68.87 600.03 69.16" stroke="#5656cc" stroke-width="3.46"/>
<path d="M578.5 64.8C579.54 65.05 582.4 65.86 584.73 66.29C587.05 66.73 589.9 66.94 592.45 67.42C595 67.9 598.76 68.87 600.03 69.16" stroke="#6a6adc" stroke-width="2.86"/>
<path d="M582.89 46.34C583.92 46.9 587.06 48.64 589.05 49.71C591.04 50.78 593.86 52.26 594.82 52.77" stroke="#5656cc" stroke-width="4"/>
<path d="M582.89 46.34C583.92 46.9 587.06 48.64 589.05 49.71C591.04 50.78 593.86 52.26 594.82 52.77" stroke="#7676e0" stroke-width="3.4"/>
<path d="M574.88 55.71C573.77 55.78 570.51 55.66 568.19 56.1C565.88 56.55 562.17 58.02 560.97 58.4" stroke="#5050c8" stroke-width="3.56"/>
<path d="M574.88 55.71C573.77 55.78 570.51 55.66 568.19 56.1C565.88 56.55 562.17 58.02 560.97 58.4" stroke="#7676e0" stroke-width="2.96"/>
<path d="M585.26 59.99C584.41 60.02 581.95 60.18 580.17 60.16C578.38 60.14 576.67 59.78 574.56 59.89C572.44 59.99 568.65 60.65 567.46 60.8" stroke="#5656cc" stroke-width="3.09"/>
<path d="M585.26 59.99C584.41 60.02 581.95 60.18 580.17 60.16C578.38 60.14 576.67 59.78 574.56 59.89C572.44 59.99 568.65 60.65 567.46 60.8" stroke="#8080e4" stroke-width="2.49"/>
<path d="M558.5 33.81C559.64 34.32 563.28 36.16 565.32 36.87C567.37 37.58 568.9 37.46 570.76 38.06C572.62 38.66 575.53 40.06 576.48 40.46" stroke="#5050c8" stroke-width="3.89"/>
<path d="M558.5 33.81C559.64 34.32 563.28 36.16 565.32 36.87C567.37 37.58 568.9 37.46 570.76 38.06C572.62 38.66 575.53 40.06 576.48 40.46" stroke="#6c6cdc" stroke-width="3.29"/>
<path d="M559.16 34.18C559.75 34.94 561.74 37.13 562.66 38.73C563.58 40.34 564.36 42.97 564.71 43.82" stroke="#5656cc" stroke-width="3.48"/>
<path d="M559.16 34.18C559.75 34.94 561.74 37.13 562.66 38.73C563.58 40.34 564.36 42.97 564.71 43.82" stroke="#6a6adc" stroke-width="2.88"/>
<path d="M592.75 55.69C592.68 56.74 592.49 59.8 592.34 62.02C592.18 64.23 591.9 67.82 591.81 68.98" stroke="#5050c8" stroke-width="3.16"/>
<path d="M592.75 55.69C592.68 56.74 592.49 59.8 592.34 62.02C592.18 64.23 591.9 67.82 591.81 68.98" stroke="#7676e0" stroke-width="2.56"/>
<path d="M569.26 72.09C568.66 70.91 566.38 67.2 565.65 65.04C564.92 62.87 565.33 60.9 564.89 59.11C564.45 57.32 563.31 55.11 562.99 54.31" stroke="#5656cc" stroke-width="3.56"/>
<path d="M569.26 72.09C568.66 70.91 566.38 67.2 565.65 65.04C564.92 62.87 565.33 60.9 564.89 59.11C564.45 57.32 563.31 55.11 562.99 54.31" stroke="#6262d8" stroke-width="2.96"/>
<path d="M590.21 60.94C589.97 59.93 588.95 56.75 588.77 54.9C588.59 53.05 589.09 50.67 589.15 49.82" stroke="#5656cc" stroke-width="3.06"/>
<path d="M590.21 60.94C589.97 59.93 588.95 56.75 588.77 54.9C588.59 53.05 589.09 50.67 589.15 49.82" stroke="#8a8ae6" stroke-width="2.46"/>
<ellipse cx="604.86" cy="40.67" rx="1.6" ry="3.4" transform="rotate(231.42 604.86 40.67)" stroke="#5050c8" stroke-width="1.64"/>
<ellipse cx="602.53" cy="39.13" rx="1.6" ry="3.4" transform="rotate(231.42 602.53 39.13)" stroke="#5050c8" stroke-width="1.44"/>
<ellipse cx="600.19" cy="37.59" rx="1.6" ry="3.4" transform="rotate(231.42 600.19 37.59)" stroke="#5050c8" stroke-width="1.4"/>
<ellipse cx="597.91" cy="47.33" rx="1.6" ry="3.4" transform="rotate(100.15 597.91 47.33)" stroke="#5050c8" stroke-width="1.35"/>
<ellipse cx="598.29" cy="50.11" rx="1.6" ry="3.4" transform="rotate(100.15 598.29 50.11)" stroke="#5050c8" stroke-width="1.74"/>
<ellipse cx="598.68" cy="52.88" rx="1.6" ry="3.4" transform="rotate(100.15 598.68 52.88)" stroke="#5050c8" stroke-width="1.73"/>
<ellipse cx="585.76" cy="30.7" rx="1.6" ry="3.4" transform="rotate(286.42 585.76 30.7)" stroke="#3838c0" stroke-width="1.59"/>
<ellipse cx="585.68" cy="27.9" rx="1.6" ry="3.4" transform="rotate(286.42 585.68 27.9)" stroke="#3838c0" stroke-width="1.55"/>
<ellipse cx="585.6" cy="25.1" rx="1.6" ry="3.4" transform="rotate(286.42 585.6 25.1)" stroke="#3838c0" stroke-width="1.68"/>
<ellipse cx="601.39" cy="52.24" rx="1.6" ry="3.4" transform="rotate(355.3 601.39 52.24)" stroke="#5050c8" stroke-width="1.64"/>
<ellipse cx="603.97" cy="51.16" rx="1.6" ry="3.4" transform="rotate(355.3 603.97 51.16)" stroke="#5050c8" stroke-width="1.56"/>
<ellipse cx="606.56" cy="50.08" rx="1.6" ry="3.4" transform="rotate(355.3 606.56 50.08)" stroke="#5050c8" stroke-width="1.47"/>
<ellipse cx="609.14" cy="49" rx="1.6" ry="3.4" transform="rotate(355.3 609.14 49)" stroke="#5050c8" stroke-width="1.65"/>
<ellipse cx="611.72" cy="47.92" rx="1.6" ry="3.4" transform="rotate(355.3 611.72 47.92)" stroke="#5050c8" stroke-width="1.8"/>
<ellipse cx="592.49" cy="65.03" rx="1.6" ry="3.4" transform="rotate(39.91 592.49 65.03)" stroke="#5656cc" stroke-width="1.53"/>
<ellipse cx="595.08" cy="66.07" rx="1.6" ry="3.4" transform="rotate(39.91 595.08 66.07)" stroke="#5656cc" stroke-width="1.63"/>
<ellipse cx="597.68" cy="67.11" rx="1.6" ry="3.4" transform="rotate(39.91 597.68 67.11)" stroke="#5656cc" stroke-width="1.73"/>
<ellipse cx="556.17" cy="61.52" rx="1.6" ry="3.4" transform="rotate(50.8 556.17 61.52)" stroke="#3838c0" stroke-width="1.56"/>
<ellipse cx="558.53" cy="63.04" rx="1.6" ry="3.4" transform="rotate(50.8 558.53 63.04)" stroke="#3838c0" stroke-width="1.5"/>
<ellipse cx="560.88" cy="64.55" rx="1.6" ry="3.4" transform="rotate(50.8 560.88 64.55)" stroke="#3838c0" stroke-width="1.77"/>
<ellipse cx="563.24" cy="66.07" rx="1.6" ry="3.4" transform="rotate(50.8 563.24 66.07)" stroke="#3838c0" stroke-width="1.67"/>
<ellipse cx="589.12" cy="54.82" rx="1.6" ry="3.4" transform="rotate(188.34 589.12 54.82)" stroke="#3838c0" stroke-width="1.71"/>
<ellipse cx="586.36" cy="55.29" rx="1.6" ry="3.4" transform="rotate(188.34 586.36 55.29)" stroke="#3838c0" stroke-width="1.69"/>
<ellipse cx="583.6" cy="55.76" rx="1.6" ry="3.4" transform="rotate(188.34 583.6 55.76)" stroke="#3838c0" stroke-width="1.47"/>
<ellipse cx="575.74" cy="48.12" rx="1.6" ry="3.4" transform="rotate(326.25 575.74 48.12)" stroke="#3030b8" stroke-width="1.74"/>
<ellipse cx="577.47" cy="45.92" rx="1.6" ry="3.4" transform="rotate(326.25 577.47 45.92)" stroke="#3030b8" stroke-width="1.43"/>
<ellipse cx="579.21" cy="43.73" rx="1.6" ry="3.4" transform="rotate(326.25 579.21 43.73)" stroke="#3030b8" stroke-width="1.51"/>
<ellipse cx="574.65" cy="31.74" rx="1.6" ry="3.4" transform="rotate(353.16 574.65 31.74)" stroke="#5656cc" stroke-width="1.74"/>
<ellipse cx="577.19" cy="30.57" rx="1.6" ry="3.4" transform="rotate(353.16 577.19 30.57)" stroke="#5656cc" stroke-width="1.75"/>
<ellipse cx="579.73" cy="29.39" rx="1.6" ry="3.4" transform="rotate(353.16 579.73 29.39)" stroke="#5656cc" stroke-width="1.56"/>
<ellipse cx="582.27" cy="28.22" rx="1.6" ry="3.4" transform="rotate(353.16 582.27 28.22)" stroke="#5656cc" stroke-width="1.76"/>
<ellipse cx="564.62" cy="36.11" rx="1.6" ry="3.4" transform="rotate(335.46 564.62 36.11)" stroke="#3030b8" stroke-width="1.6"/>
<ellipse cx="566.68" cy="34.22" rx="1.6" ry="3.4" transform="rotate(335.46 566.68 34.22)" stroke="#3030b8" stroke-width="1.75"/>
<ellipse cx="568.74" cy="32.32" rx="1.6" ry="3.4" transform="rotate(335.46 568.74 32.32)" stroke="#3030b8" stroke-width="1.56"/>
<ellipse cx="570.81" cy="30.43" rx="1.6" ry="3.4" transform="rotate(335.46 570.81 30.43)" stroke="#3030b8" stroke-width="1.57"/>
<ellipse cx="572.87" cy="28.54" rx="1.6" ry="3.4" transform="rotate(335.46 572.87 28.54)" stroke="#3030b8" stroke-width="1.52"/>
<ellipse cx="575.81" cy="39.68" rx="1.6" ry="3.4" transform="rotate(97.63 575.81 39.68)" stroke="#5656cc" stroke-width="1.57"/>
<ellipse cx="576.32" cy="42.43" rx="1.6" ry="3.4" transform="rotate(97.63 576.32 42.43)" stroke="#5656cc" stroke-width="1.45"/>
<ellipse cx="576.82" cy="45.19" rx="1.6" ry="3.4" transform="rotate(97.63 576.82 45.19)" stroke="#5656cc" stroke-width="1.66"/></g>
<g clip-path="url(#crc)"><path d="M589.45 78.68C588.68 78.91 586.07 79.47 584.83 80.07C583.59 80.67 582.19 81.49 581.99 82.28C581.8 83.07 583.84 83.89 583.68 84.81C583.52 85.73 581.84 86.68 581.05 87.79C580.25 88.91 578.94 90.49 578.9 91.48C578.86 92.47 580.76 92.68 580.81 93.73C580.85 94.79 579.3 96.29 579.16 97.81C579.03 99.33 579.84 101.99 579.98 102.83" stroke="#de6060" stroke-width="1.11"/>
<path d="M623.05 109.61C623.32 109.23 624.77 108.21 624.67 107.35C624.58 106.49 623.17 105.53 622.48 104.44C621.8 103.35 621.44 101.45 620.57 100.81C619.7 100.17 618.06 101.04 617.26 100.6C616.45 100.15 615.75 99.08 615.75 98.13C615.75 97.18 617.03 95.41 617.28 94.87" stroke="#e87272" stroke-width="1.03"/>
<path d="M614.84 112.25C614.1 112.53 611.86 114.01 610.41 113.89C608.96 113.77 607.22 112.67 606.14 111.56C605.07 110.44 604.96 108.45 603.93 107.19C602.91 105.94 600.51 104.96 599.97 104.02C599.44 103.08 599.92 102.11 600.72 101.56C601.52 101.02 603.63 101.13 604.77 100.76C605.9 100.39 607.06 99.57 607.52 99.34" stroke="#de6060" stroke-width="0.96"/>
<path d="M589.26 96.61C588.87 96.05 588.06 93.71 586.93 93.25C585.8 92.79 583.82 93.76 582.49 93.84C581.16 93.93 579.98 93.76 578.97 93.76C577.96 93.76 577.68 94.13 576.45 93.83C575.21 93.53 572.44 93.02 571.58 91.97C570.73 90.91 571.38 88.26 571.34 87.52" stroke="#ee8484" stroke-width="1.31"/>
<path d="M605.32 95.4C605.77 94.89 607.05 93.25 608 92.34C608.94 91.42 610.22 90.78 610.99 89.91C611.75 89.05 612.45 88.16 612.6 87.13C612.75 86.11 612.01 84.31 611.89 83.75" stroke="#e87272" stroke-width="1.08"/>
<path d="M661.94 68.7C661.91 67.9 661.35 65.08 661.77 63.88C662.19 62.69 664.12 61.12 664.48 61.52C664.83 61.92 664.27 64.99 663.88 66.27C663.49 67.54 663.17 68.14 662.13 69.14C661.09 70.14 658.84 71.31 657.63 72.27C656.42 73.22 655.33 74.44 654.87 74.88" stroke="#e46a6a" stroke-width="1.03"/>
<path d="M624.89 65.12C625.27 65.55 626.07 66.89 627.18 67.65C628.29 68.41 630.77 68.86 631.55 69.67C632.34 70.49 631.74 71.27 631.88 72.55C632.03 73.82 631.79 76.09 632.42 77.33C633.05 78.58 634.83 79.89 635.69 80.01C636.54 80.14 637.24 78.4 637.55 78.08" stroke="#ec7c7c" stroke-width="1.31"/>
<path d="M562.54 82.34C563.1 81.77 565.45 78.99 565.91 78.91C566.38 78.83 564.64 81.15 565.34 81.86C566.04 82.57 568.99 83.64 570.13 83.19C571.27 82.74 571.55 80.39 572.18 79.17C572.8 77.95 573.61 76.41 573.9 75.85" stroke="#e26666" stroke-width="1.37"/>
<path d="M580.64 104.26C580.5 103.79 579.4 102.66 579.79 101.45C580.17 100.24 581.98 97.49 582.96 97C583.94 96.51 584.85 98.49 585.65 98.51C586.44 98.53 587.49 97.91 587.75 97.1C588 96.29 586.53 94.51 587.18 93.66C587.83 92.81 590.75 92.88 591.65 92.01C592.55 91.14 592.24 89.49 592.59 88.44C592.94 87.39 593.57 86.16 593.76 85.71" stroke="#e46a6a" stroke-width="0.98"/>
<path d="M598.27 94.9C597.97 95.52 597.39 97.95 596.47 98.65C595.55 99.35 593.76 99.84 592.77 99.1C591.77 98.36 591.53 95.35 590.52 94.22C589.52 93.09 587.23 93.17 586.75 92.3C586.27 91.43 586.85 89.44 587.65 89.01C588.46 88.57 590.58 89.28 591.6 89.69C592.61 90.1 592.7 90.89 593.75 91.46C594.81 92.02 596.44 93.25 597.92 93.08C599.4 92.91 601.37 91.38 602.63 90.42C603.89 89.47 605.01 87.86 605.49 87.34" stroke="#e87272" stroke-width="1.06"/>
<path d="M634.85 100.34C634.4 99.81 633.5 97.71 632.15 97.19C630.8 96.67 628.21 97.39 626.75 97.19C625.29 96.98 624.55 96.1 623.38 95.97C622.2 95.83 620.64 96.72 619.7 96.38C618.77 96.05 618.6 94.53 617.77 93.95C616.94 93.36 615.23 93.06 614.73 92.88" stroke="#e87272" stroke-width="1.34"/>
<path d="M581.03 87.76C580.3 88 578.01 88.33 576.64 89.19C575.27 90.04 573.89 92.64 572.8 92.89C571.71 93.13 569.88 91.41 570.11 90.64C570.35 89.87 572.98 89.37 574.21 88.25C575.45 87.13 576.45 84.95 577.51 83.91C578.57 82.87 579.73 82.79 580.56 82.02C581.39 81.25 582.17 79.75 582.49 79.3" stroke="#e46a6a" stroke-width="1.33"/>
<path d="M601.87 101.73C601.41 102.07 600.33 103.35 599.13 103.75C597.93 104.15 596.27 104.01 594.67 104.13C593.06 104.24 590.56 105.27 589.53 104.45C588.49 103.63 588.62 100.09 588.44 99.22" stroke="#e26666" stroke-width="1.31"/>
<path d="M610.3 66.84C609.82 66.78 608.06 66.13 607.39 66.5C606.71 66.87 606.87 68.78 606.26 69.05C605.65 69.33 604.86 68.03 603.71 68.15C602.57 68.27 601 69.66 599.38 69.78C597.76 69.9 594.9 69.01 594.01 68.86" stroke="#e26666" stroke-width="0.98"/>
<path d="M656.91 70.11C656.15 69.89 653.35 69.5 652.34 68.74C651.33 67.98 650.72 66.42 650.82 65.55C650.92 64.68 651.88 64.45 652.92 63.53C653.96 62.6 656.36 60.58 657.05 59.99" stroke="#e26666" stroke-width="1.06"/>
<path d="M610.53 90.97C610.35 91.75 609.17 94.24 609.42 95.62C609.67 97 611.79 97.87 612.02 99.24C612.26 100.6 610.57 102.53 610.81 103.82C611.06 105.11 612.31 106.95 613.51 106.97C614.71 106.99 616.72 104.53 618 103.95C619.28 103.37 620.67 103.55 621.2 103.47" stroke="#e26666" stroke-width="1.31"/>
<path d="M620.56 91.4C620.7 90.67 621.08 88.39 621.43 87.01C621.78 85.64 622.74 84.12 622.66 83.16C622.57 82.19 620.83 82.37 620.91 81.23C621 80.09 622.3 77.2 623.18 76.3C624.06 75.41 625.7 75.92 626.21 75.84" stroke="#ee8484" stroke-width="1.34"/>
<path d="M641.98 93.64C642.24 92.92 643.67 90.5 643.55 89.33C643.43 88.16 641.61 87.6 641.24 86.63C640.87 85.66 641.31 84.04 641.32 83.52" stroke="#e87272" stroke-width="1.34"/>
<path d="M579.01 78.14C578.58 78.29 577.13 78.52 576.44 79.02C575.75 79.52 575.61 80.68 574.88 81.14C574.16 81.6 573.01 81.51 572.08 81.76C571.16 82.02 569.78 82.51 569.32 82.66" stroke="#ee8484" stroke-width="1.12"/>
<path d="M615.87 84.56C615.14 84.36 612.94 83.87 611.52 83.39C610.09 82.91 608.04 82.49 607.31 81.68C606.58 80.88 606.46 79.36 607.14 78.57C607.82 77.78 609.92 76.79 611.4 76.94C612.88 77.09 615.27 79.06 616.04 79.49" stroke="#ee8484" stroke-width="1.25"/>
<path d="M606.96 106.65C606.77 105.84 606.16 103.2 605.86 101.76C605.56 100.32 605.8 99.33 605.15 98.02C604.5 96.72 602.91 95.36 601.97 93.92C601.03 92.48 600.72 90.01 599.5 89.39C598.27 88.78 596.13 90.35 594.6 90.23C593.08 90.11 591.07 88.92 590.36 88.66" stroke="#e46a6a" stroke-width="1.01"/>
<path d="M601.49 92.17C601.38 92.74 600.44 94.52 600.82 95.59C601.21 96.67 603.41 97.22 603.81 98.62C604.22 100.03 604.05 102.95 603.26 104.02C602.47 105.1 600.06 104.26 599.07 105.07C598.08 105.87 597.13 107.5 597.29 108.85C597.45 110.19 599.58 112.4 600.04 113.12" stroke="#de6060" stroke-width="1.34"/>
<path d="M612.55 113.75C611.97 113.73 610.51 113.54 609.05 113.61C607.59 113.69 605.3 114.2 603.79 114.19C602.29 114.18 601.03 114.49 600.05 113.58C599.07 112.67 597.96 109.84 597.92 108.74C597.89 107.65 598.72 107.16 599.83 107.02C600.94 106.87 603.26 107.17 604.58 107.89C605.91 108.6 607.11 110.23 607.79 111.3C608.46 112.37 608.5 113.8 608.64 114.3" stroke="#ee8484" stroke-width="1.3"/>
<path d="M586.15 88.86C586.16 89.32 585.46 91.03 586.23 91.67C587 92.31 589.78 92.05 590.79 92.68C591.79 93.32 591.66 94.2 592.25 95.5C592.83 96.8 594.13 99.22 594.3 100.5C594.47 101.77 593.45 102.72 593.28 103.17" stroke="#ec7c7c" stroke-width="1.3"/>
<path d="M576.88 85.32C576.78 84.6 576.77 82.1 576.27 81.01C575.76 79.91 574.32 79.75 573.86 78.74C573.4 77.73 572.78 75.71 573.51 74.93C574.23 74.15 576.97 73.84 578.23 74.07C579.49 74.31 580.55 75.25 581.06 76.36C581.58 77.47 581.83 79.59 581.35 80.73C580.87 81.87 578.7 82.79 578.17 83.2" stroke="#de6060" stroke-width="1.04"/>
<path d="M606.26 70.08C605.71 69.53 604.26 67.09 602.99 66.78C601.71 66.46 599.53 67.17 598.61 68.21C597.69 69.24 597.86 71.85 597.45 73C597.03 74.16 596.98 75.12 596.13 75.15C595.27 75.18 593.29 73.26 592.31 73.2C591.32 73.13 591.17 74.07 590.22 74.77C589.27 75.47 587.22 76.96 586.62 77.4" stroke="#e46a6a" stroke-width="1.18"/>
<path d="M615.41 70.05C614.71 70.18 612.72 71.08 611.2 70.81C609.68 70.54 607.43 69.32 606.29 68.44C605.15 67.55 604.32 65.61 604.36 65.49C604.41 65.36 606.09 66.52 606.55 67.67C607.02 68.83 607.05 71.61 607.14 72.4" stroke="#e26666" stroke-width="1.36"/>
<path d="M594.88 90.97C594.47 91.28 593.28 92.96 592.45 92.83C591.62 92.71 590.63 91.39 589.88 90.24C589.13 89.08 588.74 87.25 587.95 85.9C587.15 84.56 586.14 82.84 585.1 82.17C584.06 81.5 582.5 82.53 581.71 81.91C580.92 81.29 579.97 79.33 580.35 78.43C580.73 77.53 583.37 76.81 583.98 76.49" stroke="#e26666" stroke-width="1.09"/>
<path d="M610.84 95.18C610.54 94.85 610.12 93.18 609.07 93.17C608.02 93.16 605.78 94.19 604.53 95.11C603.29 96.02 602.6 98.14 601.62 98.65C600.65 99.17 599.46 97.78 598.67 98.18C597.89 98.58 597.79 100.85 596.91 101.07C596.04 101.28 594 99.71 593.42 99.44" stroke="#de6060" stroke-width="1.08"/>
<path d="M590.8 93.95C591.24 93.96 592.75 93.6 593.41 94.05C594.08 94.51 594.43 95.73 594.79 96.67C595.16 97.61 595.26 98.46 595.61 99.69C595.97 100.93 595.97 103.04 596.93 104.09C597.89 105.14 600.22 105.4 601.37 106.01C602.52 106.61 602.93 106.78 603.81 107.73C604.69 108.68 606.44 110.68 606.64 111.71C606.83 112.74 605.26 113.54 604.99 113.9" stroke="#ee8484" stroke-width="1.29"/>
<path d="M613.07 90.53C613.04 90.96 612.79 92.26 612.89 93.13C612.99 94 613.59 94.81 613.67 95.77C613.74 96.73 613.71 97.92 613.35 98.87C612.99 99.83 612.31 100.84 611.5 101.52C610.68 102.2 608.97 102.72 608.47 102.96" stroke="#ec7c7c" stroke-width="1.27"/>
<path d="M592.39 73.78C592.64 73.07 593.25 69.49 593.88 69.52C594.52 69.56 595.08 73.46 596.23 74C597.37 74.55 599.45 72.49 600.76 72.78C602.07 73.07 602.78 75.1 604.11 75.73C605.44 76.36 607.89 75.73 608.76 76.56C609.62 77.39 609.37 79.31 609.29 80.7C609.21 82.08 608.44 84.18 608.28 84.88" stroke="#e46a6a" stroke-width="1.23"/>
<path d="M612.29 65.33C611.63 65.16 609.61 64.18 608.34 64.3C607.07 64.41 605.78 65.11 604.66 66.01C603.55 66.91 602.31 68.29 601.65 69.72C600.99 71.16 600.6 73.42 600.69 74.65C600.79 75.88 601.67 76.25 602.23 77.09C602.79 77.93 604.08 78.8 604.04 79.69C604 80.59 602.35 82 602.01 82.46" stroke="#e46a6a" stroke-width="1.14"/>
<path d="M584.59 93.87C585.05 93.51 586.64 92.51 587.31 91.75C587.98 90.98 588.05 89.98 588.61 89.27C589.17 88.56 589.66 87.94 590.67 87.5C591.69 87.07 593.54 87.38 594.69 86.67C595.83 85.96 596.62 83.93 597.53 83.25C598.44 82.57 599.23 81.98 600.14 82.58C601.04 83.18 602.49 86.14 602.96 86.86" stroke="#e87272" stroke-width="1.36"/>
<path d="M606.32 110.94C606.33 110.21 606.44 107.74 606.37 106.55C606.3 105.35 605.92 104.82 605.9 103.77C605.88 102.71 606.48 101.38 606.27 100.21C606.05 99.03 604.88 97.31 604.6 96.73" stroke="#e26666" stroke-width="1.29"/>
<path d="M650.2 66.69C650.52 67.21 652.02 68.82 652.12 69.8C652.22 70.78 651.33 71.71 650.8 72.57C650.26 73.43 650.04 74.57 648.91 74.97C647.79 75.38 645.57 74.81 644.06 74.98C642.54 75.15 640.77 76.4 639.81 76C638.86 75.6 639.2 73.16 638.34 72.58C637.48 72 635.83 72.52 634.68 72.49C633.53 72.47 631.98 72.46 631.44 72.45" stroke="#ee8484" stroke-width="1.36"/>
<path d="M640.01 95.2C639.19 94.59 637.11 92.57 635.11 91.52C633.1 90.47 629.16 89.35 627.97 88.92" stroke="#d04848" stroke-width="3.49"/>
<path d="M640.01 95.2C639.19 94.59 637.11 92.57 635.11 91.52C633.1 90.47 629.16 89.35 627.97 88.92" stroke="#ec7c7c" stroke-width="2.89"/>
<path d="M660.86 71.96C660.07 72.31 657.98 73.3 656.1 74.09C654.22 74.87 651.82 75.62 649.56 76.68C647.31 77.73 643.72 79.78 642.55 80.4" stroke="#d04848" stroke-width="3.45"/>
<path d="M660.86 71.96C660.07 72.31 657.98 73.3 656.1 74.09C654.22 74.87 651.82 75.62 649.56 76.68C647.31 77.73 643.72 79.78 642.55 80.4" stroke="#ec7c7c" stroke-width="2.85"/>
<path d="M648.21 75.66C647.62 76.56 645.67 79.41 644.68 81.05C643.68 82.69 642.65 84.74 642.25 85.48" stroke="#d44c4c" stroke-width="4.17"/>
<path d="M648.21 75.66C647.62 76.56 645.67 79.41 644.68 81.05C643.68 82.69 642.65 84.74 642.25 85.48" stroke="#e26666" stroke-width="3.57"/>
<path d="M601.2 78.01C600.86 76.77 598.92 70.8 599.17 70.55C599.42 70.31 602.11 75.53 602.69 76.53" stroke="#d04848" stroke-width="3.88"/>
<path d="M601.2 78.01C600.86 76.77 598.92 70.8 599.17 70.55C599.42 70.31 602.11 75.53 602.69 76.53" stroke="#ee8484" stroke-width="3.28"/>
<path d="M622.23 64.48C621.43 64.88 619.05 66.16 617.42 66.86C615.79 67.57 614.55 68.33 612.47 68.69C610.4 69.05 606.22 68.96 604.97 69.02" stroke="#d04848" stroke-width="3.47"/>
<path d="M622.23 64.48C621.43 64.88 619.05 66.16 617.42 66.86C615.79 67.57 614.55 68.33 612.47 68.69C610.4 69.05 606.22 68.96 604.97 69.02" stroke="#e26666" stroke-width="2.87"/>
<path d="M639.41 84.4C638.32 85.06 634.61 87.07 632.9 88.35C631.2 89.62 629.81 91.44 629.2 92.06" stroke="#d04848" stroke-width="3.16"/>
<path d="M639.41 84.4C638.32 85.06 634.61 87.07 632.9 88.35C631.2 89.62 629.81 91.44 629.2 92.06" stroke="#e26666" stroke-width="2.56"/>
<path d="M602.1 76.13C601.94 75.02 600.66 70.04 601.12 69.49C601.58 68.94 604.23 72.27 604.86 72.83" stroke="#d44c4c" stroke-width="3.27"/>
<path d="M602.1 76.13C601.94 75.02 600.66 70.04 601.12 69.49C601.58 68.94 604.23 72.27 604.86 72.83" stroke="#e26666" stroke-width="2.67"/>
<path d="M605.75 85.8C606.66 86.67 609.63 89.26 611.2 91.06C612.77 92.86 613.75 95.07 615.18 96.6C616.61 98.12 619.02 99.61 619.79 100.21" stroke="#d44c4c" stroke-width="4.08"/>
<path d="M605.75 85.8C606.66 86.67 609.63 89.26 611.2 91.06C612.77 92.86 613.75 95.07 615.18 96.6C616.61 98.12 619.02 99.61 619.79 100.21" stroke="#e46a6a" stroke-width="3.48"/>
<path d="M628.6 75.27C627.77 75.75 625.17 76.91 623.6 78.13C622.03 79.36 620.44 81.15 619.19 82.61C617.93 84.08 616.59 86.21 616.07 86.93" stroke="#d04848" stroke-width="3.24"/>
<path d="M628.6 75.27C627.77 75.75 625.17 76.91 623.6 78.13C622.03 79.36 620.44 81.15 619.19 82.61C617.93 84.08 616.59 86.21 616.07 86.93" stroke="#ec7c7c" stroke-width="2.64"/>
<path d="M593.5 109.17C593.04 108.31 591.68 106 590.75 104.01C589.82 102.03 588.93 99.19 587.95 97.27C586.98 95.35 585.41 93.3 584.9 92.5" stroke="#d04848" stroke-width="3.59"/>
<path d="M593.5 109.17C593.04 108.31 591.68 106 590.75 104.01C589.82 102.03 588.93 99.19 587.95 97.27C586.98 95.35 585.41 93.3 584.9 92.5" stroke="#de6060" stroke-width="2.99"/>
<path d="M646.54 84.74C645.58 85.09 642.65 85.75 640.76 86.8C638.86 87.85 636.1 90.34 635.17 91.04" stroke="#d04848" stroke-width="3.89"/>
<path d="M646.54 84.74C645.58 85.09 642.65 85.75 640.76 86.8C638.86 87.85 636.1 90.34 635.17 91.04" stroke="#e46a6a" stroke-width="3.29"/>
<path d="M629.87 78.23C628.84 79.03 625.48 81.32 623.73 83.02C621.98 84.71 621.12 86.88 619.35 88.41C617.58 89.93 614.14 91.54 613.1 92.17" stroke="#d44c4c" stroke-width="3.44"/>
<path d="M629.87 78.23C628.84 79.03 625.48 81.32 623.73 83.02C621.98 84.71 621.12 86.88 619.35 88.41C617.58 89.93 614.14 91.54 613.1 92.17" stroke="#ec7c7c" stroke-width="2.84"/>
<path d="M584.76 86.95C584.25 87.76 582.55 90.16 581.73 91.8C580.91 93.44 580.14 95.97 579.82 96.8" stroke="#d44c4c" stroke-width="3.81"/>
<path d="M584.76 86.95C584.25 87.76 582.55 90.16 581.73 91.8C580.91 93.44 580.14 95.97 579.82 96.8" stroke="#ec7c7c" stroke-width="3.21"/>
<path d="M581.43 102.22C582.57 102.1 585.88 101.33 588.31 101.53C590.74 101.72 594.74 103.08 596.03 103.39" stroke="#d04848" stroke-width="3.34"/>
<path d="M581.43 102.22C582.57 102.1 585.88 101.33 588.31 101.53C590.74 101.72 594.74 103.08 596.03 103.39" stroke="#de6060" stroke-width="2.74"/>
<path d="M618.8 81.18C619.71 82.14 622.87 85.01 624.26 86.95C625.65 88.9 626.66 91.86 627.14 92.84" stroke="#d04848" stroke-width="3.96"/>
<path d="M618.8 81.18C619.71 82.14 622.87 85.01 624.26 86.95C625.65 88.9 626.66 91.86 627.14 92.84" stroke="#e87272" stroke-width="3.36"/>
<path d="M619.34 62.41C620.24 62.09 622.96 60.9 624.71 60.44C626.46 59.99 628.98 59.81 629.83 59.69" stroke="#d04848" stroke-width="3.75"/>
<path d="M619.34 62.41C620.24 62.09 622.96 60.9 624.71 60.44C626.46 59.99 628.98 59.81 629.83 59.69" stroke="#ec7c7c" stroke-width="3.15"/>
<path d="M597.42 94.84C596.66 95.3 594.88 96.83 592.88 97.58C590.88 98.34 587.85 98.54 585.44 99.37C583.03 100.19 579.6 102 578.43 102.52" stroke="#d04848" stroke-width="3.63"/>
<path d="M597.42 94.84C596.66 95.3 594.88 96.83 592.88 97.58C590.88 98.34 587.85 98.54 585.44 99.37C583.03 100.19 579.6 102 578.43 102.52" stroke="#e46a6a" stroke-width="3.03"/>
<path d="M661.39 59.54C661 60.4 659.77 62.69 659.06 64.67C658.35 66.65 657.44 70.28 657.12 71.4" stroke="#d44c4c" stroke-width="3"/>
<path d="M661.39 59.54C661 60.4 659.77 62.69 659.06 64.67C658.35 66.65 657.44 70.28 657.12 71.4" stroke="#ee8484" stroke-width="2.4"/>
<path d="M637.18 70.37C636.83 71.6 635.47 75.51 635.08 77.77C634.68 80.03 634.82 81.91 634.8 83.93C634.79 85.95 634.96 88.89 634.99 89.88" stroke="#d44c4c" stroke-width="3.79"/>
<path d="M637.18 70.37C636.83 71.6 635.47 75.51 635.08 77.77C634.68 80.03 634.82 81.91 634.8 83.93C634.79 85.95 634.96 88.89 634.99 89.88" stroke="#ee8484" stroke-width="3.19"/>
<path d="M644.78 78.45C645.23 77.72 646.51 75.54 647.51 74.06C648.51 72.58 649.96 71.21 650.76 69.59C651.56 67.96 652.06 65.18 652.32 64.3" stroke="#d44c4c" stroke-width="3.36"/>
<path d="M644.78 78.45C645.23 77.72 646.51 75.54 647.51 74.06C648.51 72.58 649.96 71.21 650.76 69.59C651.56 67.96 652.06 65.18 652.32 64.3" stroke="#e26666" stroke-width="2.76"/>
<path d="M600.61 112.49C601.57 111.97 604.17 110.29 606.38 109.38C608.6 108.47 611.87 107.89 613.91 107.03C615.96 106.17 617.86 104.71 618.65 104.25" stroke="#d44c4c" stroke-width="3.51"/>
<path d="M600.61 112.49C601.57 111.97 604.17 110.29 606.38 109.38C608.6 108.47 611.87 107.89 613.91 107.03C615.96 106.17 617.86 104.71 618.65 104.25" stroke="#e87272" stroke-width="2.91"/>
<path d="M635.38 60.49C636.58 60.55 640.11 60.78 642.54 60.8C644.97 60.83 648.72 60.68 649.96 60.65" stroke="#d44c4c" stroke-width="3.4"/>
<path d="M635.38 60.49C636.58 60.55 640.11 60.78 642.54 60.8C644.97 60.83 648.72 60.68 649.96 60.65" stroke="#ee8484" stroke-width="2.8"/>
<path d="M651.86 72.41C651.9 71.41 652.12 68.27 652.09 66.39C652.07 64.52 651.76 62.02 651.7 61.15" stroke="#d44c4c" stroke-width="3.18"/>
<path d="M651.86 72.41C651.9 71.41 652.12 68.27 652.09 66.39C652.07 64.52 651.76 62.02 651.7 61.15" stroke="#ee8484" stroke-width="2.58"/>
<path d="M590.53 99.83C591.68 100.3 595.49 101.64 597.44 102.65C599.38 103.65 601.4 105.32 602.19 105.86" stroke="#d04848" stroke-width="2.88"/>
<path d="M590.53 99.83C591.68 100.3 595.49 101.64 597.44 102.65C599.38 103.65 601.4 105.32 602.19 105.86" stroke="#e26666" stroke-width="2.28"/>
<path d="M640.66 63.99C640.93 65.17 641.68 69.04 642.29 71.03C642.89 73.03 643.8 73.93 644.29 75.97C644.77 78.02 645.04 82.08 645.19 83.3" stroke="#d04848" stroke-width="3.28"/>
<path d="M640.66 63.99C640.93 65.17 641.68 69.04 642.29 71.03C642.89 73.03 643.8 73.93 644.29 75.97C644.77 78.02 645.04 82.08 645.19 83.3" stroke="#e46a6a" stroke-width="2.68"/>
<path d="M645.48 72.58C644.52 73.4 641.72 76.16 639.77 77.51C637.81 78.87 635.94 79.78 633.73 80.71C631.52 81.64 627.71 82.7 626.5 83.1" stroke="#d04848" stroke-width="3.92"/>
<path d="M645.48 72.58C644.52 73.4 641.72 76.16 639.77 77.51C637.81 78.87 635.94 79.78 633.73 80.71C631.52 81.64 627.71 82.7 626.5 83.1" stroke="#ec7c7c" stroke-width="3.32"/>
<path d="M584.65 81.59C585.56 81.73 588.05 81.86 590.15 82.43C592.25 83 595.12 84.56 597.24 85.02C599.35 85.48 601.91 85.17 602.84 85.2" stroke="#d04848" stroke-width="4.02"/>
<path d="M584.65 81.59C585.56 81.73 588.05 81.86 590.15 82.43C592.25 83 595.12 84.56 597.24 85.02C599.35 85.48 601.91 85.17 602.84 85.2" stroke="#e87272" stroke-width="3.42"/>
<path d="M612.45 114.51C612.41 113.34 611.97 109.63 612.18 107.46C612.39 105.29 613.46 102.48 613.72 101.48" stroke="#d04848" stroke-width="3.47"/>
<path d="M612.45 114.51C612.41 113.34 611.97 109.63 612.18 107.46C612.39 105.29 613.46 102.48 613.72 101.48" stroke="#ee8484" stroke-width="2.87"/>
<path d="M598.6 106.62C598.49 105.69 598.58 103.14 597.98 101.05C597.38 98.95 595.49 95.2 595 94.03" stroke="#d44c4c" stroke-width="3.52"/>
<path d="M598.6 106.62C598.49 105.69 598.58 103.14 597.98 101.05C597.38 98.95 595.49 95.2 595 94.03" stroke="#e26666" stroke-width="2.92"/>
<path d="M583.81 99.03C584.2 98.14 585.06 95.42 586.13 93.64C587.2 91.87 589.56 89.26 590.24 88.38" stroke="#d44c4c" stroke-width="3.64"/>
<path d="M583.81 99.03C584.2 98.14 585.06 95.42 586.13 93.64C587.2 91.87 589.56 89.26 590.24 88.38" stroke="#e26666" stroke-width="3.04"/>
<path d="M655.9 74.22C655.35 73.16 653.62 70.07 652.58 67.9C651.54 65.73 650.15 62.3 649.67 61.18" stroke="#d44c4c" stroke-width="2.98"/>
<path d="M655.9 74.22C655.35 73.16 653.62 70.07 652.58 67.9C651.54 65.73 650.15 62.3 649.67 61.18" stroke="#ec7c7c" stroke-width="2.38"/>
<path d="M571.09 92C570.46 91.07 568.88 88.29 567.33 86.43C565.78 84.56 562.73 81.74 561.81 80.8" stroke="#d04848" stroke-width="3.73"/>
<path d="M571.09 92C570.46 91.07 568.88 88.29 567.33 86.43C565.78 84.56 562.73 81.74 561.81 80.8" stroke="#e46a6a" stroke-width="3.13"/>
<path d="M609.86 96.16C610.45 97.11 611.95 99.91 613.4 101.85C614.86 103.79 617.74 106.8 618.61 107.79" stroke="#d04848" stroke-width="3.35"/>
<path d="M609.86 96.16C610.45 97.11 611.95 99.91 613.4 101.85C614.86 103.79 617.74 106.8 618.61 107.79" stroke="#de6060" stroke-width="2.75"/>
<path d="M643.98 68.6C644.88 67.93 647.75 65.69 649.38 64.6C651.01 63.52 652.37 63.06 653.79 62.07C655.21 61.07 657.21 59.19 657.89 58.62" stroke="#d04848" stroke-width="2.89"/>
<path d="M643.98 68.6C644.88 67.93 647.75 65.69 649.38 64.6C651.01 63.52 652.37 63.06 653.79 62.07C655.21 61.07 657.21 59.19 657.89 58.62" stroke="#e87272" stroke-width="2.29"/>
<path d="M612.99 67.2C613.26 68.08 613.89 70.41 614.61 72.49C615.32 74.57 616.84 78.48 617.29 79.68" stroke="#d44c4c" stroke-width="2.9"/>
<path d="M612.99 67.2C613.26 68.08 613.89 70.41 614.61 72.49C615.32 74.57 616.84 78.48 617.29 79.68" stroke="#e87272" stroke-width="2.3"/>
<ellipse cx="638.84" cy="76.78" rx="1.6" ry="3.4" transform="rotate(211.9 638.84 76.78)" stroke="#c83a3a" stroke-width="1.41"/>
<ellipse cx="636.12" cy="76.1" rx="1.6" ry="3.4" transform="rotate(211.9 636.12 76.1)" stroke="#c83a3a" stroke-width="1.53"/>
<ellipse cx="633.41" cy="75.43" rx="1.6" ry="3.4" transform="rotate(211.9 633.41 75.43)" stroke="#c83a3a" stroke-width="1.48"/>
<ellipse cx="592.5" cy="112.11" rx="1.6" ry="3.4" transform="rotate(37.7 592.5 112.11)" stroke="#c83a3a" stroke-width="1.67"/>
<ellipse cx="595.13" cy="113.06" rx="1.6" ry="3.4" transform="rotate(37.7 595.13 113.06)" stroke="#c83a3a" stroke-width="1.3"/>
<ellipse cx="597.77" cy="114" rx="1.6" ry="3.4" transform="rotate(37.7 597.77 114)" stroke="#c83a3a" stroke-width="1.45"/>
<ellipse cx="600.4" cy="114.95" rx="1.6" ry="3.4" transform="rotate(37.7 600.4 114.95)" stroke="#c83a3a" stroke-width="1.4"/>
<ellipse cx="603.04" cy="115.89" rx="1.6" ry="3.4" transform="rotate(37.7 603.04 115.89)" stroke="#c83a3a" stroke-width="1.74"/>
<ellipse cx="623.35" cy="88.28" rx="1.6" ry="3.4" transform="rotate(148.25 623.35 88.28)" stroke="#d04848" stroke-width="1.45"/>
<ellipse cx="621.54" cy="90.42" rx="1.6" ry="3.4" transform="rotate(148.25 621.54 90.42)" stroke="#d04848" stroke-width="1.37"/>
<ellipse cx="619.73" cy="92.56" rx="1.6" ry="3.4" transform="rotate(148.25 619.73 92.56)" stroke="#d04848" stroke-width="1.52"/>
<ellipse cx="617.92" cy="94.69" rx="1.6" ry="3.4" transform="rotate(148.25 617.92 94.69)" stroke="#d04848" stroke-width="1.32"/>
<ellipse cx="616.11" cy="96.83" rx="1.6" ry="3.4" transform="rotate(148.25 616.11 96.83)" stroke="#d04848" stroke-width="1.46"/>
<ellipse cx="595.5" cy="68.52" rx="1.6" ry="3.4" transform="rotate(269.2 595.5 68.52)" stroke="#d44c4c" stroke-width="1.66"/>
<ellipse cx="594.6" cy="65.87" rx="1.6" ry="3.4" transform="rotate(269.2 594.6 65.87)" stroke="#d44c4c" stroke-width="1.31"/>
<ellipse cx="593.69" cy="63.22" rx="1.6" ry="3.4" transform="rotate(269.2 593.69 63.22)" stroke="#d44c4c" stroke-width="1.62"/>
<ellipse cx="592.79" cy="60.57" rx="1.6" ry="3.4" transform="rotate(269.2 592.79 60.57)" stroke="#d44c4c" stroke-width="1.59"/>
<ellipse cx="591.89" cy="57.92" rx="1.6" ry="3.4" transform="rotate(269.2 591.89 57.92)" stroke="#d44c4c" stroke-width="1.34"/>
<ellipse cx="622.38" cy="104.08" rx="1.6" ry="3.4" transform="rotate(171.41 622.38 104.08)" stroke="#c03434" stroke-width="1.72"/>
<ellipse cx="619.88" cy="105.33" rx="1.6" ry="3.4" transform="rotate(171.41 619.88 105.33)" stroke="#c03434" stroke-width="1.35"/>
<ellipse cx="617.38" cy="106.59" rx="1.6" ry="3.4" transform="rotate(171.41 617.38 106.59)" stroke="#c03434" stroke-width="1.4"/>
<ellipse cx="614.87" cy="107.84" rx="1.6" ry="3.4" transform="rotate(171.41 614.87 107.84)" stroke="#c03434" stroke-width="1.57"/>
<ellipse cx="608.82" cy="83.04" rx="1.6" ry="3.4" transform="rotate(81.87 608.82 83.04)" stroke="#c83a3a" stroke-width="1.57"/>
<ellipse cx="610.05" cy="85.55" rx="1.6" ry="3.4" transform="rotate(81.87 610.05 85.55)" stroke="#c83a3a" stroke-width="1.7"/>
<ellipse cx="611.29" cy="88.07" rx="1.6" ry="3.4" transform="rotate(81.87 611.29 88.07)" stroke="#c83a3a" stroke-width="1.66"/>
<ellipse cx="612.52" cy="90.58" rx="1.6" ry="3.4" transform="rotate(81.87 612.52 90.58)" stroke="#c83a3a" stroke-width="1.76"/>
<ellipse cx="654.33" cy="70.92" rx="1.6" ry="3.4" transform="rotate(309.22 654.33 70.92)" stroke="#d04848" stroke-width="1.64"/>
<ellipse cx="655.34" cy="68.31" rx="1.6" ry="3.4" transform="rotate(309.22 655.34 68.31)" stroke="#d04848" stroke-width="1.8"/>
<ellipse cx="656.35" cy="65.7" rx="1.6" ry="3.4" transform="rotate(309.22 656.35 65.7)" stroke="#d04848" stroke-width="1.53"/>
<ellipse cx="657.37" cy="63.09" rx="1.6" ry="3.4" transform="rotate(309.22 657.37 63.09)" stroke="#d04848" stroke-width="1.54"/>
<ellipse cx="567.85" cy="88.2" rx="1.6" ry="3.4" transform="rotate(125.98 567.85 88.2)" stroke="#c83a3a" stroke-width="1.71"/>
<ellipse cx="566.98" cy="90.86" rx="1.6" ry="3.4" transform="rotate(125.98 566.98 90.86)" stroke="#c83a3a" stroke-width="1.55"/>
<ellipse cx="566.12" cy="93.53" rx="1.6" ry="3.4" transform="rotate(125.98 566.12 93.53)" stroke="#c83a3a" stroke-width="1.36"/>
<ellipse cx="565.26" cy="96.19" rx="1.6" ry="3.4" transform="rotate(125.98 565.26 96.19)" stroke="#c83a3a" stroke-width="1.67"/>
<ellipse cx="647.28" cy="70.64" rx="1.6" ry="3.4" transform="rotate(31.72 647.28 70.64)" stroke="#c83a3a" stroke-width="1.68"/>
<ellipse cx="650" cy="71.3" rx="1.6" ry="3.4" transform="rotate(31.72 650 71.3)" stroke="#c83a3a" stroke-width="1.78"/>
<ellipse cx="652.72" cy="71.96" rx="1.6" ry="3.4" transform="rotate(31.72 652.72 71.96)" stroke="#c83a3a" stroke-width="1.36"/></g>
<path d="M583.8 105.71C583.81 105.04 584.42 102.76 583.89 101.71C583.36 100.66 581.55 100.33 580.61 99.41C579.68 98.48 578.66 96.71 578.26 96.17" stroke="#8080e4" stroke-width="1.1"/>
<path d="M643.48 86.43C642.82 86.3 640.56 85.25 639.55 85.69C638.54 86.13 638.34 88.18 637.41 89.07C636.47 89.96 634.5 90.69 633.91 91.02" stroke="#6262d8" stroke-width="1.1"/>
<path d="M617.56 70.7C618.08 70.28 619.5 68.74 620.67 68.19C621.85 67.64 623.57 68.07 624.59 67.37C625.61 66.68 626.4 64.58 626.77 64.02" stroke="#8a8ae6" stroke-width="1.1"/>
<path d="M640.31 90.87C639.75 90.5 637.38 89.68 636.97 88.66C636.57 87.64 637.85 86.07 637.87 84.76C637.89 83.46 637.43 82.13 637.1 80.84C636.77 79.55 635.59 78.1 635.89 77.03C636.19 75.96 638.42 74.86 638.93 74.43" stroke="#6a6adc" stroke-width="1.1"/>
<path d="M607.11 48.8C606.7 49.32 605.72 51.48 604.64 51.95C603.57 52.42 601.95 51.87 600.66 51.61C599.36 51.34 597.49 50.57 596.86 50.36" stroke="#e46a6a" stroke-width="1.1"/>
<path d="M549.73 57.1C550.26 57.5 552.21 58.47 552.91 59.52C553.62 60.57 553.13 62.56 553.94 63.39C554.75 64.22 556.91 63.69 557.78 64.5C558.65 65.31 559.36 67.13 559.15 68.26C558.93 69.39 557.61 70.72 556.5 71.26C555.39 71.79 553.17 71.43 552.5 71.47" stroke="#e87272" stroke-width="1.1"/>
<path d="M579.07 41.75C578.62 42.25 577.5 44.31 576.39 44.72C575.29 45.14 573.51 43.79 572.43 44.22C571.34 44.66 570.32 46.13 569.89 47.31C569.45 48.5 570.1 50.04 569.82 51.31C569.53 52.59 568.43 54.35 568.16 54.95" stroke="#e46a6a" stroke-width="1.1"/>
<path d="M556.31 58.77C556.97 58.72 559.41 59.16 560.3 58.48C561.19 57.81 561.22 55.98 561.65 54.72C562.08 53.45 562.6 52.2 562.86 50.9C563.12 49.6 562.74 48.1 563.22 46.92C563.69 45.74 564.64 44.25 565.72 43.8C566.8 43.35 569.03 44.16 569.69 44.24" stroke="#e46a6a" stroke-width="1.1"/>
<path d="M569.39 54.48C569.37 53.82 569.25 51.82 569.28 50.49C569.3 49.15 568.85 47.36 569.53 46.49C570.2 45.62 572.7 45.47 573.33 45.27" stroke="#e46a6a" stroke-width="1.1"/>
<path d="M575.52 73.78C575.78 73.17 576.35 71.18 577.09 70.1C577.84 69.03 578.83 67.69 579.97 67.32C581.11 66.96 583.27 67.8 583.93 67.9" stroke="#ee8484" stroke-width="1.1"/>
</g>
<text x="0.5" y="16.4" font-family="Liberation Serif" font-size="23" font-weight="normal" text-anchor="start" fill="#000">(a)</text>
<text x="247.2" y="16.6" font-family="Liberation Serif" font-size="23" font-weight="normal" text-anchor="start" fill="#000">(b)</text>
<text x="488.4" y="16.6" font-family="Liberation Serif" font-size="23" font-weight="normal" text-anchor="start" fill="#000">(c)</text>
<text x="0.8" y="133.8" font-family="Liberation Serif" font-size="23" font-weight="normal" text-anchor="start" fill="#000">(d)</text>
<text x="247.3" y="133.8" font-family="Liberation Serif" font-size="23" font-weight="normal" text-anchor="start" fill="#000">(e)</text>
<text x="488.7" y="133.8" font-family="Liberation Serif" font-size="23" font-weight="normal" text-anchor="start" fill="#000">(f)</text>
<text x="245.8" y="363.3" font-family="Liberation Serif" font-size="23" font-weight="normal" text-anchor="start" fill="#000">(g)</text>
<text x="152.2" y="25.1" font-family="Liberation Sans" font-size="17.9" font-weight="normal" text-anchor="start" fill="#000">NSD=3.6</text>
<text x="397.9" y="24.8" font-family="Liberation Sans" font-size="17.9" font-weight="normal" text-anchor="start" fill="#000">NSD=2.9</text>
<text x="635.2" y="24.7" font-family="Liberation Sans" font-size="17.9" font-weight="normal" text-anchor="start" fill="#000">NSD=2.1</text>
<line x1="67.2" y1="178.32" x2="199" y2="178.32" stroke="#b4b4b4" stroke-width="1.3"/>
<line x1="67.2" y1="204.14" x2="199" y2="204.14" stroke="#b4b4b4" stroke-width="1.3"/>
<line x1="67.2" y1="229.96" x2="199" y2="229.96" stroke="#b4b4b4" stroke-width="1.3"/>
<line x1="67.2" y1="255.78" x2="199" y2="255.78" stroke="#b4b4b4" stroke-width="1.3"/>
<path d="M67.4 182 L68.4 182.03 L69.4 182.08 L70.4 182.14 L71.4 182.22 L72.4 182.31 L73.4 182.41 L74.4 182.54 L75.4 182.68 L76.4 182.83 L77.4 183 L78.4 183.18 L79.4 183.38 L80.4 183.6 L81.4 183.83 L82.4 184.08 L83.4 184.34 L84.4 184.62 L85.4 184.92 L86.4 185.23 L87.4 185.56 L88.4 185.91 L89.4 186.27 L90.4 186.64 L91.4 187.04 L92.4 187.45 L93.4 187.87 L94.4 188.32 L95.4 188.78 L96.4 189.25 L97.4 189.75 L98.4 190.26 L99.4 190.78 L100.4 191.33 L101.4 191.89 L102.4 192.46 L103.4 193.06 L104.4 193.67 L105.4 194.3 L106.4 194.94 L107.4 195.61 L108.4 196.29 L109.4 196.98 L110.4 197.7 L111.4 198.43 L112.4 199.18 L113.4 199.95 L114.4 200.73 L115.4 201.54 L116.4 202.36 L117.4 203.2 L118.4 204.05 L119.4 204.93 L120.4 205.81 L121.4 206.72 L122.4 207.63 L123.4 208.56 L124.4 209.49 L125.4 210.43 L126.4 211.38 L127.4 212.33 L128.4 213.28 L129.4 214.23 L130.4 215.18 L131.4 216.13 L132.4 217.07 L133.4 218.01 L134.4 218.93 L135.4 219.85 L136.4 220.75 L137.4 221.63 L138.4 222.5 L139.4 223.34" fill="none" stroke="#000" stroke-width="2.6"/>
<path d="M67.5 180.2 L80 181.2" stroke="#000" stroke-width="1.6"/>
<path d="M136 217.75 L137.3 218.6 L138.6 219.75 L139.9 221.85 L141.2 221.47 L142.5 222.48 L143.8 224.02 L145.1 224.76 L146.4 226.35 L147.7 226.69 L149 226.66 L150.3 227.27 L151.6 228.14 L152.9 229.63 L154.2 229.85 L155.5 229.19 L156.8 230.68 L158.1 230.73 L159.4 231.63 L160.7 231.27 L162 231.3 L163.3 232.42 L164.6 233.03 L165.9 233.07 L167.2 233.77 L168.5 233.51 L169.8 233.01 L171.1 233.98 L172.4 233.6 L173.7 233.38 L175 233.9 L176.3 235.17 L177.6 234.82 L178.9 235.52 L180.2 235.42 L181.5 235.56 L182.8 234.62 L184.1 235.66 L185.4 235.55 L186.7 236.34 L188 235.48 L189.3 236.8 L190.6 236.91 L191.9 236.32 L193.2 236.94 L194.5 236.85 L195.8 237.43 L197.1 238.03 L198.4 237.38 L198.4 251.33 L197.1 249.41 L195.8 248.84 L194.5 248.45 L193.2 248.81 L191.9 248.27 L190.6 246.89 L189.3 247.3 L188 246.7 L186.7 246.09 L185.4 245.69 L184.1 244.64 L182.8 245.11 L181.5 244.44 L180.2 244.35 L178.9 242.61 L177.6 243.04 L176.3 242.98 L175 242.71 L173.7 241.11 L172.4 240.8 L171.1 241.07 L169.8 240.71 L168.5 240.08 L167.2 240.25 L165.9 239.75 L164.6 238.54 L163.3 238.28 L162 238.05 L160.7 238.6 L159.4 238.1 L158.1 237.21 L156.8 237.12 L155.5 236.44 L154.2 234.87 L152.9 235.25 L151.6 233.49 L150.3 232.82 L149 232.13 L147.7 232.5 L146.4 230.65 L145.1 230.33 L143.8 228.93 L142.5 227.78 L141.2 227.58 L139.9 226.25 L138.6 225.85 L137.3 224.76 L136 223.3Z" fill="#000"/>
<rect x="153.72" y="228.93" width="1.4" height="1.4" fill="#000"/>
<rect x="198.28" y="245.64" width="1.4" height="1.4" fill="#000"/>
<rect x="166.92" y="234.48" width="1.4" height="1.4" fill="#000"/>
<rect x="177.07" y="242.1" width="1.4" height="1.4" fill="#000"/>
<rect x="169.61" y="236.62" width="1.4" height="1.4" fill="#000"/>
<rect x="148.01" y="232.05" width="1.4" height="1.4" fill="#000"/>
<rect x="146.77" y="228.42" width="1.4" height="1.4" fill="#000"/>
<rect x="190.28" y="237.84" width="1.4" height="1.4" fill="#000"/>
<rect x="184.51" y="245.68" width="1.4" height="1.4" fill="#000"/>
<rect x="179.04" y="242.29" width="1.4" height="1.4" fill="#000"/>
<rect x="150.76" y="230.25" width="1.4" height="1.4" fill="#000"/>
<rect x="153.06" y="234.25" width="1.4" height="1.4" fill="#000"/>
<rect x="160.92" y="234.51" width="1.4" height="1.4" fill="#000"/>
<rect x="198.96" y="250.66" width="1.4" height="1.4" fill="#000"/>
<rect x="197.7" y="244.24" width="1.4" height="1.4" fill="#000"/>
<rect x="171.36" y="239.67" width="1.4" height="1.4" fill="#000"/>
<rect x="170.87" y="235.8" width="1.4" height="1.4" fill="#000"/>
<rect x="166.8" y="233.72" width="1.4" height="1.4" fill="#000"/>
<rect x="165.36" y="240.04" width="1.4" height="1.4" fill="#000"/>
<rect x="196.83" y="246.39" width="1.4" height="1.4" fill="#000"/>
<rect x="171.96" y="236.44" width="1.4" height="1.4" fill="#000"/>
<rect x="149.81" y="228.64" width="1.4" height="1.4" fill="#000"/>
<rect x="187.23" y="245.73" width="1.4" height="1.4" fill="#000"/>
<rect x="164.51" y="238.18" width="1.4" height="1.4" fill="#000"/>
<rect x="186.84" y="243.62" width="1.4" height="1.4" fill="#000"/>
<rect x="180.86" y="242.53" width="1.4" height="1.4" fill="#000"/>
<rect x="164.63" y="237.58" width="1.4" height="1.4" fill="#000"/>
<rect x="160.17" y="234.51" width="1.4" height="1.4" fill="#000"/>
<rect x="186.57" y="243.49" width="1.4" height="1.4" fill="#000"/>
<rect x="160.87" y="238.2" width="1.4" height="1.4" fill="#000"/>
<rect x="180.08" y="240.52" width="1.4" height="1.4" fill="#000"/>
<rect x="145.63" y="228.06" width="1.4" height="1.4" fill="#000"/>
<rect x="158.54" y="235.31" width="1.4" height="1.4" fill="#000"/>
<rect x="170" y="240.04" width="1.4" height="1.4" fill="#000"/>
<rect x="179.96" y="242.65" width="1.4" height="1.4" fill="#000"/>
<rect x="163.79" y="236.86" width="1.4" height="1.4" fill="#000"/>
<rect x="184.84" y="244.47" width="1.4" height="1.4" fill="#000"/>
<rect x="163.9" y="238.44" width="1.4" height="1.4" fill="#000"/>
<rect x="191.98" y="245.3" width="1.4" height="1.4" fill="#000"/>
<rect x="197.71" y="251.56" width="1.4" height="1.4" fill="#000"/>
<rect x="172.98" y="238.34" width="1.4" height="1.4" fill="#000"/>
<rect x="153.97" y="234.62" width="1.4" height="1.4" fill="#000"/>
<rect x="195.62" y="243.82" width="1.4" height="1.4" fill="#000"/>
<rect x="182.34" y="242.54" width="1.4" height="1.4" fill="#000"/>
<rect x="184.44" y="237.22" width="1.4" height="1.4" fill="#000"/>
<rect x="191.1" y="267.1" width="1.8" height="1.8" fill="#000"/>
<rect x="191.6" y="252.5" width="1.8" height="1.8" fill="#000"/>
<rect x="194.1" y="254.5" width="1.8" height="1.8" fill="#000"/>
<rect x="196.1" y="257.5" width="1.8" height="1.8" fill="#000"/>
<rect x="164.4" y="240.4" width="1.8" height="1.8" fill="#000"/>
<rect x="162.6" y="240.9" width="1.8" height="1.8" fill="#000"/>
<rect x="156.1" y="236.9" width="1.8" height="1.8" fill="#000"/>
<rect x="195.6" y="250.1" width="1.8" height="1.8" fill="#000"/>
<path d="M67.4 182.6 L68.4 182.63 L69.4 182.68 L70.4 182.74 L71.4 182.82 L72.4 182.91 L73.4 183.01 L74.4 183.14 L75.4 183.28 L76.4 183.43 L77.4 183.6 L78.4 183.78 L79.4 183.98 L80.4 184.2 L81.4 184.43 L82.4 184.68 L83.4 184.94 L84.4 185.22 L85.4 185.52 L86.4 185.83 L87.4 186.16 L88.4 186.51 L89.4 186.87 L90.4 187.24 L91.4 187.64 L92.4 188.05 L93.4 188.47 L94.4 188.92 L95.4 189.38 L96.4 189.85 L97.4 190.35 L98.4 190.86 L99.4 191.38 L100.4 191.93 L101.4 192.49 L102.4 193.06 L103.4 193.66 L104.4 194.27 L105.4 194.9 L106.4 195.54 L107.4 196.21 L108.4 196.89 L109.4 197.58 L110.4 198.3 L111.4 199.03 L112.4 199.78 L113.4 200.55 L114.4 201.33 L115.4 202.14 L116.4 202.96 L117.4 203.8 L118.4 204.65 L119.4 205.53 L120.4 206.41 L121.4 207.32 L122.4 208.23 L123.4 209.16 L124.4 210.09 L125.4 211.03 L126.4 211.98 L127.4 212.93 L128.4 213.88 L129.4 214.83 L130.4 215.78 L131.4 216.73 L132.4 217.67 L133.4 218.61 L134.4 219.53 L135.4 220.45 L136.4 221.35 L137.4 222.23 L138.4 223.1 L139.4 223.94 L140.4 224.76 L141.4 225.56 L142.4 226.33 L143.4 227.07 L144.4 227.77 L145.4 228.45 L146.4 229.1 L147.4 229.72 L148.4 230.31 L149.4 230.87 L150.4 231.4 L151.4 231.92 L152.4 232.4 L153.4 232.87 L154.4 233.31 L155.4 233.73 L156.4 234.12 L157.4 234.5 L158.4 234.86 L159.4 235.2 L160.4 235.53 L161.4 235.84 L162.4 236.13 L163.4 236.41 L164.4 236.68 L165.4 236.94 L166.4 237.18 L167.4 237.41 L168.4 237.64 L169.4 237.85 L170.4 238.06 L171.4 238.26 L172.4 238.45 L173.4 238.64 L174.4 238.83 L175.4 239 L176.4 239.18 L177.4 239.35 L178.4 239.52 L179.4 239.69 L180.4 239.85 L181.4 240.01 L182.4 240.18 L183.4 240.34 L184.4 240.51 L185.4 240.68 L186.4 240.84 L187.4 241.02 L188.4 241.19 L189.4 241.37 L190.4 241.56 L191.4 241.75 L192.4 241.95 L193.4 242.15 L194.4 242.36 L195.4 242.58 L196.4 242.81 L197.4 243.04 L198.4 243.29 L198.8 243.39" fill="none" stroke="#f42828" stroke-width="3" stroke-linecap="round" stroke-linejoin="round"/>
<path d="M67.2 151.3V281.6H200" fill="none" stroke="#000" stroke-width="2.5"/>
<path d="M66 152.5H199V281.6" fill="none" stroke="#000" stroke-width="2.4"/>
<line x1="199" y1="152.5" x2="199" y2="281.6" stroke="#2a2a2a" stroke-width="2"/>
<line x1="62.2" y1="152.5" x2="67.2" y2="152.5" stroke="#000" stroke-width="2.2"/>
<text x="58.7" y="157.6" font-family="Liberation Sans" font-size="15.2" font-weight="normal" text-anchor="end" fill="#000">0.0</text>
<line x1="62.2" y1="178.32" x2="67.2" y2="178.32" stroke="#000" stroke-width="2.2"/>
<text x="58.7" y="183.42" font-family="Liberation Sans" font-size="15.2" font-weight="normal" text-anchor="end" fill="#000">-1.0</text>
<line x1="62.2" y1="204.14" x2="67.2" y2="204.14" stroke="#000" stroke-width="2.2"/>
<text x="58.7" y="209.24" font-family="Liberation Sans" font-size="15.2" font-weight="normal" text-anchor="end" fill="#000">-2.0</text>
<line x1="62.2" y1="229.96" x2="67.2" y2="229.96" stroke="#000" stroke-width="2.2"/>
<text x="58.7" y="235.06" font-family="Liberation Sans" font-size="15.2" font-weight="normal" text-anchor="end" fill="#000">-3.0</text>
<line x1="62.2" y1="255.78" x2="67.2" y2="255.78" stroke="#000" stroke-width="2.2"/>
<text x="58.7" y="260.88" font-family="Liberation Sans" font-size="15.2" font-weight="normal" text-anchor="end" fill="#000">-4.0</text>
<line x1="62.2" y1="281.6" x2="67.2" y2="281.6" stroke="#000" stroke-width="2.2"/>
<text x="58.7" y="286.7" font-family="Liberation Sans" font-size="15.2" font-weight="normal" text-anchor="end" fill="#000">-5.0</text>
<line x1="67.2" y1="281.6" x2="67.2" y2="286.6" stroke="#000" stroke-width="2.2"/>
<text x="0" y="5.25" font-family="Liberation Sans" font-size="14.8" font-weight="normal" text-anchor="start" fill="#000" transform="translate(66.3 289.9) rotate(90)">0.00</text>
<line x1="100.15" y1="281.6" x2="100.15" y2="286.6" stroke="#000" stroke-width="2.2"/>
<line x1="100.15" y1="152.5" x2="100.15" y2="157" stroke="#000" stroke-width="2"/>
<text x="0" y="5.25" font-family="Liberation Sans" font-size="14.8" font-weight="normal" text-anchor="start" fill="#000" transform="translate(99.25 289.9) rotate(90)">0.05</text>
<line x1="133.1" y1="281.6" x2="133.1" y2="286.6" stroke="#000" stroke-width="2.2"/>
<line x1="133.1" y1="152.5" x2="133.1" y2="157" stroke="#000" stroke-width="2"/>
<text x="0" y="5.25" font-family="Liberation Sans" font-size="14.8" font-weight="normal" text-anchor="start" fill="#000" transform="translate(132.2 289.9) rotate(90)">0.10</text>
<line x1="166.05" y1="281.6" x2="166.05" y2="286.6" stroke="#000" stroke-width="2.2"/>
<line x1="166.05" y1="152.5" x2="166.05" y2="157" stroke="#000" stroke-width="2"/>
<text x="0" y="5.25" font-family="Liberation Sans" font-size="14.8" font-weight="normal" text-anchor="start" fill="#000" transform="translate(165.15 289.9) rotate(90)">0.15</text>
<line x1="199" y1="281.6" x2="199" y2="286.6" stroke="#000" stroke-width="2.2"/>
<text x="0" y="5.25" font-family="Liberation Sans" font-size="14.8" font-weight="normal" text-anchor="start" fill="#000" transform="translate(198.1 289.9) rotate(90)">0.20</text>
<text x="0" y="0" font-family="Liberation Sans" font-size="15" font-weight="bold" text-anchor="middle" fill="#000" transform="translate(17 229.5) rotate(-90)">log(I(q))</text>
<text x="121.6" y="347.5" font-family="Liberation Sans" font-size="15.4" font-weight="bold" text-anchor="middle" fill="#000">q(1/A)</text>
<g transform="translate(124.6 164.4)" fill="none" stroke="#000" stroke-linecap="round"><path d="M0.6 1.9C1.4 0.6 2.6 0.4 3.3 1.8L6.4 10.4C6.9 11.6 7.9 11.9 8.9 10.9" stroke-width="1.35"/><path d="M7.9 0.4L1.0 11.6" stroke-width="0.95"/></g>
<text x="134.2" y="167.6" font-family="Liberation Sans" font-size="10.8" font-weight="normal" text-anchor="start" fill="#000">2</text>
<text x="140.5" y="172.2" font-family="Liberation Sans" font-size="17.5" font-weight="normal" text-anchor="start" fill="#000">=10.3</text>
<line x1="307.6" y1="177.52" x2="439.6" y2="177.52" stroke="#b4b4b4" stroke-width="1.3"/>
<line x1="307.6" y1="203.44" x2="439.6" y2="203.44" stroke="#b4b4b4" stroke-width="1.3"/>
<line x1="307.6" y1="229.36" x2="439.6" y2="229.36" stroke="#b4b4b4" stroke-width="1.3"/>
<line x1="307.6" y1="255.28" x2="439.6" y2="255.28" stroke="#b4b4b4" stroke-width="1.3"/>
<path d="M307.6 163.91 L308.6 163.77 L309.6 163.65 L310.6 163.91 L311.6 164.03 L312.6 163.92 L313.6 164.08 L314.6 163.79 L315.6 164 L316.6 164.07 L317.6 164.08 L318.6 164.45 L319.6 164.51 L320.6 164.9 L321.6 165.1 L322.6 164.98 L323.6 165.21 L324.6 165.8 L325.6 165.99 L326.6 166.12 L327.6 166.37 L328.6 166.9 L329.6 167.32 L330.6 167.74 L331.6 167.98 L332.6 168.65 L333.6 168.69 L334.6 169.34 L335.6 169.79 L336.6 170.32 L337.6 170.81 L338.6 171.43 L339.6 171.7 L340.6 172.21 L341.6 172.63 L342.6 173.28 L343.6 173.78 L344.6 174.56 L345.6 175.14 L346.6 176.06 L347.6 176.6 L348.6 177.26 L349.6 177.82 L350.6 178.28 L351.6 179.16 L352.6 180.06 L353.6 180.65 L354.6 181.43 L355.6 182.36 L356.6 183 L357.6 184.04 L358.6 184.53 L359.6 185.63 L360.6 186.09 L361.6 187.18 L362.6 188.13 L363.6 188.81 L364.6 189.77 L365.6 190.84 L366.6 191.83 L367.6 193.22 L368.6 193.91 L369.6 195.16 L370.6 196.54 L371.6 197.48 L372.6 198.96 L373.6 200.04 L374.6 201.03 L375.6 202.22 L376.6 203.62 L377.6 204.57 L378.6 205.76 L379.6 206.77 L380.6 208.27 L381.6 209.08 L382.6 210.46 L383.6 211.42 L384.6 212.25 L385.6 212.93 L386.6 213.96 L387.6 214.68 L388.6 215.41 L389.6 216.28 L390.6 216.83 L391.6 217.14 L392.6 217.91 L393.6 218.38 L394.6 218.59 L395.6 219.15 L396.6 219.53 L397.6 219.78 L398.6 219.63 L399.6 219.76 L400.6 219.87 L401.6 219.94 L402.6 219.93 L403.6 220.37 L404.6 220.11 L405.6 220.05 L406.6 220.36 L407.6 220.38 L408.6 220.3 L409.6 220.52 L410.6 220.54 L411.6 220.77 L412.6 220.76 L413.6 220.91 L414.6 220.88 L415.6 221.07 L416.6 221.23 L417.6 221.43 L418.6 221.86 L419.6 221.56 L420.6 222.19 L421.6 222.42 L422.6 222.46 L423.6 222.62 L424.6 222.73 L425.6 223.42 L426.6 223.68 L427.6 223.91 L428.6 223.91 L429.6 224.24 L430.6 224.87 L431.6 225.2 L432.6 225.48 L433.6 225.54 L434.6 225.91 L435.6 226.3 L436.6 226.7 L437.6 227.02 L438.6 227.61 L439.6 228.06 L439.8 227.95 L439.8 234.65 L439.6 234.4 L438.6 234.15 L437.6 233.55 L436.6 233.36 L435.6 232.92 L434.6 231.89 L433.6 231.58 L432.6 231.29 L431.6 230.97 L430.6 230.27 L429.6 230.13 L428.6 229.73 L427.6 229.09 L426.6 229.02 L425.6 228.25 L424.6 228.15 L423.6 227.69 L422.6 227.35 L421.6 227.04 L420.6 226.97 L419.6 226.79 L418.6 226.17 L417.6 226.38 L416.6 226.04 L415.6 226.02 L414.6 225.26 L413.6 225.25 L412.6 225.38 L411.6 225.19 L410.6 224.55 L409.6 224.9 L408.6 224.22 L407.6 224.55 L406.6 224.51 L405.6 224.06 L404.6 224.53 L403.6 224.29 L402.6 223.95 L401.6 224.04 L400.6 223.63 L399.6 223.67 L398.6 223.45 L397.6 223.56 L396.6 223.1 L395.6 222.47 L394.6 222.38 L393.6 221.88 L392.6 221.8 L391.6 221.36 L390.6 220.41 L389.6 219.6 L388.6 219.01 L387.6 218.57 L386.6 217.56 L385.6 216.57 L384.6 215.69 L383.6 214.69 L382.6 214.06 L381.6 212.45 L380.6 211.82 L379.6 210.86 L378.6 209.38 L377.6 208.35 L376.6 207.38 L375.6 205.65 L374.6 204.76 L373.6 203.36 L372.6 202.24 L371.6 200.9 L370.6 200.27 L369.6 198.65 L368.6 197.85 L367.6 196.83 L366.6 195.65 L365.6 194.38 L364.6 193.58 L363.6 192.4 L362.6 191.58 L361.6 190.54 L360.6 189.63 L359.6 189.04 L358.6 188.25 L357.6 187.47 L356.6 186.57 L355.6 185.62 L354.6 184.77 L353.6 184.31 L352.6 183.36 L351.6 182.97 L350.6 182.17 L349.6 181.68 L348.6 181.02 L347.6 179.9 L346.6 179.15 L345.6 179.03 L344.6 178.08 L343.6 177.89 L342.6 176.92 L341.6 176.29 L340.6 175.86 L339.6 175.01 L338.6 174.64 L337.6 174.51 L336.6 173.59 L335.6 173.09 L334.6 173.18 L333.6 172.35 L332.6 172.24 L331.6 171.55 L330.6 171.48 L329.6 170.6 L328.6 170.82 L327.6 170.3 L326.6 169.7 L325.6 169.38 L324.6 169.34 L323.6 169.14 L322.6 168.73 L321.6 168.89 L320.6 168.51 L319.6 168.01 L318.6 167.96 L317.6 167.85 L316.6 168.03 L315.6 167.79 L314.6 167.68 L313.6 167.46 L312.6 167.31 L311.6 167.48 L310.6 167.4 L309.6 167.79 L308.6 167.68 L307.6 167.5Z" fill="#000"/>
<path d="M307.6 165.83 L308.6 165.77 L309.6 165.72 L310.6 165.7 L311.6 165.69 L312.6 165.71 L313.6 165.75 L314.6 165.81 L315.6 165.89 L316.6 165.99 L317.6 166.11 L318.6 166.25 L319.6 166.42 L320.6 166.6 L321.6 166.8 L322.6 167.02 L323.6 167.26 L324.6 167.52 L325.6 167.79 L326.6 168.09 L327.6 168.4 L328.6 168.74 L329.6 169.09 L330.6 169.46 L331.6 169.84 L332.6 170.25 L333.6 170.67 L334.6 171.11 L335.6 171.57 L336.6 172.04 L337.6 172.53 L338.6 173.04 L339.6 173.57 L340.6 174.11 L341.6 174.66 L342.6 175.24 L343.6 175.82 L344.6 176.43 L345.6 177.05 L346.6 177.68 L347.6 178.33 L348.6 179 L349.6 179.68 L350.6 180.37 L351.6 181.08 L352.6 181.81 L353.6 182.55 L354.6 183.3 L355.6 184.06 L356.6 184.84 L357.6 185.64 L358.6 186.46 L359.6 187.29 L360.6 188.15 L361.6 189.03 L362.6 189.93 L363.6 190.86 L364.6 191.82 L365.6 192.8 L366.6 193.82 L367.6 194.87 L368.6 195.95 L369.6 197.07 L370.6 198.21 L371.6 199.38 L372.6 200.56 L373.6 201.76 L374.6 202.96 L375.6 204.16 L376.6 205.36 L377.6 206.54 L378.6 207.7 L379.6 208.85 L380.6 209.96 L381.6 211.03 L382.6 212.07 L383.6 213.06 L384.6 214.01 L385.6 214.92 L386.6 215.77 L387.6 216.57 L388.6 217.33 L389.6 218.02 L390.6 218.66 L391.6 219.24 L392.6 219.75 L393.6 220.21 L394.6 220.59 L395.6 220.92 L396.6 221.19 L397.6 221.41 L398.6 221.58 L399.6 221.72 L400.6 221.82 L401.6 221.9 L402.6 221.96 L403.6 222 L404.6 222.04 L405.6 222.07 L406.6 222.1 L407.6 222.15 L408.6 222.21 L409.6 222.28 L410.6 222.36 L411.6 222.46 L412.6 222.57 L413.6 222.69 L414.6 222.82 L415.6 222.96 L416.6 223.12 L417.6 223.28 L418.6 223.46 L419.6 223.66 L420.6 223.86 L421.6 224.07 L422.6 224.3 L423.6 224.54 L424.6 224.79 L425.6 225.05 L426.6 225.32 L427.6 225.6 L428.6 225.9 L429.6 226.2 L430.6 226.52 L431.6 226.84 L432.6 227.18 L433.6 227.53 L434.6 227.89 L435.6 228.26 L436.6 228.64 L437.6 229.03 L438.6 229.43 L439.6 229.84 L439.8 229.93" fill="none" stroke="#f42828" stroke-width="3" stroke-linecap="round" stroke-linejoin="round"/>
<path d="M307.6 150.4V281.2H440.6" fill="none" stroke="#000" stroke-width="2.5"/>
<path d="M306.4 151.6H439.6V281.2" fill="none" stroke="#000" stroke-width="2.4"/>
<line x1="439.6" y1="151.6" x2="439.6" y2="281.2" stroke="#2a2a2a" stroke-width="2"/>
<line x1="302.6" y1="151.6" x2="307.6" y2="151.6" stroke="#000" stroke-width="2.2"/>
<text x="299.1" y="156.7" font-family="Liberation Sans" font-size="15.2" font-weight="normal" text-anchor="end" fill="#000">0.0</text>
<line x1="302.6" y1="177.52" x2="307.6" y2="177.52" stroke="#000" stroke-width="2.2"/>
<text x="299.1" y="182.62" font-family="Liberation Sans" font-size="15.2" font-weight="normal" text-anchor="end" fill="#000">-1.0</text>
<line x1="302.6" y1="203.44" x2="307.6" y2="203.44" stroke="#000" stroke-width="2.2"/>
<text x="299.1" y="208.54" font-family="Liberation Sans" font-size="15.2" font-weight="normal" text-anchor="end" fill="#000">-2.0</text>
<line x1="302.6" y1="229.36" x2="307.6" y2="229.36" stroke="#000" stroke-width="2.2"/>
<text x="299.1" y="234.46" font-family="Liberation Sans" font-size="15.2" font-weight="normal" text-anchor="end" fill="#000">-3.0</text>
<line x1="302.6" y1="255.28" x2="307.6" y2="255.28" stroke="#000" stroke-width="2.2"/>
<text x="299.1" y="260.38" font-family="Liberation Sans" font-size="15.2" font-weight="normal" text-anchor="end" fill="#000">-4.0</text>
<line x1="302.6" y1="281.2" x2="307.6" y2="281.2" stroke="#000" stroke-width="2.2"/>
<text x="299.1" y="286.3" font-family="Liberation Sans" font-size="15.2" font-weight="normal" text-anchor="end" fill="#000">-5.0</text>
<line x1="307.6" y1="281.2" x2="307.6" y2="286.2" stroke="#000" stroke-width="2.2"/>
<text x="0" y="5.25" font-family="Liberation Sans" font-size="14.8" font-weight="normal" text-anchor="start" fill="#000" transform="translate(306.7 289.9) rotate(90)">0.00</text>
<line x1="340.6" y1="281.2" x2="340.6" y2="286.2" stroke="#000" stroke-width="2.2"/>
<line x1="340.6" y1="151.6" x2="340.6" y2="156.1" stroke="#000" stroke-width="2"/>
<text x="0" y="5.25" font-family="Liberation Sans" font-size="14.8" font-weight="normal" text-anchor="start" fill="#000" transform="translate(339.7 289.9) rotate(90)">0.05</text>
<line x1="373.6" y1="281.2" x2="373.6" y2="286.2" stroke="#000" stroke-width="2.2"/>
<line x1="373.6" y1="151.6" x2="373.6" y2="156.1" stroke="#000" stroke-width="2"/>
<text x="0" y="5.25" font-family="Liberation Sans" font-size="14.8" font-weight="normal" text-anchor="start" fill="#000" transform="translate(372.7 289.9) rotate(90)">0.10</text>
<line x1="406.6" y1="281.2" x2="406.6" y2="286.2" stroke="#000" stroke-width="2.2"/>
<line x1="406.6" y1="151.6" x2="406.6" y2="156.1" stroke="#000" stroke-width="2"/>
<text x="0" y="5.25" font-family="Liberation Sans" font-size="14.8" font-weight="normal" text-anchor="start" fill="#000" transform="translate(405.7 289.9) rotate(90)">0.15</text>
<line x1="439.6" y1="281.2" x2="439.6" y2="286.2" stroke="#000" stroke-width="2.2"/>
<text x="0" y="5.25" font-family="Liberation Sans" font-size="14.8" font-weight="normal" text-anchor="start" fill="#000" transform="translate(438.7 289.9) rotate(90)">0.20</text>
<text x="0" y="0" font-family="Liberation Sans" font-size="15" font-weight="bold" text-anchor="middle" fill="#000" transform="translate(257.4 229.5) rotate(-90)">log(I(q))</text>
<text x="362.1" y="347.5" font-family="Liberation Sans" font-size="15.4" font-weight="bold" text-anchor="middle" fill="#000">q(1/A)</text>
<g transform="translate(366.2 163.7)" fill="none" stroke="#000" stroke-linecap="round"><path d="M0.6 1.9C1.4 0.6 2.6 0.4 3.3 1.8L6.4 10.4C6.9 11.6 7.9 11.9 8.9 10.9" stroke-width="1.35"/><path d="M7.9 0.4L1.0 11.6" stroke-width="0.95"/></g>
<text x="375.8" y="166.9" font-family="Liberation Sans" font-size="10.8" font-weight="normal" text-anchor="start" fill="#000">2</text>
<text x="382.1" y="171.5" font-family="Liberation Sans" font-size="17.5" font-weight="normal" text-anchor="start" fill="#000">=29.6</text>
<line x1="558.9" y1="178.12" x2="691" y2="178.12" stroke="#b4b4b4" stroke-width="1.3"/>
<line x1="558.9" y1="203.94" x2="691" y2="203.94" stroke="#b4b4b4" stroke-width="1.3"/>
<line x1="558.9" y1="229.76" x2="691" y2="229.76" stroke="#b4b4b4" stroke-width="1.3"/>
<line x1="558.9" y1="255.58" x2="691" y2="255.58" stroke="#b4b4b4" stroke-width="1.3"/>
<path d="M559.2 165.56 L560.2 165.86 L561.2 165.73 L562.2 165.85 L563.2 166.36 L564.2 166.27 L565.2 166.44 L566.2 166.57 L567.2 166.81 L568.2 166.59 L569.2 166.82 L570.2 167.06 L571.2 167.2 L572.2 167.55 L573.2 167.48 L574.2 167.99 L575.2 168.24 L576.2 168.06 L577.2 168.38 L578.2 168.56 L579.2 168.77 L580.2 169.33 L581.2 169.28 L582.2 169.63 L583.2 169.98 L584.2 170.39 L585.2 170.72 L586.2 170.7 L587.2 171.2 L588.2 171.6 L589.2 171.84 L590.2 172.44 L591.2 172.63 L592.2 173.35 L593.2 173.84 L594.2 174.35 L595.2 174.86 L596.2 175.27 L597.2 175.92 L598.2 176.13 L599.2 176.77 L600.2 177.27 L601.2 178.29 L602.2 178.57 L603.2 179.59 L604.2 180.01 L605.2 180.74 L606.2 181.85 L607.2 182.19 L608.2 183.11 L609.2 183.86 L610.2 184.93 L611.2 185.97 L612.2 186.96 L613.2 187.74 L614.2 188.89 L615.2 189.79 L616.2 190.54 L617.2 191.61 L618.2 192.97 L619.2 194.13 L620.2 195.19 L621.2 196.13 L622.2 197.09 L623.2 198.42 L624.2 199.74 L625.2 200.59 L626.2 201.82 L627.2 202.92 L628.2 204.05 L629.2 205.33 L630.2 206.59 L631.2 207.65 L632.2 208.85 L633.2 209.84 L634.2 210.92 L635.2 211.77 L636.2 212.92 L637.2 214.05 L638.2 215 L639.2 216.19 L640.2 217.08 L641.2 218.21 L642.2 218.93 L643.2 219.52 L644.2 220.28 L645.2 220.99 L646.2 221.42 L647.2 222.21 L648.2 222.72 L649.2 223.17 L650.2 223.33 L651.2 223.33 L652.2 224 L653.2 224.1 L654.2 223.98 L655.2 223.85 L656.2 224.03 L657.2 224.25 L658.2 224.31 L659.2 223.93 L660.2 224.36 L661.2 223.97 L662.2 223.98 L663.2 224.33 L664.2 223.99 L665.2 224.1 L666.2 224.28 L667.2 224.31 L668.2 224.24 L669.2 224.39 L670.2 224.34 L671.2 224.57 L672.2 224.49 L673.2 224.92 L674.2 225.03 L675.2 225.13 L676.2 225.57 L677.2 225.62 L678.2 225.86 L679.2 226.08 L680.2 226.01 L681.2 226.39 L682.2 226.66 L683.2 226.95 L684.2 227.37 L685.2 227.63 L686.2 228.18 L687.2 228.66 L688.2 229.29 L689.2 229.39 L690.2 230.2 L691 230.43 L691 237.51 L690.2 237.11 L689.2 236.37 L688.2 235.31 L687.2 235.11 L686.2 234.19 L685.2 233.66 L684.2 233 L683.2 232.24 L682.2 232.1 L681.2 231.51 L680.2 230.88 L679.2 230.18 L678.2 229.73 L677.2 229.6 L676.2 229.34 L675.2 228.82 L674.2 228.28 L673.2 228.04 L672.2 228.04 L671.2 228.03 L670.2 227.35 L669.2 227.54 L668.2 227.35 L667.2 226.99 L666.2 227.19 L665.2 227.17 L664.2 227 L663.2 227.09 L662.2 226.78 L661.2 227.2 L660.2 226.88 L659.2 227.18 L658.2 227.23 L657.2 227.06 L656.2 227.11 L655.2 226.8 L654.2 227.02 L653.2 226.41 L652.2 226.43 L651.2 226.19 L650.2 226.23 L649.2 225.78 L648.2 225.43 L647.2 224.75 L646.2 224.3 L645.2 224.03 L644.2 223.05 L643.2 222.29 L642.2 221.75 L641.2 220.55 L640.2 220.21 L639.2 218.71 L638.2 218.15 L637.2 216.9 L636.2 215.84 L635.2 214.57 L634.2 213.33 L633.2 212.78 L632.2 211.62 L631.2 210.43 L630.2 208.95 L629.2 208.11 L628.2 206.71 L627.2 205.51 L626.2 204.24 L625.2 203.35 L624.2 202.63 L623.2 201.06 L622.2 199.95 L621.2 198.74 L620.2 197.63 L619.2 196.45 L618.2 195.86 L617.2 194.9 L616.2 193.28 L615.2 192.53 L614.2 191.51 L613.2 190.32 L612.2 189.84 L611.2 188.48 L610.2 187.77 L609.2 186.73 L608.2 186.04 L607.2 185.48 L606.2 184.11 L605.2 183.48 L604.2 182.85 L603.2 182.47 L602.2 181.21 L601.2 180.61 L600.2 179.91 L599.2 179.55 L598.2 179.24 L597.2 178.46 L596.2 177.74 L595.2 177.47 L594.2 177.01 L593.2 176.82 L592.2 176.18 L591.2 175.77 L590.2 175.48 L589.2 174.71 L588.2 174.26 L587.2 173.8 L586.2 173.89 L585.2 173.25 L584.2 172.91 L583.2 172.79 L582.2 172.59 L581.2 172.15 L580.2 172.15 L579.2 172.04 L578.2 171.69 L577.2 171.33 L576.2 171.09 L575.2 170.89 L574.2 170.62 L573.2 170.19 L572.2 170.05 L571.2 170.21 L570.2 170.2 L569.2 169.77 L568.2 169.81 L567.2 169.36 L566.2 169.69 L565.2 169.21 L564.2 169.07 L563.2 169.01 L562.2 168.92 L561.2 168.78 L560.2 168.75 L559.2 168.1Z" fill="#000"/>
<path d="M559.2 166.68 L560.2 166.81 L561.2 166.94 L562.2 167.06 L563.2 167.19 L564.2 167.33 L565.2 167.46 L566.2 167.6 L567.2 167.74 L568.2 167.89 L569.2 168.04 L570.2 168.2 L571.2 168.36 L572.2 168.53 L573.2 168.71 L574.2 168.89 L575.2 169.09 L576.2 169.29 L577.2 169.5 L578.2 169.73 L579.2 169.96 L580.2 170.21 L581.2 170.47 L582.2 170.74 L583.2 171.02 L584.2 171.32 L585.2 171.63 L586.2 171.96 L587.2 172.31 L588.2 172.67 L589.2 173.05 L590.2 173.44 L591.2 173.86 L592.2 174.29 L593.2 174.74 L594.2 175.21 L595.2 175.7 L596.2 176.22 L597.2 176.75 L598.2 177.31 L599.2 177.89 L600.2 178.5 L601.2 179.12 L602.2 179.78 L603.2 180.46 L604.2 181.16 L605.2 181.89 L606.2 182.65 L607.2 183.44 L608.2 184.25 L609.2 185.1 L610.2 185.97 L611.2 186.87 L612.2 187.8 L613.2 188.76 L614.2 189.74 L615.2 190.75 L616.2 191.77 L617.2 192.82 L618.2 193.88 L619.2 194.96 L620.2 196.06 L621.2 197.16 L622.2 198.28 L623.2 199.41 L624.2 200.54 L625.2 201.68 L626.2 202.83 L627.2 203.97 L628.2 205.12 L629.2 206.27 L630.2 207.41 L631.2 208.55 L632.2 209.68 L633.2 210.81 L634.2 211.93 L635.2 213.03 L636.2 214.11 L637.2 215.16 L638.2 216.19 L639.2 217.18 L640.2 218.13 L641.2 219.03 L642.2 219.89 L643.2 220.69 L644.2 221.43 L645.2 222.1 L646.2 222.7 L647.2 223.23 L648.2 223.68 L649.2 224.05 L650.2 224.36 L651.2 224.61 L652.2 224.81 L653.2 224.96 L654.2 225.07 L655.2 225.14 L656.2 225.18 L657.2 225.21 L658.2 225.21 L659.2 225.21 L660.2 225.2 L661.2 225.2 L662.2 225.2 L663.2 225.21 L664.2 225.23 L665.2 225.26 L666.2 225.29 L667.2 225.34 L668.2 225.4 L669.2 225.48 L670.2 225.56 L671.2 225.66 L672.2 225.77 L673.2 225.9 L674.2 226.05 L675.2 226.21 L676.2 226.39 L677.2 226.58 L678.2 226.8 L679.2 227.03 L680.2 227.28 L681.2 227.56 L682.2 227.85 L683.2 228.17 L684.2 228.51 L685.2 228.88 L686.2 229.26 L687.2 229.68 L688.2 230.12 L689.2 230.58 L690.2 231.07 L691 231.49" fill="none" stroke="#f42828" stroke-width="3" stroke-linecap="round" stroke-linejoin="round"/>
<path d="M558.9 151.1V281.4H692" fill="none" stroke="#000" stroke-width="2.5"/>
<path d="M557.7 152.3H691V281.4" fill="none" stroke="#000" stroke-width="2.4"/>
<line x1="691" y1="152.3" x2="691" y2="281.4" stroke="#2a2a2a" stroke-width="2"/>
<line x1="553.9" y1="152.3" x2="558.9" y2="152.3" stroke="#000" stroke-width="2.2"/>
<text x="550.4" y="157.4" font-family="Liberation Sans" font-size="15.2" font-weight="normal" text-anchor="end" fill="#000">0.0</text>
<line x1="553.9" y1="178.12" x2="558.9" y2="178.12" stroke="#000" stroke-width="2.2"/>
<text x="550.4" y="183.22" font-family="Liberation Sans" font-size="15.2" font-weight="normal" text-anchor="end" fill="#000">-1.0</text>
<line x1="553.9" y1="203.94" x2="558.9" y2="203.94" stroke="#000" stroke-width="2.2"/>
<text x="550.4" y="209.04" font-family="Liberation Sans" font-size="15.2" font-weight="normal" text-anchor="end" fill="#000">-2.0</text>
<line x1="553.9" y1="229.76" x2="558.9" y2="229.76" stroke="#000" stroke-width="2.2"/>
<text x="550.4" y="234.86" font-family="Liberation Sans" font-size="15.2" font-weight="normal" text-anchor="end" fill="#000">-3.0</text>
<line x1="553.9" y1="255.58" x2="558.9" y2="255.58" stroke="#000" stroke-width="2.2"/>
<text x="550.4" y="260.68" font-family="Liberation Sans" font-size="15.2" font-weight="normal" text-anchor="end" fill="#000">-4.0</text>
<line x1="553.9" y1="281.4" x2="558.9" y2="281.4" stroke="#000" stroke-width="2.2"/>
<text x="550.4" y="286.5" font-family="Liberation Sans" font-size="15.2" font-weight="normal" text-anchor="end" fill="#000">-5.0</text>
<line x1="558.9" y1="281.4" x2="558.9" y2="286.4" stroke="#000" stroke-width="2.2"/>
<text x="0" y="5.25" font-family="Liberation Sans" font-size="14.8" font-weight="normal" text-anchor="start" fill="#000" transform="translate(558 289.9) rotate(90)">0.00</text>
<line x1="591.92" y1="281.4" x2="591.92" y2="286.4" stroke="#000" stroke-width="2.2"/>
<line x1="591.92" y1="152.3" x2="591.92" y2="156.8" stroke="#000" stroke-width="2"/>
<text x="0" y="5.25" font-family="Liberation Sans" font-size="14.8" font-weight="normal" text-anchor="start" fill="#000" transform="translate(591.02 289.9) rotate(90)">0.05</text>
<line x1="624.95" y1="281.4" x2="624.95" y2="286.4" stroke="#000" stroke-width="2.2"/>
<line x1="624.95" y1="152.3" x2="624.95" y2="156.8" stroke="#000" stroke-width="2"/>
<text x="0" y="5.25" font-family="Liberation Sans" font-size="14.8" font-weight="normal" text-anchor="start" fill="#000" transform="translate(624.05 289.9) rotate(90)">0.10</text>
<line x1="657.98" y1="281.4" x2="657.98" y2="286.4" stroke="#000" stroke-width="2.2"/>
<line x1="657.98" y1="152.3" x2="657.98" y2="156.8" stroke="#000" stroke-width="2"/>
<text x="0" y="5.25" font-family="Liberation Sans" font-size="14.8" font-weight="normal" text-anchor="start" fill="#000" transform="translate(657.08 289.9) rotate(90)">0.15</text>
<line x1="691" y1="281.4" x2="691" y2="286.4" stroke="#000" stroke-width="2.2"/>
<text x="0" y="5.25" font-family="Liberation Sans" font-size="14.8" font-weight="normal" text-anchor="start" fill="#000" transform="translate(690.1 289.9) rotate(90)">0.20</text>
<text x="0" y="0" font-family="Liberation Sans" font-size="15" font-weight="bold" text-anchor="middle" fill="#000" transform="translate(508.7 229.5) rotate(-90)">log(I(q))</text>
<text x="613.45" y="347.5" font-family="Liberation Sans" font-size="15.4" font-weight="bold" text-anchor="middle" fill="#000">q(1/A)</text>
<g transform="translate(628.4 164.2)" fill="none" stroke="#000" stroke-linecap="round"><path d="M0.6 1.9C1.4 0.6 2.6 0.4 3.3 1.8L6.4 10.4C6.9 11.6 7.9 11.9 8.9 10.9" stroke-width="1.35"/><path d="M7.9 0.4L1.0 11.6" stroke-width="0.95"/></g>
<text x="638" y="167.4" font-family="Liberation Sans" font-size="10.8" font-weight="normal" text-anchor="start" fill="#000">2</text>
<text x="644.3" y="172" font-family="Liberation Sans" font-size="17.5" font-weight="normal" text-anchor="start" fill="#000">=6.2</text>
<line x1="310" y1="380" x2="439" y2="380" stroke="#d9d9d9" stroke-width="1.2"/>
<text x="295.5" y="385.7" font-family="Liberation Sans" font-size="16" font-weight="normal" text-anchor="end" fill="#000">1</text>
<line x1="310" y1="403.2" x2="439" y2="403.2" stroke="#d9d9d9" stroke-width="1.2"/>
<text x="295.5" y="408.9" font-family="Liberation Sans" font-size="16" font-weight="normal" text-anchor="end" fill="#000">0,8</text>
<line x1="310" y1="426.4" x2="439" y2="426.4" stroke="#d9d9d9" stroke-width="1.2"/>
<text x="295.5" y="432.1" font-family="Liberation Sans" font-size="16" font-weight="normal" text-anchor="end" fill="#000">0,6</text>
<line x1="310" y1="449.6" x2="439" y2="449.6" stroke="#d9d9d9" stroke-width="1.2"/>
<text x="295.5" y="455.3" font-family="Liberation Sans" font-size="16" font-weight="normal" text-anchor="end" fill="#000">0,4</text>
<line x1="310" y1="472.8" x2="439" y2="472.8" stroke="#d9d9d9" stroke-width="1.2"/>
<text x="295.5" y="478.5" font-family="Liberation Sans" font-size="16" font-weight="normal" text-anchor="end" fill="#000">0,2</text>
<line x1="310" y1="496" x2="439" y2="496" stroke="#d9d9d9" stroke-width="1.2"/>
<text x="295.5" y="501.7" font-family="Liberation Sans" font-size="16" font-weight="normal" text-anchor="end" fill="#000">0</text>
<rect x="315.8" y="380" width="21.2" height="116" fill="#5b9bd5"/>
<rect x="348" y="393.3" width="21.2" height="102.7" fill="#5b9bd5"/>
<rect x="380.2" y="411.1" width="21.2" height="84.9" fill="#5b9bd5"/>
<rect x="412.4" y="431.1" width="21.2" height="64.9" fill="#5b9bd5"/>
<polyline points="358.8,449.2 390.8,426 422.9,403.2" fill="none" stroke="#ed7d31" stroke-width="2.3"/>
<circle cx="358.8" cy="449.2" r="2.6" fill="#ed7d31"/>
<circle cx="390.8" cy="426" r="2.6" fill="#ed7d31"/>
<circle cx="422.9" cy="403.2" r="2.6" fill="#ed7d31"/>
<text x="452.3" y="385.8" font-family="Liberation Sans" font-size="16.6" font-weight="normal" text-anchor="start" fill="#000">40</text>
<text x="452.3" y="424.47" font-family="Liberation Sans" font-size="16.6" font-weight="normal" text-anchor="start" fill="#000">35</text>
<text x="452.3" y="463.13" font-family="Liberation Sans" font-size="16.6" font-weight="normal" text-anchor="start" fill="#000">30</text>
<text x="452.3" y="501.8" font-family="Liberation Sans" font-size="16.6" font-weight="normal" text-anchor="start" fill="#000">25</text>
<text x="0" y="0" font-family="Liberation Sans" font-size="16" font-weight="bold" text-anchor="middle" fill="#000" transform="translate(266.8 438.4) rotate(-90)">Q</text>
<text transform="translate(496.5 459.6) rotate(-90)" font-family="Liberation Sans" font-size="16" font-weight="bold">R<tspan font-size="10.8" dy="3">g</tspan><tspan dy="-3"> (&#197;)</tspan></text>
<text x="0" y="0" font-family="Liberation Sans" font-size="13.5" font-weight="normal" text-anchor="start" fill="#000" transform="translate(321.5 512.5) rotate(35)" textLength="94" lengthAdjust="spacingAndGlyphs">Crystal structures</text>
<text x="0" y="0" font-family="Liberation Sans" font-size="13.5" font-weight="normal" text-anchor="start" fill="#000" transform="translate(353.6 512.2) rotate(35.6)" textLength="100" lengthAdjust="spacingAndGlyphs">DME-bound AADC</text>
<text x="0" y="0" font-family="Liberation Sans" font-size="13.5" font-weight="normal" text-anchor="start" fill="#000" transform="translate(386.6 511.9) rotate(36.5)" textLength="54.5" lengthAdjust="spacingAndGlyphs">holoAADC</text>
<text x="0" y="0" font-family="Liberation Sans" font-size="13.5" font-weight="normal" text-anchor="start" fill="#000" transform="translate(422 510.2) rotate(35.5)" textLength="52" lengthAdjust="spacingAndGlyphs">apoAADC</text>
<path d="M360.6 568.4V574.7H439.6V568.4" fill="none" stroke="#000" stroke-width="2"/>
<text x="404.1" y="590.5" font-family="Liberation Sans" font-size="13.3" font-weight="normal" text-anchor="middle" fill="#000">SAXS</text>
</svg>
</body></html>
